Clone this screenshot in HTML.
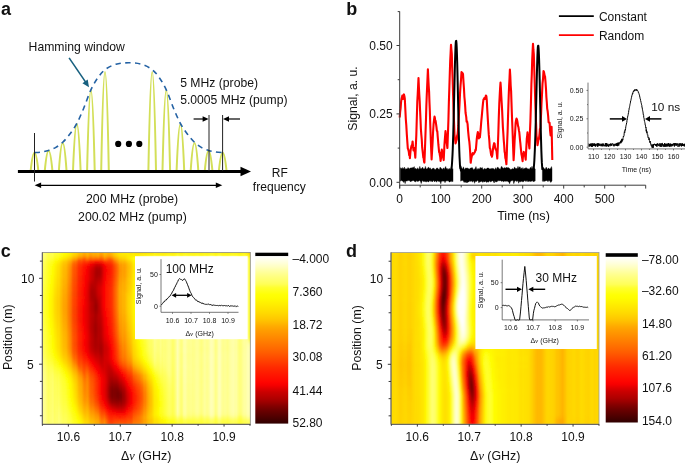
<!DOCTYPE html>
<html><head><meta charset="utf-8"><title>Figure</title>
<style>html,body{margin:0;padding:0;background:#fff;}svg{display:block;}text{font-family:"Liberation Sans",sans-serif;fill:#111;}</style>
</head><body><svg width="685" height="465" viewBox="0 0 685 465" font-family="Liberation Sans, sans-serif"><defs><clipPath id="clipc"><rect x="42.3" y="252.5" width="208" height="171.7"/></clipPath><clipPath id="clipd"><rect x="391" y="252.5" width="208" height="171.7"/></clipPath><filter id="hb" x="-5%" y="-5%" width="110%" height="110%"><feGaussianBlur stdDeviation="0.8 1.3"/></filter><linearGradient id="gc0" x1="0" x2="1" y1="0" y2="0"><stop offset="0.0000" stop-color="#ffff71"/><stop offset="0.0698" stop-color="#ffff49"/><stop offset="0.1302" stop-color="#fffb00"/><stop offset="0.2419" stop-color="#ffb400"/><stop offset="0.2977" stop-color="#ffb400"/><stop offset="0.4047" stop-color="#fff200"/><stop offset="0.4651" stop-color="#ffde00"/><stop offset="0.6837" stop-color="#fff200"/><stop offset="0.9628" stop-color="#fff400"/><stop offset="0.9721" stop-color="#ffd800"/><stop offset="0.9814" stop-color="#ffc300"/><stop offset="1.0000" stop-color="#ffc200"/></linearGradient><linearGradient id="gc1" x1="0" x2="1" y1="0" y2="0"><stop offset="0.0000" stop-color="#ffff71"/><stop offset="0.0651" stop-color="#ffff4c"/><stop offset="0.1256" stop-color="#fffe00"/><stop offset="0.2419" stop-color="#ffb000"/><stop offset="0.2930" stop-color="#ffac00"/><stop offset="0.4047" stop-color="#ffef00"/><stop offset="0.4651" stop-color="#ffdd00"/><stop offset="0.6605" stop-color="#fff200"/><stop offset="0.9628" stop-color="#fff400"/><stop offset="0.9721" stop-color="#ffd800"/><stop offset="0.9814" stop-color="#ffc300"/><stop offset="1.0000" stop-color="#ffc200"/></linearGradient><linearGradient id="gc2" x1="0" x2="1" y1="0" y2="0"><stop offset="0.0000" stop-color="#ffff70"/><stop offset="0.0651" stop-color="#ffff47"/><stop offset="0.1209" stop-color="#fffb00"/><stop offset="0.2419" stop-color="#ff9e00"/><stop offset="0.2884" stop-color="#ff9700"/><stop offset="0.3814" stop-color="#ffdc00"/><stop offset="0.4233" stop-color="#ffee00"/><stop offset="0.6512" stop-color="#fffc24"/><stop offset="0.9628" stop-color="#fffd29"/><stop offset="0.9721" stop-color="#ffee08"/><stop offset="0.9814" stop-color="#ffdc00"/><stop offset="1.0000" stop-color="#ffdb00"/></linearGradient><linearGradient id="gc3" x1="0" x2="1" y1="0" y2="0"><stop offset="0.0000" stop-color="#ffff6c"/><stop offset="0.0558" stop-color="#ffff41"/><stop offset="0.1023" stop-color="#fffa01"/><stop offset="0.2372" stop-color="#ff7100"/><stop offset="0.2791" stop-color="#ff5d00"/><stop offset="0.3488" stop-color="#ff9a00"/><stop offset="0.4372" stop-color="#fffd02"/><stop offset="0.4930" stop-color="#ffff54"/><stop offset="0.5581" stop-color="#ffff7b"/><stop offset="0.8186" stop-color="#ffff95"/><stop offset="0.9628" stop-color="#ffff92"/><stop offset="0.9674" stop-color="#ffff7c"/><stop offset="0.9767" stop-color="#ffff21"/><stop offset="0.9860" stop-color="#ffff12"/><stop offset="1.0000" stop-color="#ffff12"/></linearGradient><linearGradient id="gc4" x1="0" x2="1" y1="0" y2="0"><stop offset="0.0000" stop-color="#ffff66"/><stop offset="0.0512" stop-color="#ffff34"/><stop offset="0.0837" stop-color="#fffb01"/><stop offset="0.1535" stop-color="#ffa300"/><stop offset="0.2279" stop-color="#ff3800"/><stop offset="0.2744" stop-color="#fb1200"/><stop offset="0.3070" stop-color="#ff2d00"/><stop offset="0.3814" stop-color="#ff9b00"/><stop offset="0.4465" stop-color="#fff700"/><stop offset="0.4605" stop-color="#ffff10"/><stop offset="0.5023" stop-color="#ffff56"/><stop offset="0.5581" stop-color="#ffff7e"/><stop offset="0.7488" stop-color="#ffff97"/><stop offset="0.9581" stop-color="#ffff9c"/><stop offset="0.9628" stop-color="#ffff97"/><stop offset="0.9674" stop-color="#ffff81"/><stop offset="0.9767" stop-color="#ffff27"/><stop offset="0.9860" stop-color="#ffff18"/><stop offset="1.0000" stop-color="#ffff17"/></linearGradient><linearGradient id="gc5" x1="0" x2="1" y1="0" y2="0"><stop offset="0.0000" stop-color="#ffff62"/><stop offset="0.0465" stop-color="#ffff30"/><stop offset="0.0744" stop-color="#fffc00"/><stop offset="0.1349" stop-color="#ffad00"/><stop offset="0.2279" stop-color="#ff1000"/><stop offset="0.2512" stop-color="#f10000"/><stop offset="0.2744" stop-color="#c60000"/><stop offset="0.2884" stop-color="#d90000"/><stop offset="0.3070" stop-color="#fd0500"/><stop offset="0.3674" stop-color="#ff6800"/><stop offset="0.4419" stop-color="#ffe800"/><stop offset="0.4605" stop-color="#fffe00"/><stop offset="0.5023" stop-color="#ffff4f"/><stop offset="0.5535" stop-color="#ffff7a"/><stop offset="0.6884" stop-color="#ffff93"/><stop offset="0.9581" stop-color="#ffff9c"/><stop offset="0.9628" stop-color="#ffff97"/><stop offset="0.9674" stop-color="#ffff81"/><stop offset="0.9767" stop-color="#ffff27"/><stop offset="0.9860" stop-color="#ffff18"/><stop offset="1.0000" stop-color="#ffff17"/></linearGradient><linearGradient id="gc6" x1="0" x2="1" y1="0" y2="0"><stop offset="0.0000" stop-color="#ffff61"/><stop offset="0.0465" stop-color="#ffff2c"/><stop offset="0.0698" stop-color="#fffe00"/><stop offset="0.1302" stop-color="#ffae00"/><stop offset="0.2233" stop-color="#ff0800"/><stop offset="0.2465" stop-color="#e10000"/><stop offset="0.2744" stop-color="#a40000"/><stop offset="0.2837" stop-color="#ae0000"/><stop offset="0.3116" stop-color="#fa0000"/><stop offset="0.3767" stop-color="#ff7200"/><stop offset="0.4419" stop-color="#ffe500"/><stop offset="0.4651" stop-color="#ffff04"/><stop offset="0.5023" stop-color="#ffff4d"/><stop offset="0.5535" stop-color="#ffff7a"/><stop offset="0.6837" stop-color="#ffff93"/><stop offset="0.9581" stop-color="#ffff9c"/><stop offset="0.9628" stop-color="#ffff97"/><stop offset="0.9674" stop-color="#ffff81"/><stop offset="0.9767" stop-color="#ffff27"/><stop offset="0.9860" stop-color="#ffff18"/><stop offset="1.0000" stop-color="#ffff17"/></linearGradient><linearGradient id="gc7" x1="0" x2="1" y1="0" y2="0"><stop offset="0.0000" stop-color="#ffff60"/><stop offset="0.0465" stop-color="#ffff2a"/><stop offset="0.0698" stop-color="#fffd00"/><stop offset="0.1302" stop-color="#ffab00"/><stop offset="0.2233" stop-color="#ff0300"/><stop offset="0.2605" stop-color="#ba0000"/><stop offset="0.2744" stop-color="#970000"/><stop offset="0.2837" stop-color="#a20000"/><stop offset="0.3070" stop-color="#ec0000"/><stop offset="0.3163" stop-color="#ff0200"/><stop offset="0.4372" stop-color="#ffdf00"/><stop offset="0.4651" stop-color="#ffff04"/><stop offset="0.5023" stop-color="#ffff4d"/><stop offset="0.5535" stop-color="#ffff7a"/><stop offset="0.6837" stop-color="#ffff93"/><stop offset="0.9581" stop-color="#ffff9c"/><stop offset="0.9628" stop-color="#ffff97"/><stop offset="0.9674" stop-color="#ffff81"/><stop offset="0.9767" stop-color="#ffff27"/><stop offset="0.9860" stop-color="#ffff18"/><stop offset="1.0000" stop-color="#ffff17"/></linearGradient><linearGradient id="gc8" x1="0" x2="1" y1="0" y2="0"><stop offset="0.0000" stop-color="#ffff5f"/><stop offset="0.0465" stop-color="#ffff28"/><stop offset="0.0698" stop-color="#fffc00"/><stop offset="0.1302" stop-color="#ffa900"/><stop offset="0.2233" stop-color="#ff0100"/><stop offset="0.2605" stop-color="#b60000"/><stop offset="0.2744" stop-color="#950000"/><stop offset="0.2837" stop-color="#a10000"/><stop offset="0.3070" stop-color="#ed0000"/><stop offset="0.3209" stop-color="#ff0c00"/><stop offset="0.4372" stop-color="#ffe000"/><stop offset="0.4651" stop-color="#ffff06"/><stop offset="0.5023" stop-color="#ffff4e"/><stop offset="0.5535" stop-color="#ffff7a"/><stop offset="0.6884" stop-color="#ffff93"/><stop offset="0.9581" stop-color="#ffff9c"/><stop offset="0.9628" stop-color="#ffff97"/><stop offset="0.9674" stop-color="#ffff81"/><stop offset="0.9767" stop-color="#ffff27"/><stop offset="0.9860" stop-color="#ffff18"/><stop offset="1.0000" stop-color="#ffff17"/></linearGradient><linearGradient id="gc9" x1="0" x2="1" y1="0" y2="0"><stop offset="0.0000" stop-color="#ffff5e"/><stop offset="0.0465" stop-color="#ffff26"/><stop offset="0.0651" stop-color="#ffff00"/><stop offset="0.1209" stop-color="#ffb700"/><stop offset="0.2233" stop-color="#fe0000"/><stop offset="0.2744" stop-color="#9b0000"/><stop offset="0.2837" stop-color="#a80000"/><stop offset="0.3116" stop-color="#fd0000"/><stop offset="0.4372" stop-color="#ffe100"/><stop offset="0.4605" stop-color="#fffe00"/><stop offset="0.5023" stop-color="#ffff50"/><stop offset="0.5535" stop-color="#ffff7b"/><stop offset="0.6930" stop-color="#ffff94"/><stop offset="0.9581" stop-color="#ffff9c"/><stop offset="0.9628" stop-color="#ffff97"/><stop offset="0.9674" stop-color="#ffff81"/><stop offset="0.9767" stop-color="#ffff27"/><stop offset="0.9860" stop-color="#ffff18"/><stop offset="1.0000" stop-color="#ffff17"/></linearGradient><linearGradient id="gc10" x1="0" x2="1" y1="0" y2="0"><stop offset="0.0000" stop-color="#ffff5d"/><stop offset="0.0419" stop-color="#ffff2b"/><stop offset="0.0651" stop-color="#fffd00"/><stop offset="0.1256" stop-color="#ffac00"/><stop offset="0.2233" stop-color="#fb0000"/><stop offset="0.2651" stop-color="#ad0000"/><stop offset="0.2791" stop-color="#a90000"/><stop offset="0.3116" stop-color="#ff0200"/><stop offset="0.4279" stop-color="#ffd600"/><stop offset="0.4605" stop-color="#ffff01"/><stop offset="0.4977" stop-color="#ffff4b"/><stop offset="0.5488" stop-color="#ffff79"/><stop offset="0.6744" stop-color="#ffff92"/><stop offset="0.9581" stop-color="#ffff9c"/><stop offset="0.9628" stop-color="#ffff97"/><stop offset="0.9674" stop-color="#ffff81"/><stop offset="0.9767" stop-color="#ffff27"/><stop offset="0.9860" stop-color="#ffff18"/><stop offset="1.0000" stop-color="#ffff17"/></linearGradient><linearGradient id="gc11" x1="0" x2="1" y1="0" y2="0"><stop offset="0.0000" stop-color="#ffff5c"/><stop offset="0.0419" stop-color="#ffff28"/><stop offset="0.0651" stop-color="#fffc00"/><stop offset="0.1256" stop-color="#ffaa00"/><stop offset="0.2186" stop-color="#ff0300"/><stop offset="0.2558" stop-color="#b40000"/><stop offset="0.2744" stop-color="#b00000"/><stop offset="0.2930" stop-color="#d40000"/><stop offset="0.3116" stop-color="#ff0500"/><stop offset="0.4000" stop-color="#ffa900"/><stop offset="0.4558" stop-color="#fffc00"/><stop offset="0.5023" stop-color="#ffff53"/><stop offset="0.5581" stop-color="#ffff7e"/><stop offset="0.7395" stop-color="#ffff97"/><stop offset="0.9581" stop-color="#ffff9c"/><stop offset="0.9628" stop-color="#ffff97"/><stop offset="0.9674" stop-color="#ffff81"/><stop offset="0.9767" stop-color="#ffff27"/><stop offset="0.9860" stop-color="#ffff18"/><stop offset="1.0000" stop-color="#ffff17"/></linearGradient><linearGradient id="gc12" x1="0" x2="1" y1="0" y2="0"><stop offset="0.0000" stop-color="#ffff5b"/><stop offset="0.0419" stop-color="#ffff26"/><stop offset="0.0605" stop-color="#ffff00"/><stop offset="0.1163" stop-color="#ffb700"/><stop offset="0.2186" stop-color="#ff0100"/><stop offset="0.2512" stop-color="#b10000"/><stop offset="0.2698" stop-color="#b30000"/><stop offset="0.2977" stop-color="#e50000"/><stop offset="0.3070" stop-color="#fd0000"/><stop offset="0.4000" stop-color="#ffac00"/><stop offset="0.4558" stop-color="#fffe00"/><stop offset="0.4977" stop-color="#ffff4f"/><stop offset="0.5488" stop-color="#ffff7a"/><stop offset="0.6930" stop-color="#ffff94"/><stop offset="0.9581" stop-color="#ffff9c"/><stop offset="0.9628" stop-color="#ffff97"/><stop offset="0.9674" stop-color="#ffff81"/><stop offset="0.9767" stop-color="#ffff27"/><stop offset="0.9860" stop-color="#ffff18"/><stop offset="1.0000" stop-color="#ffff17"/></linearGradient><linearGradient id="gc13" x1="0" x2="1" y1="0" y2="0"><stop offset="0.0000" stop-color="#ffff59"/><stop offset="0.0419" stop-color="#ffff23"/><stop offset="0.0605" stop-color="#fffd00"/><stop offset="0.1209" stop-color="#ffac00"/><stop offset="0.2186" stop-color="#ff0000"/><stop offset="0.2512" stop-color="#aa0000"/><stop offset="0.2651" stop-color="#ad0000"/><stop offset="0.3070" stop-color="#ff0100"/><stop offset="0.3814" stop-color="#ff8e00"/><stop offset="0.4465" stop-color="#fff500"/><stop offset="0.4558" stop-color="#ffff01"/><stop offset="0.4930" stop-color="#ffff4b"/><stop offset="0.5442" stop-color="#ffff79"/><stop offset="0.6744" stop-color="#ffff92"/><stop offset="0.9581" stop-color="#ffff9c"/><stop offset="0.9628" stop-color="#ffff97"/><stop offset="0.9674" stop-color="#ffff81"/><stop offset="0.9767" stop-color="#ffff27"/><stop offset="0.9860" stop-color="#ffff18"/><stop offset="1.0000" stop-color="#ffff17"/></linearGradient><linearGradient id="gc14" x1="0" x2="1" y1="0" y2="0"><stop offset="0.0000" stop-color="#ffff58"/><stop offset="0.0419" stop-color="#ffff20"/><stop offset="0.0605" stop-color="#fffc00"/><stop offset="0.1209" stop-color="#ffaa00"/><stop offset="0.2186" stop-color="#fd0000"/><stop offset="0.2512" stop-color="#a40000"/><stop offset="0.2651" stop-color="#aa0000"/><stop offset="0.3070" stop-color="#ff0200"/><stop offset="0.3907" stop-color="#ffa100"/><stop offset="0.4465" stop-color="#fff700"/><stop offset="0.4605" stop-color="#ffff11"/><stop offset="0.4977" stop-color="#ffff53"/><stop offset="0.5535" stop-color="#ffff7d"/><stop offset="0.7395" stop-color="#ffff97"/><stop offset="0.9581" stop-color="#ffff9c"/><stop offset="0.9628" stop-color="#ffff97"/><stop offset="0.9674" stop-color="#ffff81"/><stop offset="0.9767" stop-color="#ffff27"/><stop offset="0.9860" stop-color="#ffff18"/><stop offset="1.0000" stop-color="#ffff17"/></linearGradient><linearGradient id="gc15" x1="0" x2="1" y1="0" y2="0"><stop offset="0.0000" stop-color="#ffff57"/><stop offset="0.0419" stop-color="#ffff1d"/><stop offset="0.0558" stop-color="#ffff00"/><stop offset="0.1116" stop-color="#ffb700"/><stop offset="0.2186" stop-color="#fb0000"/><stop offset="0.2512" stop-color="#a30000"/><stop offset="0.2651" stop-color="#a50000"/><stop offset="0.3070" stop-color="#ff0300"/><stop offset="0.4093" stop-color="#ffc400"/><stop offset="0.4512" stop-color="#fffd00"/><stop offset="0.4930" stop-color="#ffff4f"/><stop offset="0.5442" stop-color="#ffff7a"/><stop offset="0.6837" stop-color="#ffff93"/><stop offset="0.9581" stop-color="#ffff9c"/><stop offset="0.9628" stop-color="#ffff97"/><stop offset="0.9674" stop-color="#ffff81"/><stop offset="0.9767" stop-color="#ffff27"/><stop offset="0.9860" stop-color="#ffff18"/><stop offset="1.0000" stop-color="#ffff17"/></linearGradient><linearGradient id="gc16" x1="0" x2="1" y1="0" y2="0"><stop offset="0.0000" stop-color="#ffff56"/><stop offset="0.0419" stop-color="#ffff1b"/><stop offset="0.0558" stop-color="#fffe00"/><stop offset="0.1163" stop-color="#ffad00"/><stop offset="0.2093" stop-color="#ff0c00"/><stop offset="0.2233" stop-color="#ee0000"/><stop offset="0.2512" stop-color="#a50000"/><stop offset="0.2651" stop-color="#9e0000"/><stop offset="0.2791" stop-color="#b90000"/><stop offset="0.3070" stop-color="#ff0300"/><stop offset="0.4186" stop-color="#ffd400"/><stop offset="0.4512" stop-color="#fffe00"/><stop offset="0.4884" stop-color="#ffff49"/><stop offset="0.5395" stop-color="#ffff78"/><stop offset="0.6651" stop-color="#ffff91"/><stop offset="0.9581" stop-color="#ffff9c"/><stop offset="0.9628" stop-color="#ffff97"/><stop offset="0.9674" stop-color="#ffff81"/><stop offset="0.9767" stop-color="#ffff27"/><stop offset="0.9860" stop-color="#ffff18"/><stop offset="1.0000" stop-color="#ffff17"/></linearGradient><linearGradient id="gc17" x1="0" x2="1" y1="0" y2="0"><stop offset="0.0000" stop-color="#ffff55"/><stop offset="0.0419" stop-color="#ffff1a"/><stop offset="0.0558" stop-color="#fffd00"/><stop offset="0.1163" stop-color="#ffac00"/><stop offset="0.2140" stop-color="#ff0300"/><stop offset="0.2558" stop-color="#a20000"/><stop offset="0.2698" stop-color="#970000"/><stop offset="0.2791" stop-color="#af0000"/><stop offset="0.2977" stop-color="#ec0000"/><stop offset="0.3070" stop-color="#ff0200"/><stop offset="0.4186" stop-color="#ffd500"/><stop offset="0.4512" stop-color="#ffff00"/><stop offset="0.4884" stop-color="#ffff4a"/><stop offset="0.5395" stop-color="#ffff78"/><stop offset="0.6698" stop-color="#ffff92"/><stop offset="0.9581" stop-color="#ffff9c"/><stop offset="0.9628" stop-color="#ffff97"/><stop offset="0.9674" stop-color="#ffff81"/><stop offset="0.9767" stop-color="#ffff27"/><stop offset="0.9860" stop-color="#ffff18"/><stop offset="1.0000" stop-color="#ffff17"/></linearGradient><linearGradient id="gc18" x1="0" x2="1" y1="0" y2="0"><stop offset="0.0000" stop-color="#ffff55"/><stop offset="0.0419" stop-color="#ffff19"/><stop offset="0.0558" stop-color="#fffd00"/><stop offset="0.1163" stop-color="#ffab00"/><stop offset="0.2140" stop-color="#ff0100"/><stop offset="0.2698" stop-color="#8d0000"/><stop offset="0.2791" stop-color="#a60000"/><stop offset="0.2930" stop-color="#de0000"/><stop offset="0.3070" stop-color="#ff0100"/><stop offset="0.4186" stop-color="#ffd500"/><stop offset="0.4512" stop-color="#ffff01"/><stop offset="0.4884" stop-color="#ffff4b"/><stop offset="0.5395" stop-color="#ffff78"/><stop offset="0.6698" stop-color="#ffff92"/><stop offset="0.9581" stop-color="#ffff9c"/><stop offset="0.9628" stop-color="#ffff97"/><stop offset="0.9674" stop-color="#ffff81"/><stop offset="0.9767" stop-color="#ffff27"/><stop offset="0.9860" stop-color="#ffff18"/><stop offset="1.0000" stop-color="#ffff17"/></linearGradient><linearGradient id="gc19" x1="0" x2="1" y1="0" y2="0"><stop offset="0.0000" stop-color="#ffff54"/><stop offset="0.0419" stop-color="#ffff18"/><stop offset="0.0558" stop-color="#fffd00"/><stop offset="0.1116" stop-color="#ffb200"/><stop offset="0.2140" stop-color="#fe0000"/><stop offset="0.2698" stop-color="#8a0000"/><stop offset="0.2744" stop-color="#8f0000"/><stop offset="0.2930" stop-color="#dc0000"/><stop offset="0.3070" stop-color="#fe0000"/><stop offset="0.4186" stop-color="#ffd500"/><stop offset="0.4512" stop-color="#ffff00"/><stop offset="0.4884" stop-color="#ffff4a"/><stop offset="0.5395" stop-color="#ffff78"/><stop offset="0.6698" stop-color="#ffff92"/><stop offset="0.9581" stop-color="#ffff9c"/><stop offset="0.9628" stop-color="#ffff97"/><stop offset="0.9674" stop-color="#ffff81"/><stop offset="0.9767" stop-color="#ffff27"/><stop offset="0.9860" stop-color="#ffff18"/><stop offset="1.0000" stop-color="#ffff17"/></linearGradient><linearGradient id="gc20" x1="0" x2="1" y1="0" y2="0"><stop offset="0.0000" stop-color="#ffff55"/><stop offset="0.0419" stop-color="#ffff19"/><stop offset="0.0558" stop-color="#fffd00"/><stop offset="0.1116" stop-color="#ffb200"/><stop offset="0.2140" stop-color="#fb0000"/><stop offset="0.2698" stop-color="#8d0000"/><stop offset="0.2791" stop-color="#a20000"/><stop offset="0.2930" stop-color="#d90000"/><stop offset="0.3116" stop-color="#ff0500"/><stop offset="0.4186" stop-color="#ffd400"/><stop offset="0.4512" stop-color="#fffe00"/><stop offset="0.4884" stop-color="#ffff49"/><stop offset="0.5395" stop-color="#ffff78"/><stop offset="0.6651" stop-color="#ffff91"/><stop offset="0.9581" stop-color="#ffff9c"/><stop offset="0.9628" stop-color="#ffff97"/><stop offset="0.9674" stop-color="#ffff81"/><stop offset="0.9767" stop-color="#ffff27"/><stop offset="0.9860" stop-color="#ffff18"/><stop offset="1.0000" stop-color="#ffff17"/></linearGradient><linearGradient id="gc21" x1="0" x2="1" y1="0" y2="0"><stop offset="0.0000" stop-color="#ffff55"/><stop offset="0.0419" stop-color="#ffff1a"/><stop offset="0.0558" stop-color="#fffd00"/><stop offset="0.1116" stop-color="#ffb300"/><stop offset="0.2140" stop-color="#f90000"/><stop offset="0.2698" stop-color="#940000"/><stop offset="0.2791" stop-color="#a60000"/><stop offset="0.2977" stop-color="#e10000"/><stop offset="0.3116" stop-color="#ff0200"/><stop offset="0.4186" stop-color="#ffd300"/><stop offset="0.4512" stop-color="#fffd00"/><stop offset="0.4930" stop-color="#ffff4f"/><stop offset="0.5442" stop-color="#ffff7a"/><stop offset="0.6884" stop-color="#ffff93"/><stop offset="0.9581" stop-color="#ffff9c"/><stop offset="0.9628" stop-color="#ffff97"/><stop offset="0.9674" stop-color="#ffff81"/><stop offset="0.9767" stop-color="#ffff27"/><stop offset="0.9860" stop-color="#ffff18"/><stop offset="1.0000" stop-color="#ffff17"/></linearGradient><linearGradient id="gc22" x1="0" x2="1" y1="0" y2="0"><stop offset="0.0000" stop-color="#ffff56"/><stop offset="0.0419" stop-color="#ffff1c"/><stop offset="0.0558" stop-color="#fffe00"/><stop offset="0.1116" stop-color="#ffb500"/><stop offset="0.2093" stop-color="#ff0300"/><stop offset="0.2698" stop-color="#9b0000"/><stop offset="0.2837" stop-color="#b90000"/><stop offset="0.3116" stop-color="#fe0000"/><stop offset="0.4233" stop-color="#ffd800"/><stop offset="0.4558" stop-color="#ffff05"/><stop offset="0.4930" stop-color="#ffff4d"/><stop offset="0.5442" stop-color="#ffff79"/><stop offset="0.6791" stop-color="#ffff92"/><stop offset="0.9581" stop-color="#ffff9c"/><stop offset="0.9628" stop-color="#ffff97"/><stop offset="0.9674" stop-color="#ffff81"/><stop offset="0.9767" stop-color="#ffff27"/><stop offset="0.9860" stop-color="#ffff18"/><stop offset="1.0000" stop-color="#ffff17"/></linearGradient><linearGradient id="gc23" x1="0" x2="1" y1="0" y2="0"><stop offset="0.0000" stop-color="#ffff57"/><stop offset="0.0419" stop-color="#ffff1e"/><stop offset="0.0558" stop-color="#ffff01"/><stop offset="0.1116" stop-color="#ffb700"/><stop offset="0.2140" stop-color="#f90000"/><stop offset="0.2651" stop-color="#9e0000"/><stop offset="0.2791" stop-color="#ab0000"/><stop offset="0.3163" stop-color="#ff0400"/><stop offset="0.4233" stop-color="#ffd600"/><stop offset="0.4558" stop-color="#ffff01"/><stop offset="0.4930" stop-color="#ffff4b"/><stop offset="0.5442" stop-color="#ffff79"/><stop offset="0.6744" stop-color="#ffff92"/><stop offset="0.9581" stop-color="#ffff9c"/><stop offset="0.9628" stop-color="#ffff97"/><stop offset="0.9674" stop-color="#ffff81"/><stop offset="0.9767" stop-color="#ffff27"/><stop offset="0.9860" stop-color="#ffff18"/><stop offset="1.0000" stop-color="#ffff17"/></linearGradient><linearGradient id="gc24" x1="0" x2="1" y1="0" y2="0"><stop offset="0.0000" stop-color="#ffff59"/><stop offset="0.0419" stop-color="#ffff21"/><stop offset="0.0605" stop-color="#fffc00"/><stop offset="0.1163" stop-color="#ffb100"/><stop offset="0.2140" stop-color="#fb0000"/><stop offset="0.2651" stop-color="#9c0000"/><stop offset="0.2791" stop-color="#a90000"/><stop offset="0.3163" stop-color="#ff0100"/><stop offset="0.4233" stop-color="#ffd300"/><stop offset="0.4558" stop-color="#fffe00"/><stop offset="0.4977" stop-color="#ffff50"/><stop offset="0.5488" stop-color="#ffff7a"/><stop offset="0.6930" stop-color="#ffff94"/><stop offset="0.9581" stop-color="#ffff9c"/><stop offset="0.9628" stop-color="#ffff97"/><stop offset="0.9674" stop-color="#ffff81"/><stop offset="0.9767" stop-color="#ffff27"/><stop offset="0.9860" stop-color="#ffff18"/><stop offset="1.0000" stop-color="#ffff17"/></linearGradient><linearGradient id="gc25" x1="0" x2="1" y1="0" y2="0"><stop offset="0.0000" stop-color="#ffff5a"/><stop offset="0.0419" stop-color="#ffff24"/><stop offset="0.0605" stop-color="#fffe00"/><stop offset="0.1163" stop-color="#ffb400"/><stop offset="0.2140" stop-color="#fe0000"/><stop offset="0.2651" stop-color="#980000"/><stop offset="0.2791" stop-color="#a60000"/><stop offset="0.3163" stop-color="#fd0000"/><stop offset="0.4279" stop-color="#ffd800"/><stop offset="0.4605" stop-color="#ffff05"/><stop offset="0.4977" stop-color="#ffff4e"/><stop offset="0.5488" stop-color="#ffff7a"/><stop offset="0.6837" stop-color="#ffff93"/><stop offset="0.9581" stop-color="#ffff9c"/><stop offset="0.9628" stop-color="#ffff97"/><stop offset="0.9674" stop-color="#ffff81"/><stop offset="0.9767" stop-color="#ffff27"/><stop offset="0.9860" stop-color="#ffff18"/><stop offset="1.0000" stop-color="#ffff17"/></linearGradient><linearGradient id="gc26" x1="0" x2="1" y1="0" y2="0"><stop offset="0.0000" stop-color="#ffff5c"/><stop offset="0.0419" stop-color="#ffff27"/><stop offset="0.0605" stop-color="#ffff01"/><stop offset="0.1163" stop-color="#ffb700"/><stop offset="0.2140" stop-color="#ff0200"/><stop offset="0.2651" stop-color="#960000"/><stop offset="0.2791" stop-color="#a40000"/><stop offset="0.3209" stop-color="#ff0400"/><stop offset="0.4279" stop-color="#ffd500"/><stop offset="0.4605" stop-color="#ffff01"/><stop offset="0.4977" stop-color="#ffff4b"/><stop offset="0.5488" stop-color="#ffff79"/><stop offset="0.6791" stop-color="#ffff92"/><stop offset="0.9581" stop-color="#ffff9c"/><stop offset="0.9628" stop-color="#ffff97"/><stop offset="0.9674" stop-color="#ffff81"/><stop offset="0.9767" stop-color="#ffff27"/><stop offset="0.9860" stop-color="#ffff18"/><stop offset="1.0000" stop-color="#ffff17"/></linearGradient><linearGradient id="gc27" x1="0" x2="1" y1="0" y2="0"><stop offset="0.0000" stop-color="#ffff5d"/><stop offset="0.0419" stop-color="#ffff2a"/><stop offset="0.0651" stop-color="#fffd00"/><stop offset="0.1209" stop-color="#ffb200"/><stop offset="0.2186" stop-color="#fb0000"/><stop offset="0.2651" stop-color="#960000"/><stop offset="0.2791" stop-color="#a30000"/><stop offset="0.3209" stop-color="#ff0100"/><stop offset="0.4279" stop-color="#ffd300"/><stop offset="0.4605" stop-color="#fffe00"/><stop offset="0.5023" stop-color="#ffff4f"/><stop offset="0.5535" stop-color="#ffff7b"/><stop offset="0.6930" stop-color="#ffff94"/><stop offset="0.9581" stop-color="#ffff9c"/><stop offset="0.9628" stop-color="#ffff97"/><stop offset="0.9674" stop-color="#ffff82"/><stop offset="0.9767" stop-color="#ffff27"/><stop offset="0.9860" stop-color="#ffff18"/><stop offset="1.0000" stop-color="#ffff18"/></linearGradient><linearGradient id="gc28" x1="0" x2="1" y1="0" y2="0"><stop offset="0.0000" stop-color="#ffff5e"/><stop offset="0.0419" stop-color="#ffff2d"/><stop offset="0.0651" stop-color="#fffe00"/><stop offset="0.1209" stop-color="#ffb500"/><stop offset="0.2186" stop-color="#ff0000"/><stop offset="0.2651" stop-color="#990000"/><stop offset="0.2791" stop-color="#a40000"/><stop offset="0.3209" stop-color="#fd0000"/><stop offset="0.4326" stop-color="#ffd700"/><stop offset="0.4651" stop-color="#ffff04"/><stop offset="0.5023" stop-color="#ffff4d"/><stop offset="0.5535" stop-color="#ffff7a"/><stop offset="0.6884" stop-color="#ffff93"/><stop offset="0.9581" stop-color="#ffff9c"/><stop offset="0.9628" stop-color="#ffff97"/><stop offset="0.9674" stop-color="#ffff82"/><stop offset="0.9767" stop-color="#ffff29"/><stop offset="0.9860" stop-color="#ffff1a"/><stop offset="1.0000" stop-color="#ffff19"/></linearGradient><linearGradient id="gc29" x1="0" x2="1" y1="0" y2="0"><stop offset="0.0000" stop-color="#ffff5f"/><stop offset="0.0465" stop-color="#ffff28"/><stop offset="0.0651" stop-color="#ffff02"/><stop offset="0.1209" stop-color="#ffb700"/><stop offset="0.2186" stop-color="#ff0100"/><stop offset="0.2651" stop-color="#9c0000"/><stop offset="0.2791" stop-color="#a50000"/><stop offset="0.3256" stop-color="#ff0200"/><stop offset="0.4326" stop-color="#ffd500"/><stop offset="0.4651" stop-color="#ffff00"/><stop offset="0.5023" stop-color="#ffff4b"/><stop offset="0.5535" stop-color="#ffff79"/><stop offset="0.6791" stop-color="#ffff92"/><stop offset="0.9581" stop-color="#ffff9c"/><stop offset="0.9628" stop-color="#ffff98"/><stop offset="0.9674" stop-color="#ffff83"/><stop offset="0.9767" stop-color="#ffff2f"/><stop offset="0.9860" stop-color="#ffff20"/><stop offset="1.0000" stop-color="#ffff20"/></linearGradient><linearGradient id="gc30" x1="0" x2="1" y1="0" y2="0"><stop offset="0.0000" stop-color="#ffff60"/><stop offset="0.0465" stop-color="#ffff29"/><stop offset="0.0698" stop-color="#fffc00"/><stop offset="0.1256" stop-color="#ffb100"/><stop offset="0.2186" stop-color="#ff0000"/><stop offset="0.2651" stop-color="#9f0000"/><stop offset="0.2837" stop-color="#ab0000"/><stop offset="0.3302" stop-color="#ff0500"/><stop offset="0.4326" stop-color="#ffd100"/><stop offset="0.4698" stop-color="#ffff07"/><stop offset="0.5070" stop-color="#ffff4e"/><stop offset="0.5581" stop-color="#ffff7b"/><stop offset="0.6930" stop-color="#ffff94"/><stop offset="0.9628" stop-color="#ffff99"/><stop offset="0.9674" stop-color="#ffff88"/><stop offset="0.9767" stop-color="#ffff42"/><stop offset="0.9907" stop-color="#ffff36"/><stop offset="1.0000" stop-color="#ffff36"/></linearGradient><linearGradient id="gc31" x1="0" x2="1" y1="0" y2="0"><stop offset="0.0000" stop-color="#ffff61"/><stop offset="0.0465" stop-color="#ffff2b"/><stop offset="0.0698" stop-color="#fffd00"/><stop offset="0.1256" stop-color="#ffb200"/><stop offset="0.2186" stop-color="#fd0000"/><stop offset="0.2605" stop-color="#a60000"/><stop offset="0.2791" stop-color="#a30000"/><stop offset="0.3163" stop-color="#db0000"/><stop offset="0.3302" stop-color="#fc0000"/><stop offset="0.4326" stop-color="#ffce00"/><stop offset="0.4698" stop-color="#ffff01"/><stop offset="0.5070" stop-color="#ffff4b"/><stop offset="0.5581" stop-color="#ffff7a"/><stop offset="0.6837" stop-color="#ffff93"/><stop offset="0.9628" stop-color="#ffff9b"/><stop offset="0.9674" stop-color="#ffff91"/><stop offset="0.9767" stop-color="#ffff69"/><stop offset="1.0000" stop-color="#ffff63"/></linearGradient><linearGradient id="gc32" x1="0" x2="1" y1="0" y2="0"><stop offset="0.0000" stop-color="#ffff62"/><stop offset="0.0465" stop-color="#ffff2d"/><stop offset="0.0698" stop-color="#fffe00"/><stop offset="0.1256" stop-color="#ffb300"/><stop offset="0.2186" stop-color="#fd0000"/><stop offset="0.2605" stop-color="#a70000"/><stop offset="0.2791" stop-color="#a20000"/><stop offset="0.3116" stop-color="#ca0000"/><stop offset="0.3349" stop-color="#ff0100"/><stop offset="0.4326" stop-color="#ffca00"/><stop offset="0.4698" stop-color="#fffd00"/><stop offset="0.5163" stop-color="#ffff55"/><stop offset="0.5674" stop-color="#ffff7e"/><stop offset="0.7256" stop-color="#ffff96"/><stop offset="0.9674" stop-color="#ffff99"/><stop offset="0.9860" stop-color="#ffff89"/><stop offset="1.0000" stop-color="#ffff89"/></linearGradient><linearGradient id="gc33" x1="0" x2="1" y1="0" y2="0"><stop offset="0.0000" stop-color="#ffff63"/><stop offset="0.0465" stop-color="#ffff30"/><stop offset="0.0698" stop-color="#ffff01"/><stop offset="0.1256" stop-color="#ffb600"/><stop offset="0.2186" stop-color="#ff0100"/><stop offset="0.2605" stop-color="#ac0000"/><stop offset="0.2837" stop-color="#a50000"/><stop offset="0.3163" stop-color="#ce0000"/><stop offset="0.3395" stop-color="#ff0600"/><stop offset="0.4326" stop-color="#ffc700"/><stop offset="0.4744" stop-color="#ffff01"/><stop offset="0.5116" stop-color="#ffff4c"/><stop offset="0.5581" stop-color="#ffff78"/><stop offset="0.6698" stop-color="#ffff91"/><stop offset="0.9767" stop-color="#ffff99"/><stop offset="1.0000" stop-color="#ffff98"/></linearGradient><linearGradient id="gc34" x1="0" x2="1" y1="0" y2="0"><stop offset="0.0000" stop-color="#ffff64"/><stop offset="0.0465" stop-color="#ffff34"/><stop offset="0.0744" stop-color="#fffe00"/><stop offset="0.1302" stop-color="#ffb300"/><stop offset="0.2233" stop-color="#fc0000"/><stop offset="0.2605" stop-color="#b40000"/><stop offset="0.2837" stop-color="#aa0000"/><stop offset="0.3116" stop-color="#c50000"/><stop offset="0.3395" stop-color="#ff0300"/><stop offset="0.4372" stop-color="#ffcb00"/><stop offset="0.4791" stop-color="#ffff06"/><stop offset="0.5163" stop-color="#ffff4f"/><stop offset="0.5628" stop-color="#ffff7a"/><stop offset="0.6837" stop-color="#ffff93"/><stop offset="1.0000" stop-color="#ffff9d"/></linearGradient><linearGradient id="gc35" x1="0" x2="1" y1="0" y2="0"><stop offset="0.0000" stop-color="#ffff67"/><stop offset="0.0465" stop-color="#ffff39"/><stop offset="0.0791" stop-color="#fffd00"/><stop offset="0.1349" stop-color="#ffb200"/><stop offset="0.2279" stop-color="#fd0200"/><stop offset="0.2651" stop-color="#bc0000"/><stop offset="0.2930" stop-color="#b50000"/><stop offset="0.3209" stop-color="#d70000"/><stop offset="0.3395" stop-color="#ff0200"/><stop offset="0.4419" stop-color="#ffce00"/><stop offset="0.4791" stop-color="#fffe00"/><stop offset="0.5256" stop-color="#ffff57"/><stop offset="0.5767" stop-color="#ffff7f"/><stop offset="0.7488" stop-color="#ffff97"/><stop offset="1.0000" stop-color="#ffff9e"/></linearGradient><linearGradient id="gc36" x1="0" x2="1" y1="0" y2="0"><stop offset="0.0000" stop-color="#ffff69"/><stop offset="0.0512" stop-color="#ffff3a"/><stop offset="0.0837" stop-color="#fffd00"/><stop offset="0.1395" stop-color="#ffb400"/><stop offset="0.2326" stop-color="#ff0500"/><stop offset="0.2744" stop-color="#c10000"/><stop offset="0.3023" stop-color="#c10000"/><stop offset="0.3302" stop-color="#e90000"/><stop offset="0.3395" stop-color="#fe0000"/><stop offset="0.4465" stop-color="#ffcf00"/><stop offset="0.4837" stop-color="#fffd00"/><stop offset="0.5302" stop-color="#ffff58"/><stop offset="0.5814" stop-color="#ffff80"/><stop offset="0.7535" stop-color="#ffff98"/><stop offset="1.0000" stop-color="#ffff9e"/></linearGradient><linearGradient id="gc37" x1="0" x2="1" y1="0" y2="0"><stop offset="0.0000" stop-color="#ffff6c"/><stop offset="0.0512" stop-color="#ffff43"/><stop offset="0.0930" stop-color="#fffb00"/><stop offset="0.1488" stop-color="#ffb000"/><stop offset="0.2419" stop-color="#ff0400"/><stop offset="0.2791" stop-color="#ca0000"/><stop offset="0.3070" stop-color="#c70000"/><stop offset="0.3349" stop-color="#ed0000"/><stop offset="0.3488" stop-color="#ff0900"/><stop offset="0.4465" stop-color="#ffc600"/><stop offset="0.4930" stop-color="#fffe04"/><stop offset="0.5349" stop-color="#ffff56"/><stop offset="0.5814" stop-color="#ffff7e"/><stop offset="0.7256" stop-color="#ffff96"/><stop offset="1.0000" stop-color="#ffff9e"/></linearGradient><linearGradient id="gc38" x1="0" x2="1" y1="0" y2="0"><stop offset="0.0000" stop-color="#ffff70"/><stop offset="0.0558" stop-color="#ffff47"/><stop offset="0.1023" stop-color="#fffa00"/><stop offset="0.1581" stop-color="#ffae00"/><stop offset="0.2512" stop-color="#ff0400"/><stop offset="0.2884" stop-color="#cd0000"/><stop offset="0.3163" stop-color="#cd0000"/><stop offset="0.3535" stop-color="#ff0600"/><stop offset="0.4512" stop-color="#ffbf00"/><stop offset="0.5023" stop-color="#fffe06"/><stop offset="0.5395" stop-color="#ffff53"/><stop offset="0.5860" stop-color="#ffff7d"/><stop offset="0.7163" stop-color="#ffff95"/><stop offset="1.0000" stop-color="#ffff9e"/></linearGradient><linearGradient id="gc39" x1="0" x2="1" y1="0" y2="0"><stop offset="0.0000" stop-color="#ffff73"/><stop offset="0.0558" stop-color="#ffff52"/><stop offset="0.0977" stop-color="#ffff13"/><stop offset="0.1116" stop-color="#fffa00"/><stop offset="0.1721" stop-color="#ffa600"/><stop offset="0.2605" stop-color="#ff0500"/><stop offset="0.3023" stop-color="#cc0000"/><stop offset="0.3302" stop-color="#d20000"/><stop offset="0.3628" stop-color="#ff0500"/><stop offset="0.4558" stop-color="#ffb500"/><stop offset="0.5116" stop-color="#fffe06"/><stop offset="0.5442" stop-color="#ffff4e"/><stop offset="0.5860" stop-color="#ffff79"/><stop offset="0.6884" stop-color="#ffff93"/><stop offset="1.0000" stop-color="#ffff9e"/></linearGradient><linearGradient id="gc40" x1="0" x2="1" y1="0" y2="0"><stop offset="0.0000" stop-color="#ffff75"/><stop offset="0.0605" stop-color="#ffff56"/><stop offset="0.1023" stop-color="#ffff1d"/><stop offset="0.1209" stop-color="#fffa00"/><stop offset="0.1767" stop-color="#ffae00"/><stop offset="0.2698" stop-color="#ff0500"/><stop offset="0.3116" stop-color="#cc0000"/><stop offset="0.3395" stop-color="#d10000"/><stop offset="0.3721" stop-color="#fd0300"/><stop offset="0.4651" stop-color="#ffb000"/><stop offset="0.5209" stop-color="#fffe06"/><stop offset="0.5535" stop-color="#ffff50"/><stop offset="0.6000" stop-color="#ffff7c"/><stop offset="0.7116" stop-color="#ffff95"/><stop offset="1.0000" stop-color="#ffff9e"/></linearGradient><linearGradient id="gc41" x1="0" x2="1" y1="0" y2="0"><stop offset="0.0000" stop-color="#ffff77"/><stop offset="0.0651" stop-color="#ffff5a"/><stop offset="0.1070" stop-color="#ffff25"/><stop offset="0.1302" stop-color="#fffa00"/><stop offset="0.1860" stop-color="#ffae00"/><stop offset="0.2791" stop-color="#ff0400"/><stop offset="0.3163" stop-color="#cc0000"/><stop offset="0.3488" stop-color="#cc0000"/><stop offset="0.3721" stop-color="#e60000"/><stop offset="0.3860" stop-color="#ff0700"/><stop offset="0.4698" stop-color="#ffa200"/><stop offset="0.5256" stop-color="#fffc00"/><stop offset="0.5628" stop-color="#ffff51"/><stop offset="0.6093" stop-color="#ffff7d"/><stop offset="0.7209" stop-color="#ffff95"/><stop offset="1.0000" stop-color="#ffff9e"/></linearGradient><linearGradient id="gc42" x1="0" x2="1" y1="0" y2="0"><stop offset="0.0000" stop-color="#ffff78"/><stop offset="0.0698" stop-color="#ffff5d"/><stop offset="0.1116" stop-color="#ffff2b"/><stop offset="0.1349" stop-color="#fffd00"/><stop offset="0.1907" stop-color="#ffb300"/><stop offset="0.2884" stop-color="#fd0100"/><stop offset="0.3209" stop-color="#ca0000"/><stop offset="0.3628" stop-color="#c20000"/><stop offset="0.3814" stop-color="#e00000"/><stop offset="0.3953" stop-color="#ff0600"/><stop offset="0.5349" stop-color="#fffe02"/><stop offset="0.5674" stop-color="#ffff4c"/><stop offset="0.6140" stop-color="#ffff7c"/><stop offset="0.7163" stop-color="#ffff95"/><stop offset="1.0000" stop-color="#ffff9e"/></linearGradient><linearGradient id="gc43" x1="0" x2="1" y1="0" y2="0"><stop offset="0.0000" stop-color="#ffff79"/><stop offset="0.0744" stop-color="#ffff5e"/><stop offset="0.1163" stop-color="#ffff2d"/><stop offset="0.1395" stop-color="#fffe01"/><stop offset="0.1953" stop-color="#ffb500"/><stop offset="0.2930" stop-color="#fd0000"/><stop offset="0.3256" stop-color="#c50000"/><stop offset="0.3674" stop-color="#b00000"/><stop offset="0.3860" stop-color="#d10000"/><stop offset="0.4000" stop-color="#fb0100"/><stop offset="0.5070" stop-color="#ffc400"/><stop offset="0.5395" stop-color="#fffc00"/><stop offset="0.5767" stop-color="#ffff51"/><stop offset="0.6233" stop-color="#ffff7d"/><stop offset="0.7302" stop-color="#ffff96"/><stop offset="1.0000" stop-color="#ffff9e"/></linearGradient><linearGradient id="gc44" x1="0" x2="1" y1="0" y2="0"><stop offset="0.0000" stop-color="#ffff7a"/><stop offset="0.0744" stop-color="#ffff62"/><stop offset="0.1209" stop-color="#ffff2d"/><stop offset="0.1442" stop-color="#fffe00"/><stop offset="0.2000" stop-color="#ffb400"/><stop offset="0.2930" stop-color="#ff0200"/><stop offset="0.3302" stop-color="#bd0000"/><stop offset="0.3674" stop-color="#9c0000"/><stop offset="0.3860" stop-color="#b70000"/><stop offset="0.4093" stop-color="#fe0300"/><stop offset="0.4930" stop-color="#ff9900"/><stop offset="0.5395" stop-color="#fff500"/><stop offset="0.5488" stop-color="#ffff07"/><stop offset="0.5767" stop-color="#ffff48"/><stop offset="0.6186" stop-color="#ffff77"/><stop offset="0.7023" stop-color="#ffff93"/><stop offset="1.0000" stop-color="#ffff9e"/></linearGradient><linearGradient id="gc45" x1="0" x2="1" y1="0" y2="0"><stop offset="0.0000" stop-color="#ffff7a"/><stop offset="0.0791" stop-color="#ffff61"/><stop offset="0.1256" stop-color="#ffff2a"/><stop offset="0.1488" stop-color="#fffd00"/><stop offset="0.2047" stop-color="#ffb000"/><stop offset="0.2930" stop-color="#ff0300"/><stop offset="0.3302" stop-color="#b80000"/><stop offset="0.3674" stop-color="#890000"/><stop offset="0.3814" stop-color="#950000"/><stop offset="0.4000" stop-color="#d10000"/><stop offset="0.4140" stop-color="#fb0100"/><stop offset="0.4837" stop-color="#ff7800"/><stop offset="0.5395" stop-color="#ffef00"/><stop offset="0.5488" stop-color="#fffd00"/><stop offset="0.5860" stop-color="#ffff50"/><stop offset="0.6326" stop-color="#ffff7e"/><stop offset="0.7349" stop-color="#ffff96"/><stop offset="1.0000" stop-color="#ffff9e"/></linearGradient><linearGradient id="gc46" x1="0" x2="1" y1="0" y2="0"><stop offset="0.0000" stop-color="#ffff7a"/><stop offset="0.0791" stop-color="#ffff62"/><stop offset="0.1256" stop-color="#ffff2e"/><stop offset="0.1488" stop-color="#fffe00"/><stop offset="0.2047" stop-color="#ffb300"/><stop offset="0.2930" stop-color="#ff0200"/><stop offset="0.3302" stop-color="#b20000"/><stop offset="0.3674" stop-color="#790000"/><stop offset="0.3814" stop-color="#800000"/><stop offset="0.3953" stop-color="#ab0000"/><stop offset="0.4140" stop-color="#eb0000"/><stop offset="0.4233" stop-color="#ff0300"/><stop offset="0.4837" stop-color="#ff6d00"/><stop offset="0.5395" stop-color="#ffea00"/><stop offset="0.5535" stop-color="#fffe01"/><stop offset="0.5860" stop-color="#ffff4b"/><stop offset="0.6326" stop-color="#ffff7c"/><stop offset="0.7256" stop-color="#ffff95"/><stop offset="1.0000" stop-color="#ffff9e"/></linearGradient><linearGradient id="gc47" x1="0" x2="1" y1="0" y2="0"><stop offset="0.0000" stop-color="#ffff7a"/><stop offset="0.0791" stop-color="#ffff63"/><stop offset="0.1256" stop-color="#ffff30"/><stop offset="0.1535" stop-color="#fffb00"/><stop offset="0.2093" stop-color="#ffad00"/><stop offset="0.2930" stop-color="#ff0200"/><stop offset="0.3302" stop-color="#ae0000"/><stop offset="0.3674" stop-color="#6d0000"/><stop offset="0.3814" stop-color="#700000"/><stop offset="0.3953" stop-color="#9a0000"/><stop offset="0.4140" stop-color="#de0000"/><stop offset="0.4279" stop-color="#fe0200"/><stop offset="0.4837" stop-color="#ff6600"/><stop offset="0.5395" stop-color="#ffe600"/><stop offset="0.5581" stop-color="#ffff06"/><stop offset="0.5907" stop-color="#ffff4e"/><stop offset="0.6372" stop-color="#ffff7d"/><stop offset="0.7349" stop-color="#ffff96"/><stop offset="1.0000" stop-color="#ffff9e"/></linearGradient><linearGradient id="gc48" x1="0" x2="1" y1="0" y2="0"><stop offset="0.0000" stop-color="#ffff7a"/><stop offset="0.0791" stop-color="#ffff64"/><stop offset="0.1256" stop-color="#ffff33"/><stop offset="0.1535" stop-color="#fffd00"/><stop offset="0.2093" stop-color="#ffb000"/><stop offset="0.2930" stop-color="#ff0300"/><stop offset="0.3349" stop-color="#a50000"/><stop offset="0.3721" stop-color="#630000"/><stop offset="0.3860" stop-color="#6c0000"/><stop offset="0.4093" stop-color="#c70000"/><stop offset="0.4326" stop-color="#ff0200"/><stop offset="0.4837" stop-color="#ff6100"/><stop offset="0.5395" stop-color="#ffe300"/><stop offset="0.5581" stop-color="#ffff01"/><stop offset="0.5907" stop-color="#ffff4b"/><stop offset="0.6372" stop-color="#ffff7c"/><stop offset="0.7302" stop-color="#ffff95"/><stop offset="1.0000" stop-color="#ffff9e"/></linearGradient><linearGradient id="gc49" x1="0" x2="1" y1="0" y2="0"><stop offset="0.0000" stop-color="#ffff7b"/><stop offset="0.0791" stop-color="#ffff65"/><stop offset="0.1256" stop-color="#ffff36"/><stop offset="0.1535" stop-color="#fffe00"/><stop offset="0.2093" stop-color="#ffb300"/><stop offset="0.2977" stop-color="#fb0000"/><stop offset="0.3302" stop-color="#af0000"/><stop offset="0.3721" stop-color="#640000"/><stop offset="0.3860" stop-color="#680000"/><stop offset="0.4093" stop-color="#c20000"/><stop offset="0.4326" stop-color="#fd0000"/><stop offset="0.4837" stop-color="#ff5f00"/><stop offset="0.5395" stop-color="#ffe100"/><stop offset="0.5581" stop-color="#fffd00"/><stop offset="0.5953" stop-color="#ffff50"/><stop offset="0.6419" stop-color="#ffff7e"/><stop offset="0.7395" stop-color="#ffff96"/><stop offset="1.0000" stop-color="#ffff9e"/></linearGradient><linearGradient id="gc50" x1="0" x2="1" y1="0" y2="0"><stop offset="0.0000" stop-color="#ffff7b"/><stop offset="0.0837" stop-color="#ffff64"/><stop offset="0.1302" stop-color="#ffff32"/><stop offset="0.1581" stop-color="#fffc00"/><stop offset="0.2140" stop-color="#ffaf00"/><stop offset="0.2977" stop-color="#ff0400"/><stop offset="0.3395" stop-color="#a70000"/><stop offset="0.3721" stop-color="#6d0000"/><stop offset="0.3860" stop-color="#6d0000"/><stop offset="0.4000" stop-color="#a10000"/><stop offset="0.4186" stop-color="#db0000"/><stop offset="0.4326" stop-color="#fd0000"/><stop offset="0.4837" stop-color="#ff5f00"/><stop offset="0.5395" stop-color="#ffe000"/><stop offset="0.5628" stop-color="#ffff07"/><stop offset="0.5953" stop-color="#ffff4e"/><stop offset="0.6419" stop-color="#ffff7d"/><stop offset="0.7395" stop-color="#ffff96"/><stop offset="1.0000" stop-color="#ffff9e"/></linearGradient><linearGradient id="gc51" x1="0" x2="1" y1="0" y2="0"><stop offset="0.0000" stop-color="#ffff7b"/><stop offset="0.0837" stop-color="#ffff65"/><stop offset="0.1302" stop-color="#ffff36"/><stop offset="0.1581" stop-color="#ffff01"/><stop offset="0.2140" stop-color="#ffb400"/><stop offset="0.3070" stop-color="#f90000"/><stop offset="0.3442" stop-color="#ad0000"/><stop offset="0.3721" stop-color="#7e0000"/><stop offset="0.3860" stop-color="#7b0000"/><stop offset="0.4000" stop-color="#aa0000"/><stop offset="0.4233" stop-color="#ec0000"/><stop offset="0.4326" stop-color="#ff0300"/><stop offset="0.4884" stop-color="#ff6d00"/><stop offset="0.5395" stop-color="#ffe000"/><stop offset="0.5628" stop-color="#ffff05"/><stop offset="0.5953" stop-color="#ffff4c"/><stop offset="0.6419" stop-color="#ffff7d"/><stop offset="0.7349" stop-color="#ffff96"/><stop offset="1.0000" stop-color="#ffff9e"/></linearGradient><linearGradient id="gc52" x1="0" x2="1" y1="0" y2="0"><stop offset="0.0000" stop-color="#ffff7b"/><stop offset="0.0837" stop-color="#ffff67"/><stop offset="0.1302" stop-color="#ffff3b"/><stop offset="0.1628" stop-color="#fffe00"/><stop offset="0.2186" stop-color="#ffb400"/><stop offset="0.3116" stop-color="#fd0300"/><stop offset="0.3721" stop-color="#970000"/><stop offset="0.3860" stop-color="#920000"/><stop offset="0.4186" stop-color="#ee0000"/><stop offset="0.4326" stop-color="#ff0a00"/><stop offset="0.4884" stop-color="#ff7300"/><stop offset="0.5442" stop-color="#ffe800"/><stop offset="0.5628" stop-color="#ffff05"/><stop offset="0.5953" stop-color="#ffff4c"/><stop offset="0.6419" stop-color="#ffff7d"/><stop offset="0.7349" stop-color="#ffff96"/><stop offset="1.0000" stop-color="#ffff9e"/></linearGradient><linearGradient id="gc53" x1="0" x2="1" y1="0" y2="0"><stop offset="0.0000" stop-color="#ffff7b"/><stop offset="0.0884" stop-color="#ffff67"/><stop offset="0.1349" stop-color="#ffff3a"/><stop offset="0.1674" stop-color="#fffe00"/><stop offset="0.2233" stop-color="#ffb500"/><stop offset="0.3209" stop-color="#fe0600"/><stop offset="0.3767" stop-color="#b40000"/><stop offset="0.3907" stop-color="#b90000"/><stop offset="0.4140" stop-color="#f80000"/><stop offset="0.4605" stop-color="#ff4400"/><stop offset="0.5442" stop-color="#ffea00"/><stop offset="0.5628" stop-color="#ffff07"/><stop offset="0.5953" stop-color="#ffff4c"/><stop offset="0.6419" stop-color="#ffff7c"/><stop offset="0.7349" stop-color="#ffff96"/><stop offset="1.0000" stop-color="#ffff9e"/></linearGradient><linearGradient id="gc54" x1="0" x2="1" y1="0" y2="0"><stop offset="0.0000" stop-color="#ffff7b"/><stop offset="0.0930" stop-color="#ffff66"/><stop offset="0.1395" stop-color="#ffff3a"/><stop offset="0.1721" stop-color="#fffe01"/><stop offset="0.2326" stop-color="#ffb000"/><stop offset="0.3256" stop-color="#ff1400"/><stop offset="0.3535" stop-color="#f20000"/><stop offset="0.3860" stop-color="#d80000"/><stop offset="0.4093" stop-color="#ff0700"/><stop offset="0.4744" stop-color="#ff6a00"/><stop offset="0.5442" stop-color="#ffec00"/><stop offset="0.5581" stop-color="#fffe00"/><stop offset="0.5953" stop-color="#ffff4c"/><stop offset="0.6419" stop-color="#ffff7b"/><stop offset="0.7349" stop-color="#ffff94"/><stop offset="1.0000" stop-color="#ffff9c"/></linearGradient><linearGradient id="gc55" x1="0" x2="1" y1="0" y2="0"><stop offset="0.0000" stop-color="#ffff7c"/><stop offset="0.0930" stop-color="#ffff69"/><stop offset="0.1442" stop-color="#ffff3b"/><stop offset="0.1814" stop-color="#fffb00"/><stop offset="0.2465" stop-color="#ffa600"/><stop offset="0.3302" stop-color="#ff2500"/><stop offset="0.3767" stop-color="#fc0500"/><stop offset="0.4000" stop-color="#ff1000"/><stop offset="0.4698" stop-color="#ff6e00"/><stop offset="0.5442" stop-color="#ffed00"/><stop offset="0.5581" stop-color="#fffd00"/><stop offset="0.6000" stop-color="#ffff4e"/><stop offset="0.6512" stop-color="#ffff7a"/><stop offset="0.7721" stop-color="#ffff90"/><stop offset="1.0000" stop-color="#ffff95"/></linearGradient><linearGradient id="gc56" x1="0" x2="1" y1="0" y2="0"><stop offset="0.0000" stop-color="#ffff7c"/><stop offset="0.0977" stop-color="#ffff69"/><stop offset="0.1488" stop-color="#ffff3c"/><stop offset="0.1860" stop-color="#fffc00"/><stop offset="0.2558" stop-color="#ffa500"/><stop offset="0.3302" stop-color="#ff3c00"/><stop offset="0.3814" stop-color="#ff1c00"/><stop offset="0.4279" stop-color="#ff4200"/><stop offset="0.5163" stop-color="#ffc000"/><stop offset="0.5674" stop-color="#fffd03"/><stop offset="0.6186" stop-color="#ffff47"/><stop offset="0.6884" stop-color="#ffff69"/><stop offset="1.0000" stop-color="#ffff78"/></linearGradient><linearGradient id="gc57" x1="0" x2="1" y1="0" y2="0"><stop offset="0.0000" stop-color="#ffff7c"/><stop offset="0.1023" stop-color="#ffff69"/><stop offset="0.1535" stop-color="#ffff3d"/><stop offset="0.1907" stop-color="#fffd00"/><stop offset="0.2651" stop-color="#ffa500"/><stop offset="0.3395" stop-color="#ff4800"/><stop offset="0.3860" stop-color="#ff3300"/><stop offset="0.4558" stop-color="#ff6f00"/><stop offset="0.5628" stop-color="#ffee00"/><stop offset="0.5907" stop-color="#ffff06"/><stop offset="0.6419" stop-color="#ffff35"/><stop offset="0.7488" stop-color="#ffff4d"/><stop offset="1.0000" stop-color="#ffff53"/></linearGradient><linearGradient id="gc58" x1="0" x2="1" y1="0" y2="0"><stop offset="0.0000" stop-color="#ffff7c"/><stop offset="0.1023" stop-color="#ffff6b"/><stop offset="0.1581" stop-color="#ffff3c"/><stop offset="0.1953" stop-color="#fffe00"/><stop offset="0.2791" stop-color="#ff9d00"/><stop offset="0.3442" stop-color="#ff5500"/><stop offset="0.3907" stop-color="#ff4700"/><stop offset="0.4698" stop-color="#ff8800"/><stop offset="0.5674" stop-color="#ffef00"/><stop offset="0.6000" stop-color="#ffff07"/><stop offset="0.6605" stop-color="#ffff31"/><stop offset="0.8372" stop-color="#ffff44"/><stop offset="1.0000" stop-color="#ffff47"/></linearGradient><linearGradient id="gc59" x1="0" x2="1" y1="0" y2="0"><stop offset="0.0000" stop-color="#ffff7c"/><stop offset="0.1070" stop-color="#ffff6a"/><stop offset="0.1628" stop-color="#ffff3b"/><stop offset="0.2000" stop-color="#fffd00"/><stop offset="0.3395" stop-color="#ff6500"/><stop offset="0.3907" stop-color="#ff5500"/><stop offset="0.4651" stop-color="#ff8c00"/><stop offset="0.5721" stop-color="#fff300"/><stop offset="0.6000" stop-color="#ffff07"/><stop offset="0.6605" stop-color="#ffff2f"/><stop offset="0.8465" stop-color="#ffff42"/><stop offset="1.0000" stop-color="#ffff44"/></linearGradient><linearGradient id="gc60" x1="0" x2="1" y1="0" y2="0"><stop offset="0.0000" stop-color="#ffff7c"/><stop offset="0.1070" stop-color="#ffff6a"/><stop offset="0.1628" stop-color="#ffff3d"/><stop offset="0.2000" stop-color="#ffff00"/><stop offset="0.3442" stop-color="#ff6800"/><stop offset="0.3907" stop-color="#ff5c00"/><stop offset="0.4651" stop-color="#ff9100"/><stop offset="0.5767" stop-color="#fff700"/><stop offset="0.6000" stop-color="#ffff08"/><stop offset="0.6605" stop-color="#ffff2f"/><stop offset="0.8512" stop-color="#ffff42"/><stop offset="1.0000" stop-color="#ffff44"/></linearGradient><linearGradient id="gd0" x1="0" x2="1" y1="0" y2="0"><stop offset="0.0000" stop-color="#ffd900"/><stop offset="0.1302" stop-color="#ffd600"/><stop offset="0.1581" stop-color="#ffe900"/><stop offset="0.1674" stop-color="#fffb00"/><stop offset="0.1721" stop-color="#ffff12"/><stop offset="0.1860" stop-color="#ffff64"/><stop offset="0.1953" stop-color="#ffff76"/><stop offset="0.2000" stop-color="#ffff6b"/><stop offset="0.2047" stop-color="#ffff51"/><stop offset="0.2140" stop-color="#fffa00"/><stop offset="0.2465" stop-color="#ff3f00"/><stop offset="0.2558" stop-color="#ff2000"/><stop offset="0.2651" stop-color="#ff1a00"/><stop offset="0.2791" stop-color="#ff4300"/><stop offset="0.3116" stop-color="#fff400"/><stop offset="0.3163" stop-color="#ffff1e"/><stop offset="0.3256" stop-color="#ffff87"/><stop offset="0.3349" stop-color="#ffffd3"/><stop offset="0.3442" stop-color="#fffff6"/><stop offset="0.3535" stop-color="#ffffea"/><stop offset="0.3628" stop-color="#ffffb6"/><stop offset="0.3860" stop-color="#ffff07"/><stop offset="0.4093" stop-color="#ffe400"/><stop offset="0.6047" stop-color="#ffeb00"/><stop offset="0.6605" stop-color="#ffdd00"/><stop offset="0.6977" stop-color="#ffb400"/><stop offset="0.7442" stop-color="#ffda00"/><stop offset="0.7767" stop-color="#ffcd00"/><stop offset="0.8047" stop-color="#ffb100"/><stop offset="0.8512" stop-color="#ffd700"/><stop offset="1.0000" stop-color="#ffd900"/></linearGradient><linearGradient id="gd1" x1="0" x2="1" y1="0" y2="0"><stop offset="0.0000" stop-color="#ffd900"/><stop offset="0.1302" stop-color="#ffd600"/><stop offset="0.1581" stop-color="#ffeb00"/><stop offset="0.1674" stop-color="#fffd00"/><stop offset="0.1860" stop-color="#ffff68"/><stop offset="0.1907" stop-color="#ffff74"/><stop offset="0.1953" stop-color="#ffff74"/><stop offset="0.2000" stop-color="#ffff66"/><stop offset="0.2047" stop-color="#ffff49"/><stop offset="0.2093" stop-color="#ffff1d"/><stop offset="0.2140" stop-color="#fff500"/><stop offset="0.2465" stop-color="#ff3600"/><stop offset="0.2558" stop-color="#ff1800"/><stop offset="0.2651" stop-color="#ff1600"/><stop offset="0.2791" stop-color="#ff4300"/><stop offset="0.3116" stop-color="#fff800"/><stop offset="0.3163" stop-color="#ffff28"/><stop offset="0.3256" stop-color="#ffff8f"/><stop offset="0.3349" stop-color="#ffffd8"/><stop offset="0.3442" stop-color="#fffff7"/><stop offset="0.3535" stop-color="#ffffe6"/><stop offset="0.3628" stop-color="#ffffaf"/><stop offset="0.3814" stop-color="#ffff16"/><stop offset="0.3860" stop-color="#fff800"/><stop offset="0.4000" stop-color="#ffda00"/><stop offset="0.5628" stop-color="#ffee00"/><stop offset="0.6605" stop-color="#ffdd00"/><stop offset="0.6977" stop-color="#ffb400"/><stop offset="0.7442" stop-color="#ffda00"/><stop offset="0.7767" stop-color="#ffcd00"/><stop offset="0.8047" stop-color="#ffb100"/><stop offset="0.8512" stop-color="#ffd700"/><stop offset="1.0000" stop-color="#ffd900"/></linearGradient><linearGradient id="gd2" x1="0" x2="1" y1="0" y2="0"><stop offset="0.0000" stop-color="#ffd900"/><stop offset="0.1256" stop-color="#ffd400"/><stop offset="0.1581" stop-color="#ffeb00"/><stop offset="0.1674" stop-color="#fffe00"/><stop offset="0.1860" stop-color="#ffff69"/><stop offset="0.1907" stop-color="#ffff75"/><stop offset="0.1953" stop-color="#ffff73"/><stop offset="0.2000" stop-color="#ffff62"/><stop offset="0.2047" stop-color="#ffff42"/><stop offset="0.2093" stop-color="#ffff14"/><stop offset="0.2140" stop-color="#fff000"/><stop offset="0.2465" stop-color="#ff2b00"/><stop offset="0.2558" stop-color="#ff0e00"/><stop offset="0.2651" stop-color="#ff0d00"/><stop offset="0.2791" stop-color="#ff3e00"/><stop offset="0.3116" stop-color="#fff900"/><stop offset="0.3256" stop-color="#ffff93"/><stop offset="0.3349" stop-color="#ffffdb"/><stop offset="0.3395" stop-color="#ffffef"/><stop offset="0.3442" stop-color="#fffff7"/><stop offset="0.3535" stop-color="#ffffe3"/><stop offset="0.3628" stop-color="#ffffab"/><stop offset="0.3767" stop-color="#ffff35"/><stop offset="0.3814" stop-color="#ffff07"/><stop offset="0.3953" stop-color="#ffcd00"/><stop offset="0.4047" stop-color="#ffcb00"/><stop offset="0.4233" stop-color="#ffe200"/><stop offset="0.5907" stop-color="#ffed00"/><stop offset="0.6605" stop-color="#ffdd00"/><stop offset="0.6977" stop-color="#ffb400"/><stop offset="0.7442" stop-color="#ffda00"/><stop offset="0.7767" stop-color="#ffcd00"/><stop offset="0.8047" stop-color="#ffb100"/><stop offset="0.8512" stop-color="#ffd700"/><stop offset="1.0000" stop-color="#ffd900"/></linearGradient><linearGradient id="gd3" x1="0" x2="1" y1="0" y2="0"><stop offset="0.0000" stop-color="#ffd900"/><stop offset="0.1256" stop-color="#ffd400"/><stop offset="0.1581" stop-color="#ffec00"/><stop offset="0.1674" stop-color="#fffe00"/><stop offset="0.1860" stop-color="#ffff69"/><stop offset="0.1907" stop-color="#ffff74"/><stop offset="0.1953" stop-color="#ffff71"/><stop offset="0.2000" stop-color="#ffff5f"/><stop offset="0.2047" stop-color="#ffff3e"/><stop offset="0.2093" stop-color="#ffff0e"/><stop offset="0.2140" stop-color="#ffed00"/><stop offset="0.2465" stop-color="#ff1e00"/><stop offset="0.2558" stop-color="#fb0200"/><stop offset="0.2651" stop-color="#fa0100"/><stop offset="0.2744" stop-color="#ff1b00"/><stop offset="0.3116" stop-color="#fff700"/><stop offset="0.3163" stop-color="#ffff2a"/><stop offset="0.3256" stop-color="#ffff93"/><stop offset="0.3349" stop-color="#ffffdb"/><stop offset="0.3395" stop-color="#ffffef"/><stop offset="0.3442" stop-color="#fffff7"/><stop offset="0.3535" stop-color="#ffffe3"/><stop offset="0.3628" stop-color="#ffffaa"/><stop offset="0.3814" stop-color="#ffff0d"/><stop offset="0.3860" stop-color="#fff300"/><stop offset="0.4000" stop-color="#ffd200"/><stop offset="0.4372" stop-color="#ffe400"/><stop offset="0.6000" stop-color="#ffec00"/><stop offset="0.6605" stop-color="#ffdd00"/><stop offset="0.6977" stop-color="#ffb400"/><stop offset="0.7442" stop-color="#ffda00"/><stop offset="0.7767" stop-color="#ffcd00"/><stop offset="0.8047" stop-color="#ffb100"/><stop offset="0.8512" stop-color="#ffd700"/><stop offset="1.0000" stop-color="#ffd900"/></linearGradient><linearGradient id="gd4" x1="0" x2="1" y1="0" y2="0"><stop offset="0.0000" stop-color="#ffd900"/><stop offset="0.1302" stop-color="#ffd600"/><stop offset="0.1581" stop-color="#ffeb00"/><stop offset="0.1674" stop-color="#fffd00"/><stop offset="0.1860" stop-color="#ffff67"/><stop offset="0.1907" stop-color="#ffff72"/><stop offset="0.1953" stop-color="#ffff70"/><stop offset="0.2000" stop-color="#ffff5f"/><stop offset="0.2047" stop-color="#ffff3d"/><stop offset="0.2093" stop-color="#ffff0c"/><stop offset="0.2140" stop-color="#ffeb00"/><stop offset="0.2465" stop-color="#ff0e00"/><stop offset="0.2512" stop-color="#f50000"/><stop offset="0.2558" stop-color="#df0000"/><stop offset="0.2605" stop-color="#d70000"/><stop offset="0.2651" stop-color="#dc0000"/><stop offset="0.2744" stop-color="#ff0800"/><stop offset="0.2977" stop-color="#ff9c00"/><stop offset="0.3116" stop-color="#fff200"/><stop offset="0.3163" stop-color="#ffff20"/><stop offset="0.3256" stop-color="#ffff8d"/><stop offset="0.3349" stop-color="#ffffd8"/><stop offset="0.3395" stop-color="#ffffed"/><stop offset="0.3442" stop-color="#fffff6"/><stop offset="0.3535" stop-color="#ffffe5"/><stop offset="0.3628" stop-color="#ffffad"/><stop offset="0.3814" stop-color="#ffff1d"/><stop offset="0.3860" stop-color="#fffd01"/><stop offset="0.4047" stop-color="#ffe300"/><stop offset="0.6000" stop-color="#ffec00"/><stop offset="0.6605" stop-color="#ffdd00"/><stop offset="0.6977" stop-color="#ffb400"/><stop offset="0.7442" stop-color="#ffda00"/><stop offset="0.7767" stop-color="#ffcd00"/><stop offset="0.8047" stop-color="#ffb100"/><stop offset="0.8512" stop-color="#ffd700"/><stop offset="1.0000" stop-color="#ffd900"/></linearGradient><linearGradient id="gd5" x1="0" x2="1" y1="0" y2="0"><stop offset="0.0000" stop-color="#ffd900"/><stop offset="0.1302" stop-color="#ffd600"/><stop offset="0.1581" stop-color="#ffea00"/><stop offset="0.1674" stop-color="#fffb00"/><stop offset="0.1767" stop-color="#ffff31"/><stop offset="0.1860" stop-color="#ffff63"/><stop offset="0.1907" stop-color="#ffff70"/><stop offset="0.1953" stop-color="#ffff70"/><stop offset="0.2000" stop-color="#ffff60"/><stop offset="0.2047" stop-color="#ffff40"/><stop offset="0.2093" stop-color="#ffff0f"/><stop offset="0.2140" stop-color="#ffec00"/><stop offset="0.2465" stop-color="#fd0200"/><stop offset="0.2558" stop-color="#c10000"/><stop offset="0.2605" stop-color="#b50000"/><stop offset="0.2651" stop-color="#b80000"/><stop offset="0.2698" stop-color="#c90000"/><stop offset="0.2791" stop-color="#ff0a00"/><stop offset="0.3116" stop-color="#ffea00"/><stop offset="0.3163" stop-color="#ffff0f"/><stop offset="0.3256" stop-color="#ffff82"/><stop offset="0.3349" stop-color="#ffffd2"/><stop offset="0.3395" stop-color="#ffffea"/><stop offset="0.3442" stop-color="#fffff5"/><stop offset="0.3535" stop-color="#ffffe8"/><stop offset="0.3628" stop-color="#ffffb4"/><stop offset="0.3860" stop-color="#ffff09"/><stop offset="0.4000" stop-color="#ffec00"/><stop offset="0.4465" stop-color="#ffe500"/><stop offset="0.6047" stop-color="#ffeb00"/><stop offset="0.6605" stop-color="#ffdd00"/><stop offset="0.6977" stop-color="#ffb400"/><stop offset="0.7442" stop-color="#ffda00"/><stop offset="0.7767" stop-color="#ffcd00"/><stop offset="0.8047" stop-color="#ffb100"/><stop offset="0.8512" stop-color="#ffd700"/><stop offset="1.0000" stop-color="#ffd900"/></linearGradient><linearGradient id="gd6" x1="0" x2="1" y1="0" y2="0"><stop offset="0.0000" stop-color="#ffd900"/><stop offset="0.1302" stop-color="#ffd500"/><stop offset="0.1581" stop-color="#ffe800"/><stop offset="0.1674" stop-color="#fff900"/><stop offset="0.1721" stop-color="#ffff0c"/><stop offset="0.1860" stop-color="#ffff5e"/><stop offset="0.1907" stop-color="#ffff6d"/><stop offset="0.1953" stop-color="#ffff70"/><stop offset="0.2000" stop-color="#ffff63"/><stop offset="0.2047" stop-color="#ffff46"/><stop offset="0.2093" stop-color="#ffff17"/><stop offset="0.2140" stop-color="#fff000"/><stop offset="0.2279" stop-color="#ff8b00"/><stop offset="0.2419" stop-color="#ff1800"/><stop offset="0.2465" stop-color="#f10000"/><stop offset="0.2558" stop-color="#a80000"/><stop offset="0.2605" stop-color="#980000"/><stop offset="0.2651" stop-color="#970000"/><stop offset="0.2698" stop-color="#a60000"/><stop offset="0.2791" stop-color="#eb0000"/><stop offset="0.2837" stop-color="#ff1300"/><stop offset="0.3116" stop-color="#ffe000"/><stop offset="0.3163" stop-color="#fffc00"/><stop offset="0.3302" stop-color="#ffffa3"/><stop offset="0.3395" stop-color="#ffffe5"/><stop offset="0.3442" stop-color="#fffff3"/><stop offset="0.3535" stop-color="#ffffec"/><stop offset="0.3628" stop-color="#ffffbc"/><stop offset="0.3860" stop-color="#ffff11"/><stop offset="0.3907" stop-color="#fffc00"/><stop offset="0.4140" stop-color="#ffe500"/><stop offset="0.6047" stop-color="#ffeb00"/><stop offset="0.6605" stop-color="#ffdd00"/><stop offset="0.6977" stop-color="#ffb400"/><stop offset="0.7442" stop-color="#ffda00"/><stop offset="0.7767" stop-color="#ffcd00"/><stop offset="0.8047" stop-color="#ffb100"/><stop offset="0.8512" stop-color="#ffd700"/><stop offset="1.0000" stop-color="#ffd900"/></linearGradient><linearGradient id="gd7" x1="0" x2="1" y1="0" y2="0"><stop offset="0.0000" stop-color="#ffd900"/><stop offset="0.1302" stop-color="#ffd500"/><stop offset="0.1628" stop-color="#ffed00"/><stop offset="0.1721" stop-color="#ffff04"/><stop offset="0.1860" stop-color="#ffff58"/><stop offset="0.1953" stop-color="#ffff6f"/><stop offset="0.2000" stop-color="#ffff67"/><stop offset="0.2047" stop-color="#ffff4d"/><stop offset="0.2140" stop-color="#fff500"/><stop offset="0.2279" stop-color="#ff9000"/><stop offset="0.2419" stop-color="#ff1800"/><stop offset="0.2465" stop-color="#ed0000"/><stop offset="0.2558" stop-color="#9a0000"/><stop offset="0.2605" stop-color="#840000"/><stop offset="0.2651" stop-color="#7f0000"/><stop offset="0.2698" stop-color="#8a0000"/><stop offset="0.2744" stop-color="#a40000"/><stop offset="0.2837" stop-color="#fa0100"/><stop offset="0.3116" stop-color="#ffd600"/><stop offset="0.3163" stop-color="#fff300"/><stop offset="0.3209" stop-color="#ffff26"/><stop offset="0.3302" stop-color="#ffff95"/><stop offset="0.3395" stop-color="#ffffde"/><stop offset="0.3442" stop-color="#fffff1"/><stop offset="0.3488" stop-color="#fffff6"/><stop offset="0.3581" stop-color="#ffffdf"/><stop offset="0.3721" stop-color="#ffff80"/><stop offset="0.3860" stop-color="#ffff19"/><stop offset="0.3907" stop-color="#fffe00"/><stop offset="0.4140" stop-color="#ffe500"/><stop offset="0.6093" stop-color="#ffeb00"/><stop offset="0.6605" stop-color="#ffdd00"/><stop offset="0.6977" stop-color="#ffb400"/><stop offset="0.7442" stop-color="#ffda00"/><stop offset="0.7767" stop-color="#ffcd00"/><stop offset="0.8047" stop-color="#ffb100"/><stop offset="0.8512" stop-color="#ffd700"/><stop offset="1.0000" stop-color="#ffd900"/></linearGradient><linearGradient id="gd8" x1="0" x2="1" y1="0" y2="0"><stop offset="0.0000" stop-color="#ffd900"/><stop offset="0.1302" stop-color="#ffd500"/><stop offset="0.1628" stop-color="#ffeb00"/><stop offset="0.1721" stop-color="#fffe00"/><stop offset="0.1907" stop-color="#ffff65"/><stop offset="0.1953" stop-color="#ffff6f"/><stop offset="0.2000" stop-color="#ffff6a"/><stop offset="0.2047" stop-color="#ffff55"/><stop offset="0.2140" stop-color="#fffb00"/><stop offset="0.2279" stop-color="#ff9800"/><stop offset="0.2419" stop-color="#ff1d00"/><stop offset="0.2465" stop-color="#f10000"/><stop offset="0.2558" stop-color="#950000"/><stop offset="0.2605" stop-color="#7b0000"/><stop offset="0.2651" stop-color="#700000"/><stop offset="0.2698" stop-color="#770000"/><stop offset="0.2744" stop-color="#8e0000"/><stop offset="0.2837" stop-color="#e30000"/><stop offset="0.2884" stop-color="#ff1200"/><stop offset="0.3116" stop-color="#ffcb00"/><stop offset="0.3163" stop-color="#ffea00"/><stop offset="0.3209" stop-color="#ffff12"/><stop offset="0.3302" stop-color="#ffff87"/><stop offset="0.3395" stop-color="#ffffd7"/><stop offset="0.3442" stop-color="#ffffed"/><stop offset="0.3488" stop-color="#fffff6"/><stop offset="0.3581" stop-color="#ffffe5"/><stop offset="0.3674" stop-color="#ffffae"/><stop offset="0.3860" stop-color="#ffff21"/><stop offset="0.3907" stop-color="#ffff05"/><stop offset="0.4186" stop-color="#ffe500"/><stop offset="0.6047" stop-color="#ffeb00"/><stop offset="0.6605" stop-color="#ffdd00"/><stop offset="0.6977" stop-color="#ffb400"/><stop offset="0.7442" stop-color="#ffda00"/><stop offset="0.7767" stop-color="#ffcd00"/><stop offset="0.8047" stop-color="#ffb100"/><stop offset="0.8512" stop-color="#ffd700"/><stop offset="1.0000" stop-color="#ffd900"/></linearGradient><linearGradient id="gd9" x1="0" x2="1" y1="0" y2="0"><stop offset="0.0000" stop-color="#ffd900"/><stop offset="0.1302" stop-color="#ffd500"/><stop offset="0.1628" stop-color="#ffea00"/><stop offset="0.1721" stop-color="#fffb00"/><stop offset="0.1814" stop-color="#ffff2f"/><stop offset="0.1907" stop-color="#ffff61"/><stop offset="0.1953" stop-color="#ffff6d"/><stop offset="0.2000" stop-color="#ffff6c"/><stop offset="0.2047" stop-color="#ffff5b"/><stop offset="0.2093" stop-color="#ffff38"/><stop offset="0.2140" stop-color="#ffff03"/><stop offset="0.2233" stop-color="#ffc500"/><stop offset="0.2465" stop-color="#f90000"/><stop offset="0.2558" stop-color="#970000"/><stop offset="0.2605" stop-color="#790000"/><stop offset="0.2651" stop-color="#6b0000"/><stop offset="0.2698" stop-color="#6e0000"/><stop offset="0.2744" stop-color="#810000"/><stop offset="0.2791" stop-color="#a30000"/><stop offset="0.2884" stop-color="#ff0600"/><stop offset="0.3116" stop-color="#ffc300"/><stop offset="0.3209" stop-color="#fffe02"/><stop offset="0.3302" stop-color="#ffff7b"/><stop offset="0.3395" stop-color="#ffffd0"/><stop offset="0.3442" stop-color="#ffffe9"/><stop offset="0.3488" stop-color="#fffff6"/><stop offset="0.3581" stop-color="#ffffea"/><stop offset="0.3674" stop-color="#ffffb6"/><stop offset="0.3907" stop-color="#ffff0c"/><stop offset="0.4000" stop-color="#fff300"/><stop offset="0.4326" stop-color="#ffe400"/><stop offset="0.6000" stop-color="#ffec00"/><stop offset="0.6605" stop-color="#ffdd00"/><stop offset="0.6977" stop-color="#ffb400"/><stop offset="0.7442" stop-color="#ffda00"/><stop offset="0.7767" stop-color="#ffcd00"/><stop offset="0.8047" stop-color="#ffb100"/><stop offset="0.8512" stop-color="#ffd700"/><stop offset="1.0000" stop-color="#ffd900"/></linearGradient><linearGradient id="gd10" x1="0" x2="1" y1="0" y2="0"><stop offset="0.0000" stop-color="#ffd900"/><stop offset="0.1302" stop-color="#ffd500"/><stop offset="0.1628" stop-color="#ffe800"/><stop offset="0.1721" stop-color="#fff900"/><stop offset="0.1767" stop-color="#ffff0d"/><stop offset="0.1907" stop-color="#ffff5e"/><stop offset="0.1953" stop-color="#ffff6c"/><stop offset="0.2000" stop-color="#ffff6d"/><stop offset="0.2047" stop-color="#ffff5f"/><stop offset="0.2093" stop-color="#ffff3f"/><stop offset="0.2140" stop-color="#ffff0d"/><stop offset="0.2186" stop-color="#ffea00"/><stop offset="0.2326" stop-color="#ff7e00"/><stop offset="0.2465" stop-color="#ff0200"/><stop offset="0.2558" stop-color="#9d0000"/><stop offset="0.2605" stop-color="#7c0000"/><stop offset="0.2651" stop-color="#6b0000"/><stop offset="0.2698" stop-color="#6b0000"/><stop offset="0.2744" stop-color="#7c0000"/><stop offset="0.2791" stop-color="#9c0000"/><stop offset="0.2884" stop-color="#fd0000"/><stop offset="0.3116" stop-color="#ffbd00"/><stop offset="0.3209" stop-color="#fffb00"/><stop offset="0.3349" stop-color="#ffffa5"/><stop offset="0.3442" stop-color="#ffffe7"/><stop offset="0.3488" stop-color="#fffff6"/><stop offset="0.3535" stop-color="#fffff8"/><stop offset="0.3628" stop-color="#ffffd9"/><stop offset="0.3907" stop-color="#ffff11"/><stop offset="0.3953" stop-color="#fffc00"/><stop offset="0.4186" stop-color="#ffe500"/><stop offset="0.6093" stop-color="#ffeb00"/><stop offset="0.6605" stop-color="#ffdd00"/><stop offset="0.6977" stop-color="#ffb400"/><stop offset="0.7442" stop-color="#ffda00"/><stop offset="0.7767" stop-color="#ffcd00"/><stop offset="0.8047" stop-color="#ffb100"/><stop offset="0.8512" stop-color="#ffd700"/><stop offset="1.0000" stop-color="#ffd900"/></linearGradient><linearGradient id="gd11" x1="0" x2="1" y1="0" y2="0"><stop offset="0.0000" stop-color="#ffd900"/><stop offset="0.1302" stop-color="#ffd500"/><stop offset="0.1628" stop-color="#ffe800"/><stop offset="0.1721" stop-color="#fff900"/><stop offset="0.1767" stop-color="#ffff0b"/><stop offset="0.1907" stop-color="#ffff5d"/><stop offset="0.1953" stop-color="#ffff6b"/><stop offset="0.2000" stop-color="#ffff6e"/><stop offset="0.2047" stop-color="#ffff60"/><stop offset="0.2093" stop-color="#ffff42"/><stop offset="0.2140" stop-color="#ffff11"/><stop offset="0.2186" stop-color="#ffec00"/><stop offset="0.2326" stop-color="#ff8100"/><stop offset="0.2465" stop-color="#ff0500"/><stop offset="0.2558" stop-color="#a00000"/><stop offset="0.2605" stop-color="#7f0000"/><stop offset="0.2651" stop-color="#6c0000"/><stop offset="0.2698" stop-color="#6b0000"/><stop offset="0.2744" stop-color="#7a0000"/><stop offset="0.2791" stop-color="#990000"/><stop offset="0.2884" stop-color="#fa0000"/><stop offset="0.3163" stop-color="#ffdc00"/><stop offset="0.3209" stop-color="#fff900"/><stop offset="0.3349" stop-color="#ffffa3"/><stop offset="0.3442" stop-color="#ffffe7"/><stop offset="0.3488" stop-color="#fffff7"/><stop offset="0.3535" stop-color="#fffffa"/><stop offset="0.3628" stop-color="#ffffdd"/><stop offset="0.3907" stop-color="#ffff14"/><stop offset="0.3953" stop-color="#fffd00"/><stop offset="0.4186" stop-color="#ffe500"/><stop offset="0.6093" stop-color="#ffeb00"/><stop offset="0.6605" stop-color="#ffdd00"/><stop offset="0.6977" stop-color="#ffb400"/><stop offset="0.7442" stop-color="#ffda00"/><stop offset="0.7767" stop-color="#ffcd00"/><stop offset="0.8047" stop-color="#ffb100"/><stop offset="0.8512" stop-color="#ffd700"/><stop offset="1.0000" stop-color="#ffd900"/></linearGradient><linearGradient id="gd12" x1="0" x2="1" y1="0" y2="0"><stop offset="0.0000" stop-color="#ffd900"/><stop offset="0.1302" stop-color="#ffd500"/><stop offset="0.1628" stop-color="#ffe800"/><stop offset="0.1721" stop-color="#fff900"/><stop offset="0.1767" stop-color="#ffff0c"/><stop offset="0.1907" stop-color="#ffff5d"/><stop offset="0.1953" stop-color="#ffff6c"/><stop offset="0.2000" stop-color="#ffff6e"/><stop offset="0.2047" stop-color="#ffff60"/><stop offset="0.2093" stop-color="#ffff40"/><stop offset="0.2140" stop-color="#ffff0f"/><stop offset="0.2186" stop-color="#ffeb00"/><stop offset="0.2326" stop-color="#ff8000"/><stop offset="0.2465" stop-color="#ff0400"/><stop offset="0.2558" stop-color="#9e0000"/><stop offset="0.2605" stop-color="#7d0000"/><stop offset="0.2651" stop-color="#6b0000"/><stop offset="0.2698" stop-color="#6a0000"/><stop offset="0.2744" stop-color="#7a0000"/><stop offset="0.2791" stop-color="#9a0000"/><stop offset="0.2884" stop-color="#fb0000"/><stop offset="0.3163" stop-color="#ffdd00"/><stop offset="0.3209" stop-color="#fffb00"/><stop offset="0.3349" stop-color="#ffffa8"/><stop offset="0.3442" stop-color="#ffffec"/><stop offset="0.3488" stop-color="#fffffc"/><stop offset="0.3581" stop-color="#fffff5"/><stop offset="0.3674" stop-color="#ffffc3"/><stop offset="0.3907" stop-color="#ffff14"/><stop offset="0.3953" stop-color="#fffd00"/><stop offset="0.4186" stop-color="#ffe500"/><stop offset="0.6093" stop-color="#ffeb00"/><stop offset="0.6605" stop-color="#ffdd00"/><stop offset="0.6977" stop-color="#ffb400"/><stop offset="0.7442" stop-color="#ffda00"/><stop offset="0.7767" stop-color="#ffcd00"/><stop offset="0.8047" stop-color="#ffb100"/><stop offset="0.8512" stop-color="#ffd700"/><stop offset="1.0000" stop-color="#ffd900"/></linearGradient><linearGradient id="gd13" x1="0" x2="1" y1="0" y2="0"><stop offset="0.0000" stop-color="#ffd900"/><stop offset="0.1302" stop-color="#ffd500"/><stop offset="0.1628" stop-color="#ffe900"/><stop offset="0.1721" stop-color="#fffa00"/><stop offset="0.1767" stop-color="#ffff10"/><stop offset="0.1907" stop-color="#ffff60"/><stop offset="0.1953" stop-color="#ffff6d"/><stop offset="0.2000" stop-color="#ffff6c"/><stop offset="0.2047" stop-color="#ffff5c"/><stop offset="0.2093" stop-color="#ffff3b"/><stop offset="0.2140" stop-color="#ffff07"/><stop offset="0.2233" stop-color="#ffc700"/><stop offset="0.2465" stop-color="#fa0000"/><stop offset="0.2558" stop-color="#950000"/><stop offset="0.2605" stop-color="#760000"/><stop offset="0.2651" stop-color="#660000"/><stop offset="0.2698" stop-color="#670000"/><stop offset="0.2744" stop-color="#790000"/><stop offset="0.2791" stop-color="#9b0000"/><stop offset="0.2884" stop-color="#ff0100"/><stop offset="0.3116" stop-color="#ffc100"/><stop offset="0.3209" stop-color="#ffff03"/><stop offset="0.3302" stop-color="#ffff81"/><stop offset="0.3395" stop-color="#ffffda"/><stop offset="0.3442" stop-color="#fffff5"/><stop offset="0.3535" stop-color="#ffffff"/><stop offset="0.3581" stop-color="#fffff9"/><stop offset="0.3674" stop-color="#ffffc4"/><stop offset="0.3907" stop-color="#ffff12"/><stop offset="0.3953" stop-color="#fffc00"/><stop offset="0.4186" stop-color="#ffe500"/><stop offset="0.6093" stop-color="#ffeb00"/><stop offset="0.6605" stop-color="#ffdd00"/><stop offset="0.6977" stop-color="#ffb400"/><stop offset="0.7442" stop-color="#ffda00"/><stop offset="0.7767" stop-color="#ffcd00"/><stop offset="0.8047" stop-color="#ffb100"/><stop offset="0.8512" stop-color="#ffd700"/><stop offset="1.0000" stop-color="#ffd900"/></linearGradient><linearGradient id="gd14" x1="0" x2="1" y1="0" y2="0"><stop offset="0.0000" stop-color="#ffd900"/><stop offset="0.1302" stop-color="#ffd500"/><stop offset="0.1628" stop-color="#ffea00"/><stop offset="0.1721" stop-color="#fffc00"/><stop offset="0.1907" stop-color="#ffff63"/><stop offset="0.1953" stop-color="#ffff6e"/><stop offset="0.2000" stop-color="#ffff6a"/><stop offset="0.2047" stop-color="#ffff56"/><stop offset="0.2140" stop-color="#fffc00"/><stop offset="0.2279" stop-color="#ff9800"/><stop offset="0.2419" stop-color="#ff1a00"/><stop offset="0.2465" stop-color="#e90000"/><stop offset="0.2558" stop-color="#880000"/><stop offset="0.2605" stop-color="#6b0000"/><stop offset="0.2651" stop-color="#5f0000"/><stop offset="0.2698" stop-color="#640000"/><stop offset="0.2744" stop-color="#7a0000"/><stop offset="0.2837" stop-color="#cf0000"/><stop offset="0.2884" stop-color="#ff0600"/><stop offset="0.3116" stop-color="#ffc900"/><stop offset="0.3163" stop-color="#ffe900"/><stop offset="0.3209" stop-color="#ffff15"/><stop offset="0.3302" stop-color="#ffff94"/><stop offset="0.3395" stop-color="#ffffeb"/><stop offset="0.3442" stop-color="#ffffff"/><stop offset="0.3581" stop-color="#fffffe"/><stop offset="0.3674" stop-color="#ffffc5"/><stop offset="0.3860" stop-color="#ffff2e"/><stop offset="0.3907" stop-color="#ffff0f"/><stop offset="0.3953" stop-color="#fffb00"/><stop offset="0.4186" stop-color="#ffe500"/><stop offset="0.6047" stop-color="#ffeb00"/><stop offset="0.6605" stop-color="#ffdd00"/><stop offset="0.6977" stop-color="#ffb400"/><stop offset="0.7442" stop-color="#ffda00"/><stop offset="0.7767" stop-color="#ffcd00"/><stop offset="0.8047" stop-color="#ffb100"/><stop offset="0.8512" stop-color="#ffd700"/><stop offset="1.0000" stop-color="#ffd900"/></linearGradient><linearGradient id="gd15" x1="0" x2="1" y1="0" y2="0"><stop offset="0.0000" stop-color="#ffd900"/><stop offset="0.1302" stop-color="#ffd500"/><stop offset="0.1628" stop-color="#ffec00"/><stop offset="0.1721" stop-color="#ffff01"/><stop offset="0.1860" stop-color="#ffff54"/><stop offset="0.1953" stop-color="#ffff6e"/><stop offset="0.2000" stop-color="#ffff66"/><stop offset="0.2047" stop-color="#ffff4d"/><stop offset="0.2140" stop-color="#fff500"/><stop offset="0.2279" stop-color="#ff8c00"/><stop offset="0.2419" stop-color="#ff0d00"/><stop offset="0.2465" stop-color="#d60000"/><stop offset="0.2512" stop-color="#a20000"/><stop offset="0.2558" stop-color="#7a0000"/><stop offset="0.2605" stop-color="#610000"/><stop offset="0.2651" stop-color="#590000"/><stop offset="0.2698" stop-color="#630000"/><stop offset="0.2744" stop-color="#7d0000"/><stop offset="0.2837" stop-color="#da0000"/><stop offset="0.2884" stop-color="#ff0f00"/><stop offset="0.3116" stop-color="#ffd300"/><stop offset="0.3163" stop-color="#fff400"/><stop offset="0.3209" stop-color="#ffff2f"/><stop offset="0.3302" stop-color="#ffffac"/><stop offset="0.3349" stop-color="#ffffdc"/><stop offset="0.3395" stop-color="#fffffd"/><stop offset="0.3581" stop-color="#ffffff"/><stop offset="0.3628" stop-color="#ffffea"/><stop offset="0.3860" stop-color="#ffff2a"/><stop offset="0.3907" stop-color="#ffff0b"/><stop offset="0.4000" stop-color="#fff200"/><stop offset="0.4326" stop-color="#ffe400"/><stop offset="0.6000" stop-color="#ffec00"/><stop offset="0.6605" stop-color="#ffdd00"/><stop offset="0.6977" stop-color="#ffb400"/><stop offset="0.7442" stop-color="#ffda00"/><stop offset="0.7767" stop-color="#ffcd00"/><stop offset="0.8047" stop-color="#ffb100"/><stop offset="0.8512" stop-color="#ffd700"/><stop offset="1.0000" stop-color="#ffd900"/></linearGradient><linearGradient id="gd16" x1="0" x2="1" y1="0" y2="0"><stop offset="0.0000" stop-color="#ffd900"/><stop offset="0.1302" stop-color="#ffd500"/><stop offset="0.1581" stop-color="#ffe700"/><stop offset="0.1721" stop-color="#ffff08"/><stop offset="0.1860" stop-color="#ffff5b"/><stop offset="0.1907" stop-color="#ffff6a"/><stop offset="0.1953" stop-color="#ffff6d"/><stop offset="0.2000" stop-color="#ffff61"/><stop offset="0.2047" stop-color="#ffff43"/><stop offset="0.2093" stop-color="#ffff13"/><stop offset="0.2140" stop-color="#ffed00"/><stop offset="0.2279" stop-color="#ff8000"/><stop offset="0.2419" stop-color="#fd0100"/><stop offset="0.2512" stop-color="#930000"/><stop offset="0.2558" stop-color="#6f0000"/><stop offset="0.2605" stop-color="#5b0000"/><stop offset="0.2651" stop-color="#580000"/><stop offset="0.2698" stop-color="#670000"/><stop offset="0.2744" stop-color="#860000"/><stop offset="0.2837" stop-color="#e90000"/><stop offset="0.2884" stop-color="#ff1a00"/><stop offset="0.3116" stop-color="#ffdf00"/><stop offset="0.3163" stop-color="#fffe04"/><stop offset="0.3256" stop-color="#ffff8e"/><stop offset="0.3349" stop-color="#fffff5"/><stop offset="0.3442" stop-color="#ffffff"/><stop offset="0.3581" stop-color="#ffffff"/><stop offset="0.3628" stop-color="#ffffed"/><stop offset="0.3860" stop-color="#ffff25"/><stop offset="0.3907" stop-color="#ffff07"/><stop offset="0.4140" stop-color="#ffe600"/><stop offset="0.6093" stop-color="#ffeb00"/><stop offset="0.6605" stop-color="#ffdd00"/><stop offset="0.6977" stop-color="#ffb400"/><stop offset="0.7442" stop-color="#ffda00"/><stop offset="0.7767" stop-color="#ffcd00"/><stop offset="0.8047" stop-color="#ffb100"/><stop offset="0.8512" stop-color="#ffd700"/><stop offset="1.0000" stop-color="#ffd900"/></linearGradient><linearGradient id="gd17" x1="0" x2="1" y1="0" y2="0"><stop offset="0.0000" stop-color="#ffd900"/><stop offset="0.1302" stop-color="#ffd600"/><stop offset="0.1581" stop-color="#ffe900"/><stop offset="0.1674" stop-color="#fffa00"/><stop offset="0.1721" stop-color="#ffff10"/><stop offset="0.1860" stop-color="#ffff60"/><stop offset="0.1907" stop-color="#ffff6c"/><stop offset="0.1953" stop-color="#ffff6c"/><stop offset="0.2000" stop-color="#ffff5b"/><stop offset="0.2047" stop-color="#ffff38"/><stop offset="0.2093" stop-color="#ffff04"/><stop offset="0.2186" stop-color="#ffc400"/><stop offset="0.2372" stop-color="#ff2000"/><stop offset="0.2419" stop-color="#f10000"/><stop offset="0.2512" stop-color="#8b0000"/><stop offset="0.2558" stop-color="#6b0000"/><stop offset="0.2605" stop-color="#5b0000"/><stop offset="0.2651" stop-color="#5d0000"/><stop offset="0.2698" stop-color="#700000"/><stop offset="0.2744" stop-color="#930000"/><stop offset="0.2837" stop-color="#fb0100"/><stop offset="0.3116" stop-color="#ffea00"/><stop offset="0.3163" stop-color="#ffff1d"/><stop offset="0.3256" stop-color="#ffffa9"/><stop offset="0.3302" stop-color="#ffffe1"/><stop offset="0.3349" stop-color="#ffffff"/><stop offset="0.3581" stop-color="#ffffff"/><stop offset="0.3628" stop-color="#ffffee"/><stop offset="0.3814" stop-color="#ffff44"/><stop offset="0.3907" stop-color="#ffff02"/><stop offset="0.4140" stop-color="#ffe500"/><stop offset="0.6093" stop-color="#ffeb00"/><stop offset="0.6605" stop-color="#ffdd00"/><stop offset="0.6977" stop-color="#ffb400"/><stop offset="0.7442" stop-color="#ffda00"/><stop offset="0.7767" stop-color="#ffcd00"/><stop offset="0.8047" stop-color="#ffb100"/><stop offset="0.8512" stop-color="#ffd700"/><stop offset="1.0000" stop-color="#ffd900"/></linearGradient><linearGradient id="gd18" x1="0" x2="1" y1="0" y2="0"><stop offset="0.0000" stop-color="#ffd900"/><stop offset="0.1256" stop-color="#ffd400"/><stop offset="0.1581" stop-color="#ffea00"/><stop offset="0.1674" stop-color="#fffd00"/><stop offset="0.1860" stop-color="#ffff63"/><stop offset="0.1907" stop-color="#ffff6e"/><stop offset="0.1953" stop-color="#ffff6a"/><stop offset="0.2000" stop-color="#ffff56"/><stop offset="0.2093" stop-color="#fffc00"/><stop offset="0.2233" stop-color="#ff9800"/><stop offset="0.2372" stop-color="#ff1a00"/><stop offset="0.2419" stop-color="#ea0000"/><stop offset="0.2512" stop-color="#890000"/><stop offset="0.2558" stop-color="#6d0000"/><stop offset="0.2605" stop-color="#610000"/><stop offset="0.2651" stop-color="#670000"/><stop offset="0.2698" stop-color="#7d0000"/><stop offset="0.2791" stop-color="#d30000"/><stop offset="0.2837" stop-color="#ff0900"/><stop offset="0.3070" stop-color="#ffd100"/><stop offset="0.3116" stop-color="#fff300"/><stop offset="0.3163" stop-color="#ffff33"/><stop offset="0.3256" stop-color="#ffffbd"/><stop offset="0.3302" stop-color="#fffff3"/><stop offset="0.3395" stop-color="#ffffff"/><stop offset="0.3581" stop-color="#ffffff"/><stop offset="0.3628" stop-color="#ffffed"/><stop offset="0.3814" stop-color="#ffff3f"/><stop offset="0.3907" stop-color="#fffe00"/><stop offset="0.4140" stop-color="#ffe500"/><stop offset="0.6047" stop-color="#ffeb00"/><stop offset="0.6605" stop-color="#ffdd00"/><stop offset="0.6977" stop-color="#ffb400"/><stop offset="0.7442" stop-color="#ffda00"/><stop offset="0.7767" stop-color="#ffcd00"/><stop offset="0.8047" stop-color="#ffb100"/><stop offset="0.8512" stop-color="#ffd700"/><stop offset="1.0000" stop-color="#ffd900"/></linearGradient><linearGradient id="gd19" x1="0" x2="1" y1="0" y2="0"><stop offset="0.0000" stop-color="#ffd900"/><stop offset="0.1256" stop-color="#ffd400"/><stop offset="0.1581" stop-color="#ffeb00"/><stop offset="0.1674" stop-color="#fffe00"/><stop offset="0.1860" stop-color="#ffff66"/><stop offset="0.1907" stop-color="#ffff6e"/><stop offset="0.1953" stop-color="#ffff69"/><stop offset="0.2000" stop-color="#ffff53"/><stop offset="0.2093" stop-color="#fff900"/><stop offset="0.2233" stop-color="#ff9500"/><stop offset="0.2372" stop-color="#ff1800"/><stop offset="0.2419" stop-color="#e90000"/><stop offset="0.2512" stop-color="#8d0000"/><stop offset="0.2558" stop-color="#730000"/><stop offset="0.2605" stop-color="#690000"/><stop offset="0.2651" stop-color="#710000"/><stop offset="0.2698" stop-color="#890000"/><stop offset="0.2791" stop-color="#e10000"/><stop offset="0.2837" stop-color="#ff1200"/><stop offset="0.3070" stop-color="#ffd700"/><stop offset="0.3116" stop-color="#fff900"/><stop offset="0.3256" stop-color="#ffffc7"/><stop offset="0.3302" stop-color="#fffffc"/><stop offset="0.3581" stop-color="#ffffff"/><stop offset="0.3628" stop-color="#ffffea"/><stop offset="0.3814" stop-color="#ffff3b"/><stop offset="0.3907" stop-color="#fffd00"/><stop offset="0.4140" stop-color="#ffe500"/><stop offset="0.6047" stop-color="#ffeb00"/><stop offset="0.6605" stop-color="#ffdd00"/><stop offset="0.6977" stop-color="#ffb400"/><stop offset="0.7442" stop-color="#ffda00"/><stop offset="0.7767" stop-color="#ffcd00"/><stop offset="0.8047" stop-color="#ffb100"/><stop offset="0.8512" stop-color="#ffd700"/><stop offset="1.0000" stop-color="#ffd900"/></linearGradient><linearGradient id="gd20" x1="0" x2="1" y1="0" y2="0"><stop offset="0.0000" stop-color="#ffd900"/><stop offset="0.1256" stop-color="#ffd400"/><stop offset="0.1581" stop-color="#ffec00"/><stop offset="0.1674" stop-color="#fffe00"/><stop offset="0.1814" stop-color="#ffff53"/><stop offset="0.1907" stop-color="#ffff6f"/><stop offset="0.1953" stop-color="#ffff69"/><stop offset="0.2000" stop-color="#ffff52"/><stop offset="0.2093" stop-color="#fff900"/><stop offset="0.2233" stop-color="#ff9500"/><stop offset="0.2372" stop-color="#ff1a00"/><stop offset="0.2419" stop-color="#ed0000"/><stop offset="0.2512" stop-color="#930000"/><stop offset="0.2558" stop-color="#7a0000"/><stop offset="0.2605" stop-color="#710000"/><stop offset="0.2651" stop-color="#790000"/><stop offset="0.2698" stop-color="#910000"/><stop offset="0.2791" stop-color="#e80000"/><stop offset="0.2837" stop-color="#ff1600"/><stop offset="0.3070" stop-color="#ffd800"/><stop offset="0.3116" stop-color="#fff900"/><stop offset="0.3256" stop-color="#ffffc5"/><stop offset="0.3302" stop-color="#fffff8"/><stop offset="0.3581" stop-color="#ffffff"/><stop offset="0.3628" stop-color="#ffffe4"/><stop offset="0.3814" stop-color="#ffff38"/><stop offset="0.3860" stop-color="#ffff16"/><stop offset="0.3907" stop-color="#fffd00"/><stop offset="0.4140" stop-color="#ffe500"/><stop offset="0.6047" stop-color="#ffeb00"/><stop offset="0.6605" stop-color="#ffdd00"/><stop offset="0.6977" stop-color="#ffb400"/><stop offset="0.7442" stop-color="#ffda00"/><stop offset="0.7767" stop-color="#ffcd00"/><stop offset="0.8047" stop-color="#ffb100"/><stop offset="0.8512" stop-color="#ffd700"/><stop offset="1.0000" stop-color="#ffd900"/></linearGradient><linearGradient id="gd21" x1="0" x2="1" y1="0" y2="0"><stop offset="0.0000" stop-color="#ffd900"/><stop offset="0.1256" stop-color="#ffd400"/><stop offset="0.1581" stop-color="#ffeb00"/><stop offset="0.1674" stop-color="#fffd00"/><stop offset="0.1860" stop-color="#ffff65"/><stop offset="0.1907" stop-color="#ffff6f"/><stop offset="0.1953" stop-color="#ffff6a"/><stop offset="0.2000" stop-color="#ffff55"/><stop offset="0.2093" stop-color="#fffc00"/><stop offset="0.2233" stop-color="#ff9900"/><stop offset="0.2372" stop-color="#ff2000"/><stop offset="0.2419" stop-color="#f60000"/><stop offset="0.2512" stop-color="#9b0000"/><stop offset="0.2558" stop-color="#810000"/><stop offset="0.2605" stop-color="#770000"/><stop offset="0.2651" stop-color="#7e0000"/><stop offset="0.2698" stop-color="#940000"/><stop offset="0.2791" stop-color="#e90000"/><stop offset="0.2837" stop-color="#ff1600"/><stop offset="0.3070" stop-color="#ffd400"/><stop offset="0.3116" stop-color="#fff500"/><stop offset="0.3163" stop-color="#ffff35"/><stop offset="0.3256" stop-color="#ffffb8"/><stop offset="0.3302" stop-color="#ffffeb"/><stop offset="0.3349" stop-color="#ffffff"/><stop offset="0.3581" stop-color="#ffffff"/><stop offset="0.3674" stop-color="#ffffb4"/><stop offset="0.3814" stop-color="#ffff37"/><stop offset="0.3860" stop-color="#ffff15"/><stop offset="0.3907" stop-color="#fffc00"/><stop offset="0.4140" stop-color="#ffe500"/><stop offset="0.6047" stop-color="#ffeb00"/><stop offset="0.6605" stop-color="#ffdd00"/><stop offset="0.6977" stop-color="#ffb400"/><stop offset="0.7442" stop-color="#ffda00"/><stop offset="0.7767" stop-color="#ffcd00"/><stop offset="0.8047" stop-color="#ffb100"/><stop offset="0.8512" stop-color="#ffd700"/><stop offset="1.0000" stop-color="#ffd900"/></linearGradient><linearGradient id="gd22" x1="0" x2="1" y1="0" y2="0"><stop offset="0.0000" stop-color="#ffd900"/><stop offset="0.1256" stop-color="#ffd400"/><stop offset="0.1581" stop-color="#ffea00"/><stop offset="0.1674" stop-color="#fffc00"/><stop offset="0.1860" stop-color="#ffff63"/><stop offset="0.1907" stop-color="#ffff6e"/><stop offset="0.1953" stop-color="#ffff6c"/><stop offset="0.2000" stop-color="#ffff5a"/><stop offset="0.2047" stop-color="#ffff37"/><stop offset="0.2093" stop-color="#ffff03"/><stop offset="0.2233" stop-color="#ffa100"/><stop offset="0.2419" stop-color="#ff0300"/><stop offset="0.2512" stop-color="#a60000"/><stop offset="0.2558" stop-color="#890000"/><stop offset="0.2605" stop-color="#7d0000"/><stop offset="0.2651" stop-color="#800000"/><stop offset="0.2698" stop-color="#940000"/><stop offset="0.2791" stop-color="#e40000"/><stop offset="0.2837" stop-color="#ff1100"/><stop offset="0.3116" stop-color="#ffee00"/><stop offset="0.3163" stop-color="#ffff21"/><stop offset="0.3256" stop-color="#ffffa3"/><stop offset="0.3302" stop-color="#ffffd7"/><stop offset="0.3349" stop-color="#fffffc"/><stop offset="0.3581" stop-color="#fffffc"/><stop offset="0.3860" stop-color="#ffff16"/><stop offset="0.3907" stop-color="#fffd00"/><stop offset="0.4140" stop-color="#ffe500"/><stop offset="0.6047" stop-color="#ffeb00"/><stop offset="0.6605" stop-color="#ffdd00"/><stop offset="0.6977" stop-color="#ffb400"/><stop offset="0.7442" stop-color="#ffda00"/><stop offset="0.7767" stop-color="#ffcd00"/><stop offset="0.8047" stop-color="#ffb100"/><stop offset="0.8512" stop-color="#ffd700"/><stop offset="1.0000" stop-color="#ffd900"/></linearGradient><linearGradient id="gd23" x1="0" x2="1" y1="0" y2="0"><stop offset="0.0000" stop-color="#ffd900"/><stop offset="0.1256" stop-color="#ffd400"/><stop offset="0.1581" stop-color="#ffe800"/><stop offset="0.1674" stop-color="#fff900"/><stop offset="0.1721" stop-color="#ffff0d"/><stop offset="0.1860" stop-color="#ffff5e"/><stop offset="0.1907" stop-color="#ffff6d"/><stop offset="0.1953" stop-color="#ffff6e"/><stop offset="0.2000" stop-color="#ffff61"/><stop offset="0.2047" stop-color="#ffff42"/><stop offset="0.2093" stop-color="#ffff11"/><stop offset="0.2140" stop-color="#ffed00"/><stop offset="0.2279" stop-color="#ff8400"/><stop offset="0.2419" stop-color="#ff0e00"/><stop offset="0.2465" stop-color="#df0000"/><stop offset="0.2512" stop-color="#b30000"/><stop offset="0.2558" stop-color="#940000"/><stop offset="0.2605" stop-color="#830000"/><stop offset="0.2651" stop-color="#830000"/><stop offset="0.2698" stop-color="#930000"/><stop offset="0.2744" stop-color="#b20000"/><stop offset="0.2837" stop-color="#ff0b00"/><stop offset="0.3116" stop-color="#ffe500"/><stop offset="0.3163" stop-color="#ffff09"/><stop offset="0.3256" stop-color="#ffff8b"/><stop offset="0.3349" stop-color="#ffffe8"/><stop offset="0.3395" stop-color="#ffffff"/><stop offset="0.3535" stop-color="#ffffff"/><stop offset="0.3581" stop-color="#fffff5"/><stop offset="0.3860" stop-color="#ffff19"/><stop offset="0.3907" stop-color="#fffe00"/><stop offset="0.4140" stop-color="#ffe500"/><stop offset="0.6093" stop-color="#ffeb00"/><stop offset="0.6605" stop-color="#ffdd00"/><stop offset="0.6977" stop-color="#ffb400"/><stop offset="0.7442" stop-color="#ffda00"/><stop offset="0.7767" stop-color="#ffcd00"/><stop offset="0.8047" stop-color="#ffb100"/><stop offset="0.8512" stop-color="#ffd700"/><stop offset="1.0000" stop-color="#ffd900"/></linearGradient><linearGradient id="gd24" x1="0" x2="1" y1="0" y2="0"><stop offset="0.0000" stop-color="#ffd900"/><stop offset="0.1256" stop-color="#ffd400"/><stop offset="0.1581" stop-color="#ffe600"/><stop offset="0.1721" stop-color="#ffff05"/><stop offset="0.1860" stop-color="#ffff59"/><stop offset="0.1953" stop-color="#ffff70"/><stop offset="0.2000" stop-color="#ffff67"/><stop offset="0.2047" stop-color="#ffff4d"/><stop offset="0.2140" stop-color="#fff500"/><stop offset="0.2279" stop-color="#ff9100"/><stop offset="0.2419" stop-color="#ff1b00"/><stop offset="0.2465" stop-color="#f20000"/><stop offset="0.2558" stop-color="#a10000"/><stop offset="0.2605" stop-color="#8d0000"/><stop offset="0.2651" stop-color="#880000"/><stop offset="0.2698" stop-color="#930000"/><stop offset="0.2744" stop-color="#ae0000"/><stop offset="0.2837" stop-color="#ff0400"/><stop offset="0.3116" stop-color="#ffdb00"/><stop offset="0.3163" stop-color="#fff900"/><stop offset="0.3302" stop-color="#ffffa8"/><stop offset="0.3395" stop-color="#fffff3"/><stop offset="0.3442" stop-color="#ffffff"/><stop offset="0.3535" stop-color="#ffffff"/><stop offset="0.3581" stop-color="#fffff1"/><stop offset="0.3721" stop-color="#ffff8b"/><stop offset="0.3860" stop-color="#ffff1e"/><stop offset="0.3907" stop-color="#ffff02"/><stop offset="0.4140" stop-color="#ffe500"/><stop offset="0.6093" stop-color="#ffeb00"/><stop offset="0.6605" stop-color="#ffdd00"/><stop offset="0.6977" stop-color="#ffb400"/><stop offset="0.7442" stop-color="#ffda00"/><stop offset="0.7767" stop-color="#ffcd00"/><stop offset="0.8047" stop-color="#ffb100"/><stop offset="0.8512" stop-color="#ffd700"/><stop offset="1.0000" stop-color="#ffd900"/></linearGradient><linearGradient id="gd25" x1="0" x2="1" y1="0" y2="0"><stop offset="0.0000" stop-color="#ffd900"/><stop offset="0.1256" stop-color="#ffd400"/><stop offset="0.1581" stop-color="#ffe500"/><stop offset="0.1721" stop-color="#fffe00"/><stop offset="0.1907" stop-color="#ffff66"/><stop offset="0.1953" stop-color="#ffff70"/><stop offset="0.2000" stop-color="#ffff6b"/><stop offset="0.2047" stop-color="#ffff56"/><stop offset="0.2140" stop-color="#fffd00"/><stop offset="0.2279" stop-color="#ff9d00"/><stop offset="0.2465" stop-color="#ff0500"/><stop offset="0.2558" stop-color="#b20000"/><stop offset="0.2605" stop-color="#9a0000"/><stop offset="0.2651" stop-color="#910000"/><stop offset="0.2698" stop-color="#980000"/><stop offset="0.2744" stop-color="#ae0000"/><stop offset="0.2837" stop-color="#fe0000"/><stop offset="0.3116" stop-color="#ffd200"/><stop offset="0.3163" stop-color="#fff000"/><stop offset="0.3209" stop-color="#ffff1f"/><stop offset="0.3302" stop-color="#ffff94"/><stop offset="0.3395" stop-color="#ffffe3"/><stop offset="0.3442" stop-color="#fffff8"/><stop offset="0.3535" stop-color="#fffffe"/><stop offset="0.3628" stop-color="#ffffd5"/><stop offset="0.3860" stop-color="#ffff23"/><stop offset="0.3907" stop-color="#ffff07"/><stop offset="0.4186" stop-color="#ffe400"/><stop offset="0.6047" stop-color="#ffeb00"/><stop offset="0.6605" stop-color="#ffdd00"/><stop offset="0.6977" stop-color="#ffb400"/><stop offset="0.7442" stop-color="#ffda00"/><stop offset="0.7767" stop-color="#ffcd00"/><stop offset="0.8047" stop-color="#ffb100"/><stop offset="0.8512" stop-color="#ffd700"/><stop offset="1.0000" stop-color="#ffd900"/></linearGradient><linearGradient id="gd26" x1="0" x2="1" y1="0" y2="0"><stop offset="0.0000" stop-color="#ffd900"/><stop offset="0.1256" stop-color="#ffd400"/><stop offset="0.1628" stop-color="#ffea00"/><stop offset="0.1721" stop-color="#fffb00"/><stop offset="0.1814" stop-color="#ffff30"/><stop offset="0.1907" stop-color="#ffff62"/><stop offset="0.1953" stop-color="#ffff6f"/><stop offset="0.2000" stop-color="#ffff6e"/><stop offset="0.2047" stop-color="#ffff5e"/><stop offset="0.2093" stop-color="#ffff3d"/><stop offset="0.2140" stop-color="#ffff0c"/><stop offset="0.2233" stop-color="#ffcc00"/><stop offset="0.2465" stop-color="#ff1400"/><stop offset="0.2512" stop-color="#ed0000"/><stop offset="0.2558" stop-color="#c60000"/><stop offset="0.2605" stop-color="#ab0000"/><stop offset="0.2651" stop-color="#9f0000"/><stop offset="0.2698" stop-color="#a20000"/><stop offset="0.2744" stop-color="#b30000"/><stop offset="0.2837" stop-color="#fc0000"/><stop offset="0.3163" stop-color="#ffe900"/><stop offset="0.3209" stop-color="#ffff0e"/><stop offset="0.3302" stop-color="#ffff84"/><stop offset="0.3395" stop-color="#ffffd6"/><stop offset="0.3442" stop-color="#ffffee"/><stop offset="0.3488" stop-color="#fffffa"/><stop offset="0.3581" stop-color="#ffffed"/><stop offset="0.3674" stop-color="#ffffb7"/><stop offset="0.3907" stop-color="#ffff0b"/><stop offset="0.4000" stop-color="#fff200"/><stop offset="0.4326" stop-color="#ffe400"/><stop offset="0.6000" stop-color="#ffec00"/><stop offset="0.6605" stop-color="#ffdd00"/><stop offset="0.6977" stop-color="#ffb400"/><stop offset="0.7442" stop-color="#ffda00"/><stop offset="0.7767" stop-color="#ffcd00"/><stop offset="0.8047" stop-color="#ffb100"/><stop offset="0.8512" stop-color="#ffd700"/><stop offset="1.0000" stop-color="#ffd900"/></linearGradient><linearGradient id="gd27" x1="0" x2="1" y1="0" y2="0"><stop offset="0.0000" stop-color="#ffd900"/><stop offset="0.1209" stop-color="#ffd200"/><stop offset="0.1628" stop-color="#ffe900"/><stop offset="0.1721" stop-color="#fff900"/><stop offset="0.1767" stop-color="#ffff0e"/><stop offset="0.1907" stop-color="#ffff5f"/><stop offset="0.1953" stop-color="#ffff6e"/><stop offset="0.2000" stop-color="#ffff70"/><stop offset="0.2047" stop-color="#ffff64"/><stop offset="0.2093" stop-color="#ffff46"/><stop offset="0.2140" stop-color="#ffff19"/><stop offset="0.2186" stop-color="#fff100"/><stop offset="0.2372" stop-color="#ff6a00"/><stop offset="0.2512" stop-color="#fe0400"/><stop offset="0.2605" stop-color="#c00000"/><stop offset="0.2651" stop-color="#b10000"/><stop offset="0.2698" stop-color="#b20000"/><stop offset="0.2744" stop-color="#c00000"/><stop offset="0.2837" stop-color="#ff0300"/><stop offset="0.3163" stop-color="#ffe600"/><stop offset="0.3209" stop-color="#ffff04"/><stop offset="0.3302" stop-color="#ffff79"/><stop offset="0.3395" stop-color="#ffffcd"/><stop offset="0.3442" stop-color="#ffffe6"/><stop offset="0.3488" stop-color="#fffff4"/><stop offset="0.3581" stop-color="#ffffea"/><stop offset="0.3674" stop-color="#ffffb8"/><stop offset="0.3907" stop-color="#ffff0d"/><stop offset="0.3953" stop-color="#fffa00"/><stop offset="0.4186" stop-color="#ffe500"/><stop offset="0.6047" stop-color="#ffeb00"/><stop offset="0.6605" stop-color="#ffdd00"/><stop offset="0.6977" stop-color="#ffb400"/><stop offset="0.7442" stop-color="#ffda00"/><stop offset="0.7767" stop-color="#ffcd00"/><stop offset="0.8047" stop-color="#ffb100"/><stop offset="0.8512" stop-color="#ffd700"/><stop offset="1.0000" stop-color="#ffd900"/></linearGradient><linearGradient id="gd28" x1="0" x2="1" y1="0" y2="0"><stop offset="0.0000" stop-color="#ffd900"/><stop offset="0.1209" stop-color="#ffd200"/><stop offset="0.1628" stop-color="#ffe800"/><stop offset="0.1721" stop-color="#fff900"/><stop offset="0.1767" stop-color="#ffff0b"/><stop offset="0.1907" stop-color="#ffff5d"/><stop offset="0.2000" stop-color="#ffff72"/><stop offset="0.2047" stop-color="#ffff67"/><stop offset="0.2093" stop-color="#ffff4c"/><stop offset="0.2186" stop-color="#fff600"/><stop offset="0.2372" stop-color="#ff7500"/><stop offset="0.2512" stop-color="#ff1100"/><stop offset="0.2558" stop-color="#f30000"/><stop offset="0.2605" stop-color="#d70000"/><stop offset="0.2651" stop-color="#c80000"/><stop offset="0.2698" stop-color="#c70000"/><stop offset="0.2744" stop-color="#d40000"/><stop offset="0.2791" stop-color="#ee0000"/><stop offset="0.2837" stop-color="#ff0c00"/><stop offset="0.3163" stop-color="#ffe600"/><stop offset="0.3209" stop-color="#ffff02"/><stop offset="0.3302" stop-color="#ffff74"/><stop offset="0.3395" stop-color="#ffffc6"/><stop offset="0.3488" stop-color="#ffffee"/><stop offset="0.3581" stop-color="#ffffe5"/><stop offset="0.3674" stop-color="#ffffb4"/><stop offset="0.3907" stop-color="#ffff0a"/><stop offset="0.4000" stop-color="#fff200"/><stop offset="0.4279" stop-color="#ffe400"/><stop offset="0.6000" stop-color="#ffec00"/><stop offset="0.6605" stop-color="#ffdd00"/><stop offset="0.6977" stop-color="#ffb400"/><stop offset="0.7442" stop-color="#ffda00"/><stop offset="0.7767" stop-color="#ffcd00"/><stop offset="0.8047" stop-color="#ffb100"/><stop offset="0.8512" stop-color="#ffd700"/><stop offset="1.0000" stop-color="#ffd900"/></linearGradient><linearGradient id="gd29" x1="0" x2="1" y1="0" y2="0"><stop offset="0.0000" stop-color="#ffd900"/><stop offset="0.1163" stop-color="#ffd100"/><stop offset="0.1628" stop-color="#ffe800"/><stop offset="0.1721" stop-color="#fff800"/><stop offset="0.1767" stop-color="#ffff0b"/><stop offset="0.1907" stop-color="#ffff5d"/><stop offset="0.2000" stop-color="#ffff72"/><stop offset="0.2047" stop-color="#ffff68"/><stop offset="0.2093" stop-color="#ffff4f"/><stop offset="0.2186" stop-color="#fff800"/><stop offset="0.2372" stop-color="#ff7d00"/><stop offset="0.2512" stop-color="#ff1f00"/><stop offset="0.2558" stop-color="#ff0800"/><stop offset="0.2651" stop-color="#e30000"/><stop offset="0.2698" stop-color="#e20000"/><stop offset="0.2791" stop-color="#fe0500"/><stop offset="0.2930" stop-color="#ff5500"/><stop offset="0.3163" stop-color="#ffea00"/><stop offset="0.3209" stop-color="#ffff09"/><stop offset="0.3302" stop-color="#ffff74"/><stop offset="0.3395" stop-color="#ffffc1"/><stop offset="0.3488" stop-color="#ffffe4"/><stop offset="0.3581" stop-color="#ffffd9"/><stop offset="0.3674" stop-color="#ffffa7"/><stop offset="0.3860" stop-color="#ffff1c"/><stop offset="0.3907" stop-color="#fffe02"/><stop offset="0.4140" stop-color="#ffe400"/><stop offset="0.6047" stop-color="#ffeb00"/><stop offset="0.6605" stop-color="#ffdd00"/><stop offset="0.6977" stop-color="#ffb400"/><stop offset="0.7442" stop-color="#ffda00"/><stop offset="0.7767" stop-color="#ffcd00"/><stop offset="0.8047" stop-color="#ffb100"/><stop offset="0.8512" stop-color="#ffd700"/><stop offset="1.0000" stop-color="#ffd900"/></linearGradient><linearGradient id="gd30" x1="0" x2="1" y1="0" y2="0"><stop offset="0.0000" stop-color="#ffd900"/><stop offset="0.1163" stop-color="#ffd100"/><stop offset="0.1628" stop-color="#ffe800"/><stop offset="0.1721" stop-color="#fff900"/><stop offset="0.1767" stop-color="#ffff0c"/><stop offset="0.1907" stop-color="#ffff5e"/><stop offset="0.2000" stop-color="#ffff72"/><stop offset="0.2047" stop-color="#ffff68"/><stop offset="0.2093" stop-color="#ffff4f"/><stop offset="0.2186" stop-color="#fff900"/><stop offset="0.2512" stop-color="#ff2d00"/><stop offset="0.2605" stop-color="#ff0900"/><stop offset="0.2698" stop-color="#fc0400"/><stop offset="0.2791" stop-color="#ff1a00"/><stop offset="0.2977" stop-color="#ff8400"/><stop offset="0.3163" stop-color="#fff200"/><stop offset="0.3209" stop-color="#ffff17"/><stop offset="0.3302" stop-color="#ffff76"/><stop offset="0.3395" stop-color="#ffffb8"/><stop offset="0.3488" stop-color="#ffffd2"/><stop offset="0.3581" stop-color="#ffffc0"/><stop offset="0.3721" stop-color="#ffff66"/><stop offset="0.3860" stop-color="#fffd05"/><stop offset="0.4093" stop-color="#ffe100"/><stop offset="0.5953" stop-color="#ffec00"/><stop offset="0.6605" stop-color="#ffdd00"/><stop offset="0.6977" stop-color="#ffb400"/><stop offset="0.7442" stop-color="#ffda00"/><stop offset="0.7767" stop-color="#ffcd00"/><stop offset="0.8047" stop-color="#ffb100"/><stop offset="0.8512" stop-color="#ffd700"/><stop offset="1.0000" stop-color="#ffd900"/></linearGradient><linearGradient id="gd31" x1="0" x2="1" y1="0" y2="0"><stop offset="0.0000" stop-color="#ffd900"/><stop offset="0.1116" stop-color="#ffcf00"/><stop offset="0.1581" stop-color="#ffe300"/><stop offset="0.1721" stop-color="#fffa00"/><stop offset="0.1767" stop-color="#ffff0f"/><stop offset="0.1907" stop-color="#ffff5e"/><stop offset="0.2000" stop-color="#ffff70"/><stop offset="0.2047" stop-color="#ffff66"/><stop offset="0.2093" stop-color="#ffff4d"/><stop offset="0.2186" stop-color="#fffa00"/><stop offset="0.2512" stop-color="#ff3e00"/><stop offset="0.2605" stop-color="#ff2000"/><stop offset="0.2698" stop-color="#ff1d00"/><stop offset="0.2791" stop-color="#ff3600"/><stop offset="0.3163" stop-color="#fffc03"/><stop offset="0.3302" stop-color="#ffff77"/><stop offset="0.3395" stop-color="#ffffa5"/><stop offset="0.3488" stop-color="#ffffae"/><stop offset="0.3581" stop-color="#ffff8f"/><stop offset="0.3767" stop-color="#fffd0f"/><stop offset="0.3814" stop-color="#fff600"/><stop offset="0.4000" stop-color="#ffda00"/><stop offset="0.4791" stop-color="#ffed00"/><stop offset="0.6465" stop-color="#ffe400"/><stop offset="0.6791" stop-color="#ffc500"/><stop offset="0.6977" stop-color="#ffb400"/><stop offset="0.7442" stop-color="#ffda00"/><stop offset="0.7767" stop-color="#ffcd00"/><stop offset="0.8047" stop-color="#ffb100"/><stop offset="0.8512" stop-color="#ffd700"/><stop offset="1.0000" stop-color="#ffd900"/></linearGradient><linearGradient id="gd32" x1="0" x2="1" y1="0" y2="0"><stop offset="0.0000" stop-color="#ffd900"/><stop offset="0.1070" stop-color="#ffcd00"/><stop offset="0.1581" stop-color="#ffe300"/><stop offset="0.1721" stop-color="#fffa00"/><stop offset="0.1767" stop-color="#ffff0e"/><stop offset="0.1907" stop-color="#ffff5b"/><stop offset="0.2000" stop-color="#ffff6d"/><stop offset="0.2047" stop-color="#ffff64"/><stop offset="0.2093" stop-color="#ffff4d"/><stop offset="0.2186" stop-color="#fffd00"/><stop offset="0.2512" stop-color="#ff5700"/><stop offset="0.2605" stop-color="#ff3f00"/><stop offset="0.2698" stop-color="#ff4000"/><stop offset="0.2837" stop-color="#ff6f00"/><stop offset="0.3070" stop-color="#ffe900"/><stop offset="0.3116" stop-color="#fffb05"/><stop offset="0.3256" stop-color="#ffff5d"/><stop offset="0.3349" stop-color="#ffff7a"/><stop offset="0.3442" stop-color="#ffff7a"/><stop offset="0.3535" stop-color="#ffff57"/><stop offset="0.3628" stop-color="#fffd1d"/><stop offset="0.3674" stop-color="#fff608"/><stop offset="0.3814" stop-color="#ffd200"/><stop offset="0.4000" stop-color="#ffc200"/><stop offset="0.4558" stop-color="#fff100"/><stop offset="0.6512" stop-color="#ffe300"/><stop offset="0.6977" stop-color="#ffb400"/><stop offset="0.7442" stop-color="#ffda00"/><stop offset="0.7767" stop-color="#ffcd00"/><stop offset="0.8047" stop-color="#ffb100"/><stop offset="0.8512" stop-color="#ffd700"/><stop offset="1.0000" stop-color="#ffd900"/></linearGradient><linearGradient id="gd33" x1="0" x2="1" y1="0" y2="0"><stop offset="0.0000" stop-color="#ffd900"/><stop offset="0.1070" stop-color="#ffcd00"/><stop offset="0.1581" stop-color="#ffe300"/><stop offset="0.1721" stop-color="#fff900"/><stop offset="0.1767" stop-color="#ffff09"/><stop offset="0.1907" stop-color="#ffff53"/><stop offset="0.2000" stop-color="#ffff68"/><stop offset="0.2093" stop-color="#ffff51"/><stop offset="0.2186" stop-color="#ffff0d"/><stop offset="0.2233" stop-color="#fff200"/><stop offset="0.2512" stop-color="#ff7a00"/><stop offset="0.2651" stop-color="#ff6700"/><stop offset="0.2791" stop-color="#ff8500"/><stop offset="0.3023" stop-color="#fff401"/><stop offset="0.3070" stop-color="#fffe16"/><stop offset="0.3163" stop-color="#ffff4f"/><stop offset="0.3256" stop-color="#ffff5f"/><stop offset="0.3349" stop-color="#ffff51"/><stop offset="0.3535" stop-color="#fff406"/><stop offset="0.3814" stop-color="#ffa000"/><stop offset="0.3953" stop-color="#ff9c00"/><stop offset="0.4465" stop-color="#fff300"/><stop offset="0.4744" stop-color="#fff600"/><stop offset="0.5581" stop-color="#ffef00"/><stop offset="0.6605" stop-color="#ffdd00"/><stop offset="0.6977" stop-color="#ffb400"/><stop offset="0.7442" stop-color="#ffda00"/><stop offset="0.7767" stop-color="#ffcd00"/><stop offset="0.8047" stop-color="#ffb100"/><stop offset="0.8512" stop-color="#ffd700"/><stop offset="1.0000" stop-color="#ffd900"/></linearGradient><linearGradient id="gd34" x1="0" x2="1" y1="0" y2="0"><stop offset="0.0000" stop-color="#ffd900"/><stop offset="0.1023" stop-color="#ffcb00"/><stop offset="0.1628" stop-color="#ffe700"/><stop offset="0.1767" stop-color="#fffe01"/><stop offset="0.1953" stop-color="#ffff59"/><stop offset="0.2047" stop-color="#ffff64"/><stop offset="0.2140" stop-color="#ffff47"/><stop offset="0.2233" stop-color="#fffe07"/><stop offset="0.2465" stop-color="#ffac00"/><stop offset="0.2605" stop-color="#ff9300"/><stop offset="0.2744" stop-color="#ffa200"/><stop offset="0.2930" stop-color="#ffed00"/><stop offset="0.2977" stop-color="#fffd10"/><stop offset="0.3070" stop-color="#ffff5d"/><stop offset="0.3116" stop-color="#ffff71"/><stop offset="0.3163" stop-color="#ffff77"/><stop offset="0.3256" stop-color="#ffff5a"/><stop offset="0.3395" stop-color="#fff905"/><stop offset="0.3721" stop-color="#ff7b00"/><stop offset="0.3860" stop-color="#ff6600"/><stop offset="0.4000" stop-color="#ff7c00"/><stop offset="0.4372" stop-color="#ffe900"/><stop offset="0.4558" stop-color="#ffff07"/><stop offset="0.5209" stop-color="#ffee00"/><stop offset="0.6558" stop-color="#ffe000"/><stop offset="0.6977" stop-color="#ffb400"/><stop offset="0.7442" stop-color="#ffda00"/><stop offset="0.7767" stop-color="#ffcd00"/><stop offset="0.8047" stop-color="#ffb100"/><stop offset="0.8512" stop-color="#ffd700"/><stop offset="1.0000" stop-color="#ffd900"/></linearGradient><linearGradient id="gd35" x1="0" x2="1" y1="0" y2="0"><stop offset="0.0000" stop-color="#ffd900"/><stop offset="0.1023" stop-color="#ffcb00"/><stop offset="0.1628" stop-color="#ffe500"/><stop offset="0.1767" stop-color="#fffa00"/><stop offset="0.1814" stop-color="#ffff0c"/><stop offset="0.1953" stop-color="#ffff51"/><stop offset="0.2047" stop-color="#ffff67"/><stop offset="0.2140" stop-color="#ffff5a"/><stop offset="0.2233" stop-color="#ffff29"/><stop offset="0.2279" stop-color="#fffe0a"/><stop offset="0.2372" stop-color="#ffe500"/><stop offset="0.2558" stop-color="#ffba00"/><stop offset="0.2698" stop-color="#ffbc00"/><stop offset="0.2837" stop-color="#ffe200"/><stop offset="0.2884" stop-color="#fff600"/><stop offset="0.2930" stop-color="#ffff1d"/><stop offset="0.3023" stop-color="#ffff79"/><stop offset="0.3070" stop-color="#ffff94"/><stop offset="0.3116" stop-color="#ffff9d"/><stop offset="0.3163" stop-color="#ffff93"/><stop offset="0.3209" stop-color="#ffff78"/><stop offset="0.3302" stop-color="#ffff22"/><stop offset="0.3349" stop-color="#fff800"/><stop offset="0.3674" stop-color="#ff5900"/><stop offset="0.3814" stop-color="#ff3800"/><stop offset="0.3953" stop-color="#ff4b00"/><stop offset="0.4326" stop-color="#ffdd00"/><stop offset="0.4465" stop-color="#fffe01"/><stop offset="0.4558" stop-color="#ffff19"/><stop offset="0.4698" stop-color="#ffff0f"/><stop offset="0.4837" stop-color="#fff800"/><stop offset="0.5349" stop-color="#ffee00"/><stop offset="0.6558" stop-color="#ffe000"/><stop offset="0.6977" stop-color="#ffb400"/><stop offset="0.7442" stop-color="#ffda00"/><stop offset="0.7767" stop-color="#ffcd00"/><stop offset="0.8047" stop-color="#ffb100"/><stop offset="0.8512" stop-color="#ffd700"/><stop offset="1.0000" stop-color="#ffd900"/></linearGradient><linearGradient id="gd36" x1="0" x2="1" y1="0" y2="0"><stop offset="0.0000" stop-color="#ffd900"/><stop offset="0.1023" stop-color="#ffca00"/><stop offset="0.1674" stop-color="#ffe900"/><stop offset="0.1814" stop-color="#ffff03"/><stop offset="0.2000" stop-color="#ffff5f"/><stop offset="0.2093" stop-color="#ffff6e"/><stop offset="0.2186" stop-color="#ffff5a"/><stop offset="0.2326" stop-color="#ffff09"/><stop offset="0.2419" stop-color="#ffea00"/><stop offset="0.2605" stop-color="#ffce00"/><stop offset="0.2744" stop-color="#ffda00"/><stop offset="0.2837" stop-color="#fff600"/><stop offset="0.2884" stop-color="#ffff18"/><stop offset="0.2977" stop-color="#ffff7a"/><stop offset="0.3023" stop-color="#ffffa0"/><stop offset="0.3070" stop-color="#ffffb5"/><stop offset="0.3116" stop-color="#ffffb6"/><stop offset="0.3163" stop-color="#ffffa2"/><stop offset="0.3209" stop-color="#ffff7c"/><stop offset="0.3302" stop-color="#ffff0c"/><stop offset="0.3349" stop-color="#ffea00"/><stop offset="0.3674" stop-color="#ff3600"/><stop offset="0.3767" stop-color="#ff1a00"/><stop offset="0.3860" stop-color="#ff1700"/><stop offset="0.4000" stop-color="#ff4300"/><stop offset="0.4279" stop-color="#ffca00"/><stop offset="0.4419" stop-color="#fff800"/><stop offset="0.4558" stop-color="#ffff25"/><stop offset="0.4651" stop-color="#ffff23"/><stop offset="0.4791" stop-color="#ffff00"/><stop offset="0.5116" stop-color="#ffee00"/><stop offset="0.6512" stop-color="#ffe300"/><stop offset="0.6977" stop-color="#ffb400"/><stop offset="0.7442" stop-color="#ffda00"/><stop offset="0.7767" stop-color="#ffcd00"/><stop offset="0.8047" stop-color="#ffb100"/><stop offset="0.8512" stop-color="#ffd700"/><stop offset="1.0000" stop-color="#ffd900"/></linearGradient><linearGradient id="gd37" x1="0" x2="1" y1="0" y2="0"><stop offset="0.0000" stop-color="#ffd900"/><stop offset="0.0977" stop-color="#ffc900"/><stop offset="0.1674" stop-color="#ffe700"/><stop offset="0.1814" stop-color="#fffe00"/><stop offset="0.2000" stop-color="#ffff5f"/><stop offset="0.2093" stop-color="#ffff74"/><stop offset="0.2186" stop-color="#ffff67"/><stop offset="0.2326" stop-color="#ffff1f"/><stop offset="0.2372" stop-color="#fffe03"/><stop offset="0.2605" stop-color="#ffdb00"/><stop offset="0.2744" stop-color="#ffe500"/><stop offset="0.2837" stop-color="#ffff03"/><stop offset="0.2977" stop-color="#ffff90"/><stop offset="0.3023" stop-color="#ffffb4"/><stop offset="0.3070" stop-color="#ffffc6"/><stop offset="0.3116" stop-color="#ffffc3"/><stop offset="0.3163" stop-color="#ffffaa"/><stop offset="0.3209" stop-color="#ffff7e"/><stop offset="0.3302" stop-color="#ffff01"/><stop offset="0.3628" stop-color="#ff3600"/><stop offset="0.3721" stop-color="#ff0d00"/><stop offset="0.3814" stop-color="#f80100"/><stop offset="0.3907" stop-color="#ff0b00"/><stop offset="0.4047" stop-color="#ff4b00"/><stop offset="0.4279" stop-color="#ffc600"/><stop offset="0.4419" stop-color="#fff800"/><stop offset="0.4558" stop-color="#ffff2b"/><stop offset="0.4651" stop-color="#ffff29"/><stop offset="0.4791" stop-color="#ffff03"/><stop offset="0.5116" stop-color="#ffee00"/><stop offset="0.6512" stop-color="#ffe300"/><stop offset="0.6977" stop-color="#ffb400"/><stop offset="0.7442" stop-color="#ffda00"/><stop offset="0.7767" stop-color="#ffcd00"/><stop offset="0.8047" stop-color="#ffb100"/><stop offset="0.8512" stop-color="#ffd700"/><stop offset="1.0000" stop-color="#ffd900"/></linearGradient><linearGradient id="gd38" x1="0" x2="1" y1="0" y2="0"><stop offset="0.0000" stop-color="#ffd900"/><stop offset="0.0977" stop-color="#ffc800"/><stop offset="0.1674" stop-color="#ffe600"/><stop offset="0.1814" stop-color="#fffd00"/><stop offset="0.2000" stop-color="#ffff5e"/><stop offset="0.2093" stop-color="#ffff77"/><stop offset="0.2186" stop-color="#ffff6d"/><stop offset="0.2326" stop-color="#ffff2a"/><stop offset="0.2372" stop-color="#ffff0e"/><stop offset="0.2419" stop-color="#fffa00"/><stop offset="0.2605" stop-color="#ffe000"/><stop offset="0.2744" stop-color="#ffe900"/><stop offset="0.2837" stop-color="#ffff06"/><stop offset="0.2977" stop-color="#ffff92"/><stop offset="0.3023" stop-color="#ffffb7"/><stop offset="0.3070" stop-color="#ffffcc"/><stop offset="0.3116" stop-color="#ffffcc"/><stop offset="0.3163" stop-color="#ffffb6"/><stop offset="0.3209" stop-color="#ffff8a"/><stop offset="0.3302" stop-color="#ffff07"/><stop offset="0.3581" stop-color="#ff4900"/><stop offset="0.3721" stop-color="#fc0100"/><stop offset="0.3814" stop-color="#de0000"/><stop offset="0.3860" stop-color="#e10000"/><stop offset="0.3953" stop-color="#ff0800"/><stop offset="0.4279" stop-color="#ffbf00"/><stop offset="0.4419" stop-color="#fff600"/><stop offset="0.4465" stop-color="#ffff08"/><stop offset="0.4558" stop-color="#ffff2d"/><stop offset="0.4651" stop-color="#ffff2e"/><stop offset="0.4837" stop-color="#fffd00"/><stop offset="0.5209" stop-color="#ffee00"/><stop offset="0.6558" stop-color="#ffe000"/><stop offset="0.6977" stop-color="#ffb400"/><stop offset="0.7442" stop-color="#ffda00"/><stop offset="0.7767" stop-color="#ffcd00"/><stop offset="0.8047" stop-color="#ffb100"/><stop offset="0.8512" stop-color="#ffd700"/><stop offset="1.0000" stop-color="#ffd900"/></linearGradient><linearGradient id="gd39" x1="0" x2="1" y1="0" y2="0"><stop offset="0.0000" stop-color="#ffd900"/><stop offset="0.0977" stop-color="#ffc800"/><stop offset="0.1674" stop-color="#ffe600"/><stop offset="0.1814" stop-color="#fffd00"/><stop offset="0.2047" stop-color="#ffff6f"/><stop offset="0.2140" stop-color="#ffff79"/><stop offset="0.2233" stop-color="#ffff60"/><stop offset="0.2419" stop-color="#fffd00"/><stop offset="0.2605" stop-color="#ffe300"/><stop offset="0.2744" stop-color="#ffe900"/><stop offset="0.2837" stop-color="#ffff01"/><stop offset="0.3023" stop-color="#ffffb3"/><stop offset="0.3070" stop-color="#ffffcd"/><stop offset="0.3116" stop-color="#ffffd2"/><stop offset="0.3163" stop-color="#ffffc0"/><stop offset="0.3209" stop-color="#ffff97"/><stop offset="0.3256" stop-color="#ffff5d"/><stop offset="0.3302" stop-color="#ffff16"/><stop offset="0.3349" stop-color="#ffe900"/><stop offset="0.3674" stop-color="#ff0c00"/><stop offset="0.3767" stop-color="#d40000"/><stop offset="0.3814" stop-color="#c70000"/><stop offset="0.3860" stop-color="#c70000"/><stop offset="0.3907" stop-color="#d40000"/><stop offset="0.4000" stop-color="#ff0c00"/><stop offset="0.4279" stop-color="#ffb600"/><stop offset="0.4419" stop-color="#fff100"/><stop offset="0.4465" stop-color="#ffff01"/><stop offset="0.4558" stop-color="#ffff2b"/><stop offset="0.4651" stop-color="#ffff32"/><stop offset="0.4837" stop-color="#fffe00"/><stop offset="0.5163" stop-color="#ffee00"/><stop offset="0.6512" stop-color="#ffe300"/><stop offset="0.6977" stop-color="#ffb400"/><stop offset="0.7442" stop-color="#ffda00"/><stop offset="0.7767" stop-color="#ffcd00"/><stop offset="0.8047" stop-color="#ffb100"/><stop offset="0.8512" stop-color="#ffd700"/><stop offset="1.0000" stop-color="#ffd900"/></linearGradient><linearGradient id="gd40" x1="0" x2="1" y1="0" y2="0"><stop offset="0.0000" stop-color="#ffd900"/><stop offset="0.0977" stop-color="#ffc900"/><stop offset="0.1674" stop-color="#ffe600"/><stop offset="0.1814" stop-color="#fffc00"/><stop offset="0.2047" stop-color="#ffff70"/><stop offset="0.2140" stop-color="#ffff7a"/><stop offset="0.2233" stop-color="#ffff62"/><stop offset="0.2419" stop-color="#fffe00"/><stop offset="0.2605" stop-color="#ffe400"/><stop offset="0.2744" stop-color="#ffe800"/><stop offset="0.2837" stop-color="#fffc00"/><stop offset="0.2884" stop-color="#ffff22"/><stop offset="0.3023" stop-color="#ffffac"/><stop offset="0.3070" stop-color="#ffffc9"/><stop offset="0.3116" stop-color="#ffffd4"/><stop offset="0.3163" stop-color="#ffffc7"/><stop offset="0.3209" stop-color="#ffffa4"/><stop offset="0.3256" stop-color="#ffff6c"/><stop offset="0.3302" stop-color="#ffff26"/><stop offset="0.3349" stop-color="#ffef00"/><stop offset="0.3674" stop-color="#ff0800"/><stop offset="0.3767" stop-color="#c50000"/><stop offset="0.3814" stop-color="#b30000"/><stop offset="0.3860" stop-color="#b00000"/><stop offset="0.3907" stop-color="#ba0000"/><stop offset="0.4000" stop-color="#f40000"/><stop offset="0.4093" stop-color="#ff3400"/><stop offset="0.4279" stop-color="#ffac00"/><stop offset="0.4419" stop-color="#ffec00"/><stop offset="0.4465" stop-color="#fffb00"/><stop offset="0.4558" stop-color="#ffff28"/><stop offset="0.4651" stop-color="#ffff34"/><stop offset="0.4791" stop-color="#ffff13"/><stop offset="0.4884" stop-color="#fffb00"/><stop offset="0.5256" stop-color="#ffee00"/><stop offset="0.6558" stop-color="#ffe000"/><stop offset="0.6977" stop-color="#ffb400"/><stop offset="0.7442" stop-color="#ffda00"/><stop offset="0.7767" stop-color="#ffcd00"/><stop offset="0.8047" stop-color="#ffb100"/><stop offset="0.8512" stop-color="#ffd700"/><stop offset="1.0000" stop-color="#ffd900"/></linearGradient><linearGradient id="gd41" x1="0" x2="1" y1="0" y2="0"><stop offset="0.0000" stop-color="#ffd900"/><stop offset="0.1023" stop-color="#ffca00"/><stop offset="0.1674" stop-color="#ffe600"/><stop offset="0.1814" stop-color="#fffc00"/><stop offset="0.2047" stop-color="#ffff70"/><stop offset="0.2140" stop-color="#ffff7a"/><stop offset="0.2233" stop-color="#ffff63"/><stop offset="0.2419" stop-color="#fffe00"/><stop offset="0.2651" stop-color="#ffe200"/><stop offset="0.2791" stop-color="#ffee00"/><stop offset="0.2837" stop-color="#fff900"/><stop offset="0.2884" stop-color="#ffff17"/><stop offset="0.3023" stop-color="#ffffa2"/><stop offset="0.3070" stop-color="#ffffc4"/><stop offset="0.3116" stop-color="#ffffd4"/><stop offset="0.3163" stop-color="#ffffcd"/><stop offset="0.3209" stop-color="#ffffaf"/><stop offset="0.3256" stop-color="#ffff7c"/><stop offset="0.3349" stop-color="#fff600"/><stop offset="0.3674" stop-color="#ff0600"/><stop offset="0.3767" stop-color="#ba0000"/><stop offset="0.3814" stop-color="#a40000"/><stop offset="0.3860" stop-color="#9c0000"/><stop offset="0.3907" stop-color="#a30000"/><stop offset="0.3953" stop-color="#b80000"/><stop offset="0.4047" stop-color="#fe0400"/><stop offset="0.4279" stop-color="#ffa200"/><stop offset="0.4419" stop-color="#ffe600"/><stop offset="0.4465" stop-color="#fff700"/><stop offset="0.4605" stop-color="#ffff31"/><stop offset="0.4698" stop-color="#ffff30"/><stop offset="0.4884" stop-color="#fffc00"/><stop offset="0.5256" stop-color="#ffee00"/><stop offset="0.6558" stop-color="#ffe000"/><stop offset="0.6977" stop-color="#ffb400"/><stop offset="0.7442" stop-color="#ffda00"/><stop offset="0.7767" stop-color="#ffcd00"/><stop offset="0.8047" stop-color="#ffb100"/><stop offset="0.8512" stop-color="#ffd700"/><stop offset="1.0000" stop-color="#ffd900"/></linearGradient><linearGradient id="gd42" x1="0" x2="1" y1="0" y2="0"><stop offset="0.0000" stop-color="#ffd900"/><stop offset="0.1023" stop-color="#ffcb00"/><stop offset="0.1674" stop-color="#ffe600"/><stop offset="0.1814" stop-color="#fffc00"/><stop offset="0.2047" stop-color="#ffff70"/><stop offset="0.2140" stop-color="#ffff7a"/><stop offset="0.2233" stop-color="#ffff63"/><stop offset="0.2419" stop-color="#fffe00"/><stop offset="0.2651" stop-color="#ffe200"/><stop offset="0.2791" stop-color="#ffec00"/><stop offset="0.2837" stop-color="#fff600"/><stop offset="0.2884" stop-color="#ffff0c"/><stop offset="0.3023" stop-color="#ffff97"/><stop offset="0.3070" stop-color="#ffffbc"/><stop offset="0.3116" stop-color="#ffffd2"/><stop offset="0.3163" stop-color="#ffffd1"/><stop offset="0.3209" stop-color="#ffffb9"/><stop offset="0.3256" stop-color="#ffff8a"/><stop offset="0.3349" stop-color="#fffd01"/><stop offset="0.3674" stop-color="#ff0600"/><stop offset="0.3767" stop-color="#b30000"/><stop offset="0.3814" stop-color="#990000"/><stop offset="0.3860" stop-color="#8c0000"/><stop offset="0.3907" stop-color="#8f0000"/><stop offset="0.3953" stop-color="#a10000"/><stop offset="0.4047" stop-color="#eb0000"/><stop offset="0.4093" stop-color="#ff1300"/><stop offset="0.4326" stop-color="#ffb300"/><stop offset="0.4465" stop-color="#fff200"/><stop offset="0.4512" stop-color="#ffff03"/><stop offset="0.4605" stop-color="#ffff2e"/><stop offset="0.4698" stop-color="#ffff33"/><stop offset="0.4884" stop-color="#fffe00"/><stop offset="0.5209" stop-color="#ffee00"/><stop offset="0.6558" stop-color="#ffe000"/><stop offset="0.6977" stop-color="#ffb400"/><stop offset="0.7442" stop-color="#ffda00"/><stop offset="0.7767" stop-color="#ffcd00"/><stop offset="0.8047" stop-color="#ffb100"/><stop offset="0.8512" stop-color="#ffd700"/><stop offset="1.0000" stop-color="#ffd900"/></linearGradient><linearGradient id="gd43" x1="0" x2="1" y1="0" y2="0"><stop offset="0.0000" stop-color="#ffd900"/><stop offset="0.1023" stop-color="#ffcb00"/><stop offset="0.1674" stop-color="#ffe600"/><stop offset="0.1814" stop-color="#fffc00"/><stop offset="0.2047" stop-color="#ffff70"/><stop offset="0.2140" stop-color="#ffff7b"/><stop offset="0.2233" stop-color="#ffff63"/><stop offset="0.2419" stop-color="#ffff00"/><stop offset="0.2651" stop-color="#ffe200"/><stop offset="0.2791" stop-color="#ffea00"/><stop offset="0.2884" stop-color="#ffff02"/><stop offset="0.3070" stop-color="#ffffb4"/><stop offset="0.3116" stop-color="#ffffce"/><stop offset="0.3163" stop-color="#ffffd3"/><stop offset="0.3209" stop-color="#ffffc1"/><stop offset="0.3256" stop-color="#ffff98"/><stop offset="0.3302" stop-color="#ffff5b"/><stop offset="0.3349" stop-color="#ffff10"/><stop offset="0.3395" stop-color="#ffe400"/><stop offset="0.3674" stop-color="#ff0900"/><stop offset="0.3767" stop-color="#b10000"/><stop offset="0.3814" stop-color="#920000"/><stop offset="0.3860" stop-color="#810000"/><stop offset="0.3907" stop-color="#800000"/><stop offset="0.3953" stop-color="#8e0000"/><stop offset="0.4047" stop-color="#d40000"/><stop offset="0.4093" stop-color="#fe0400"/><stop offset="0.4326" stop-color="#ffaa00"/><stop offset="0.4465" stop-color="#ffed00"/><stop offset="0.4512" stop-color="#fffd00"/><stop offset="0.4605" stop-color="#ffff2b"/><stop offset="0.4698" stop-color="#ffff35"/><stop offset="0.4884" stop-color="#ffff02"/><stop offset="0.5209" stop-color="#ffee00"/><stop offset="0.6558" stop-color="#ffe000"/><stop offset="0.6977" stop-color="#ffb400"/><stop offset="0.7442" stop-color="#ffda00"/><stop offset="0.7767" stop-color="#ffcd00"/><stop offset="0.8047" stop-color="#ffb100"/><stop offset="0.8512" stop-color="#ffd700"/><stop offset="1.0000" stop-color="#ffd900"/></linearGradient><linearGradient id="gd44" x1="0" x2="1" y1="0" y2="0"><stop offset="0.0000" stop-color="#ffd900"/><stop offset="0.1070" stop-color="#ffcd00"/><stop offset="0.1674" stop-color="#ffe600"/><stop offset="0.1814" stop-color="#fffc00"/><stop offset="0.2047" stop-color="#ffff70"/><stop offset="0.2140" stop-color="#ffff7b"/><stop offset="0.2233" stop-color="#ffff63"/><stop offset="0.2419" stop-color="#ffff00"/><stop offset="0.2651" stop-color="#ffe100"/><stop offset="0.2837" stop-color="#fff000"/><stop offset="0.2884" stop-color="#fffc00"/><stop offset="0.2930" stop-color="#ffff1f"/><stop offset="0.3070" stop-color="#ffffaa"/><stop offset="0.3116" stop-color="#ffffc9"/><stop offset="0.3163" stop-color="#ffffd4"/><stop offset="0.3209" stop-color="#ffffc8"/><stop offset="0.3256" stop-color="#ffffa5"/><stop offset="0.3302" stop-color="#ffff6d"/><stop offset="0.3349" stop-color="#ffff24"/><stop offset="0.3395" stop-color="#ffed00"/><stop offset="0.3674" stop-color="#ff0f00"/><stop offset="0.3721" stop-color="#e10000"/><stop offset="0.3814" stop-color="#900000"/><stop offset="0.3860" stop-color="#7b0000"/><stop offset="0.3907" stop-color="#750000"/><stop offset="0.3953" stop-color="#7f0000"/><stop offset="0.4000" stop-color="#990000"/><stop offset="0.4093" stop-color="#f00000"/><stop offset="0.4140" stop-color="#ff1900"/><stop offset="0.4326" stop-color="#ffa100"/><stop offset="0.4465" stop-color="#ffe800"/><stop offset="0.4512" stop-color="#fff900"/><stop offset="0.4651" stop-color="#ffff33"/><stop offset="0.4744" stop-color="#ffff30"/><stop offset="0.4930" stop-color="#fffc00"/><stop offset="0.5302" stop-color="#ffee00"/><stop offset="0.6558" stop-color="#ffe000"/><stop offset="0.6977" stop-color="#ffb400"/><stop offset="0.7442" stop-color="#ffda00"/><stop offset="0.7767" stop-color="#ffcd00"/><stop offset="0.8047" stop-color="#ffb100"/><stop offset="0.8512" stop-color="#ffd700"/><stop offset="1.0000" stop-color="#ffd900"/></linearGradient><linearGradient id="gd45" x1="0" x2="1" y1="0" y2="0"><stop offset="0.0000" stop-color="#ffd900"/><stop offset="0.1070" stop-color="#ffcd00"/><stop offset="0.1674" stop-color="#ffe600"/><stop offset="0.1814" stop-color="#fffc00"/><stop offset="0.2047" stop-color="#ffff70"/><stop offset="0.2140" stop-color="#ffff7b"/><stop offset="0.2233" stop-color="#ffff63"/><stop offset="0.2419" stop-color="#ffff00"/><stop offset="0.2651" stop-color="#ffe100"/><stop offset="0.2837" stop-color="#ffed00"/><stop offset="0.2884" stop-color="#fff800"/><stop offset="0.2930" stop-color="#ffff14"/><stop offset="0.3070" stop-color="#ffff9f"/><stop offset="0.3116" stop-color="#ffffc2"/><stop offset="0.3163" stop-color="#ffffd3"/><stop offset="0.3209" stop-color="#ffffce"/><stop offset="0.3256" stop-color="#ffffb1"/><stop offset="0.3302" stop-color="#ffff7d"/><stop offset="0.3349" stop-color="#ffff39"/><stop offset="0.3395" stop-color="#fff500"/><stop offset="0.3674" stop-color="#ff1700"/><stop offset="0.3721" stop-color="#eb0000"/><stop offset="0.3814" stop-color="#940000"/><stop offset="0.3860" stop-color="#7a0000"/><stop offset="0.3907" stop-color="#700000"/><stop offset="0.3953" stop-color="#760000"/><stop offset="0.4000" stop-color="#8c0000"/><stop offset="0.4093" stop-color="#de0000"/><stop offset="0.4140" stop-color="#ff0d00"/><stop offset="0.4326" stop-color="#ff9800"/><stop offset="0.4465" stop-color="#ffe300"/><stop offset="0.4558" stop-color="#ffff09"/><stop offset="0.4651" stop-color="#ffff31"/><stop offset="0.4744" stop-color="#ffff33"/><stop offset="0.4930" stop-color="#fffe00"/><stop offset="0.5302" stop-color="#ffee00"/><stop offset="0.6558" stop-color="#ffe000"/><stop offset="0.6977" stop-color="#ffb400"/><stop offset="0.7442" stop-color="#ffda00"/><stop offset="0.7767" stop-color="#ffcd00"/><stop offset="0.8047" stop-color="#ffb100"/><stop offset="0.8512" stop-color="#ffd700"/><stop offset="1.0000" stop-color="#ffd900"/></linearGradient><linearGradient id="gd46" x1="0" x2="1" y1="0" y2="0"><stop offset="0.0000" stop-color="#ffd900"/><stop offset="0.1116" stop-color="#ffcf00"/><stop offset="0.1674" stop-color="#ffe600"/><stop offset="0.1814" stop-color="#fffc00"/><stop offset="0.2047" stop-color="#ffff70"/><stop offset="0.2140" stop-color="#ffff7b"/><stop offset="0.2233" stop-color="#ffff63"/><stop offset="0.2419" stop-color="#ffff00"/><stop offset="0.2651" stop-color="#ffe100"/><stop offset="0.2837" stop-color="#ffeb00"/><stop offset="0.2930" stop-color="#ffff09"/><stop offset="0.3116" stop-color="#ffffba"/><stop offset="0.3163" stop-color="#ffffd1"/><stop offset="0.3209" stop-color="#ffffd2"/><stop offset="0.3256" stop-color="#ffffbb"/><stop offset="0.3302" stop-color="#ffff8d"/><stop offset="0.3395" stop-color="#fffe02"/><stop offset="0.3721" stop-color="#f90000"/><stop offset="0.3814" stop-color="#9c0000"/><stop offset="0.3860" stop-color="#7f0000"/><stop offset="0.3907" stop-color="#700000"/><stop offset="0.3953" stop-color="#720000"/><stop offset="0.4000" stop-color="#840000"/><stop offset="0.4093" stop-color="#d00000"/><stop offset="0.4140" stop-color="#ff0300"/><stop offset="0.4326" stop-color="#ff9000"/><stop offset="0.4465" stop-color="#ffde00"/><stop offset="0.4558" stop-color="#ffff01"/><stop offset="0.4651" stop-color="#ffff2e"/><stop offset="0.4744" stop-color="#ffff35"/><stop offset="0.4930" stop-color="#ffff01"/><stop offset="0.5256" stop-color="#ffef00"/><stop offset="0.6558" stop-color="#ffe000"/><stop offset="0.6977" stop-color="#ffb400"/><stop offset="0.7442" stop-color="#ffda00"/><stop offset="0.7767" stop-color="#ffcd00"/><stop offset="0.8047" stop-color="#ffb100"/><stop offset="0.8512" stop-color="#ffd700"/><stop offset="1.0000" stop-color="#ffd900"/></linearGradient><linearGradient id="gd47" x1="0" x2="1" y1="0" y2="0"><stop offset="0.0000" stop-color="#ffd900"/><stop offset="0.1163" stop-color="#ffd100"/><stop offset="0.1674" stop-color="#ffe600"/><stop offset="0.1814" stop-color="#fffc00"/><stop offset="0.2047" stop-color="#ffff70"/><stop offset="0.2140" stop-color="#ffff7b"/><stop offset="0.2233" stop-color="#ffff63"/><stop offset="0.2419" stop-color="#ffff00"/><stop offset="0.2651" stop-color="#ffe000"/><stop offset="0.2837" stop-color="#ffe900"/><stop offset="0.2930" stop-color="#fffe01"/><stop offset="0.3116" stop-color="#ffffb1"/><stop offset="0.3163" stop-color="#ffffcd"/><stop offset="0.3209" stop-color="#ffffd4"/><stop offset="0.3256" stop-color="#ffffc4"/><stop offset="0.3302" stop-color="#ffff9c"/><stop offset="0.3349" stop-color="#ffff61"/><stop offset="0.3395" stop-color="#ffff16"/><stop offset="0.3442" stop-color="#ffe600"/><stop offset="0.3721" stop-color="#ff0800"/><stop offset="0.3814" stop-color="#ab0000"/><stop offset="0.3860" stop-color="#8a0000"/><stop offset="0.3907" stop-color="#770000"/><stop offset="0.3953" stop-color="#750000"/><stop offset="0.4000" stop-color="#820000"/><stop offset="0.4047" stop-color="#9e0000"/><stop offset="0.4140" stop-color="#f90000"/><stop offset="0.4372" stop-color="#ffa700"/><stop offset="0.4512" stop-color="#ffec00"/><stop offset="0.4558" stop-color="#fffc00"/><stop offset="0.4651" stop-color="#ffff2b"/><stop offset="0.4744" stop-color="#ffff37"/><stop offset="0.4977" stop-color="#fffb00"/><stop offset="0.5395" stop-color="#ffef00"/><stop offset="0.6558" stop-color="#ffe000"/><stop offset="0.6977" stop-color="#ffb400"/><stop offset="0.7442" stop-color="#ffda00"/><stop offset="0.7767" stop-color="#ffcd00"/><stop offset="0.8047" stop-color="#ffb100"/><stop offset="0.8512" stop-color="#ffd700"/><stop offset="1.0000" stop-color="#ffd900"/></linearGradient><linearGradient id="gd48" x1="0" x2="1" y1="0" y2="0"><stop offset="0.0000" stop-color="#ffd900"/><stop offset="0.1163" stop-color="#ffd100"/><stop offset="0.1674" stop-color="#ffe600"/><stop offset="0.1814" stop-color="#fffc00"/><stop offset="0.2047" stop-color="#ffff70"/><stop offset="0.2140" stop-color="#ffff7b"/><stop offset="0.2233" stop-color="#ffff63"/><stop offset="0.2419" stop-color="#ffff00"/><stop offset="0.2651" stop-color="#ffe000"/><stop offset="0.2837" stop-color="#ffe700"/><stop offset="0.2930" stop-color="#fffa00"/><stop offset="0.2977" stop-color="#ffff1c"/><stop offset="0.3116" stop-color="#ffffa7"/><stop offset="0.3163" stop-color="#ffffc7"/><stop offset="0.3209" stop-color="#ffffd5"/><stop offset="0.3256" stop-color="#ffffcb"/><stop offset="0.3302" stop-color="#ffffaa"/><stop offset="0.3349" stop-color="#ffff74"/><stop offset="0.3395" stop-color="#ffff2d"/><stop offset="0.3442" stop-color="#fff100"/><stop offset="0.3721" stop-color="#ff1600"/><stop offset="0.3767" stop-color="#ec0000"/><stop offset="0.3860" stop-color="#9a0000"/><stop offset="0.3907" stop-color="#840000"/><stop offset="0.3953" stop-color="#7d0000"/><stop offset="0.4000" stop-color="#860000"/><stop offset="0.4047" stop-color="#9e0000"/><stop offset="0.4140" stop-color="#f20000"/><stop offset="0.4186" stop-color="#ff1a00"/><stop offset="0.4372" stop-color="#ffa000"/><stop offset="0.4512" stop-color="#ffe800"/><stop offset="0.4558" stop-color="#fff800"/><stop offset="0.4698" stop-color="#ffff34"/><stop offset="0.4791" stop-color="#ffff33"/><stop offset="0.4977" stop-color="#fffd00"/><stop offset="0.5349" stop-color="#ffef00"/><stop offset="0.6558" stop-color="#ffe000"/><stop offset="0.6977" stop-color="#ffb400"/><stop offset="0.7442" stop-color="#ffda00"/><stop offset="0.7767" stop-color="#ffcd00"/><stop offset="0.8047" stop-color="#ffb100"/><stop offset="0.8512" stop-color="#ffd700"/><stop offset="1.0000" stop-color="#ffd900"/></linearGradient><linearGradient id="gd49" x1="0" x2="1" y1="0" y2="0"><stop offset="0.0000" stop-color="#ffd900"/><stop offset="0.1209" stop-color="#ffd200"/><stop offset="0.1674" stop-color="#ffe600"/><stop offset="0.1814" stop-color="#fffc00"/><stop offset="0.2047" stop-color="#ffff70"/><stop offset="0.2140" stop-color="#ffff7b"/><stop offset="0.2233" stop-color="#ffff63"/><stop offset="0.2419" stop-color="#ffff00"/><stop offset="0.2651" stop-color="#ffe000"/><stop offset="0.2837" stop-color="#ffe600"/><stop offset="0.2930" stop-color="#fff800"/><stop offset="0.2977" stop-color="#ffff15"/><stop offset="0.3116" stop-color="#ffffa0"/><stop offset="0.3163" stop-color="#ffffc3"/><stop offset="0.3209" stop-color="#ffffd4"/><stop offset="0.3256" stop-color="#ffffcf"/><stop offset="0.3302" stop-color="#ffffb2"/><stop offset="0.3349" stop-color="#ffff7f"/><stop offset="0.3442" stop-color="#fff700"/><stop offset="0.3767" stop-color="#fd0000"/><stop offset="0.3860" stop-color="#ab0000"/><stop offset="0.3907" stop-color="#940000"/><stop offset="0.3953" stop-color="#8a0000"/><stop offset="0.4000" stop-color="#910000"/><stop offset="0.4047" stop-color="#a60000"/><stop offset="0.4140" stop-color="#f40000"/><stop offset="0.4233" stop-color="#ff3d00"/><stop offset="0.4419" stop-color="#ffb900"/><stop offset="0.4558" stop-color="#fff700"/><stop offset="0.4698" stop-color="#ffff34"/><stop offset="0.4791" stop-color="#ffff34"/><stop offset="0.4977" stop-color="#fffe00"/><stop offset="0.5349" stop-color="#ffef00"/><stop offset="0.6558" stop-color="#ffe000"/><stop offset="0.6977" stop-color="#ffb400"/><stop offset="0.7442" stop-color="#ffda00"/><stop offset="0.7767" stop-color="#ffcd00"/><stop offset="0.8047" stop-color="#ffb100"/><stop offset="0.8512" stop-color="#ffd700"/><stop offset="1.0000" stop-color="#ffd900"/></linearGradient><linearGradient id="gd50" x1="0" x2="1" y1="0" y2="0"><stop offset="0.0000" stop-color="#ffd900"/><stop offset="0.1209" stop-color="#ffd200"/><stop offset="0.1674" stop-color="#ffe600"/><stop offset="0.1814" stop-color="#fffc00"/><stop offset="0.2047" stop-color="#ffff70"/><stop offset="0.2140" stop-color="#ffff7b"/><stop offset="0.2233" stop-color="#ffff63"/><stop offset="0.2419" stop-color="#ffff00"/><stop offset="0.2651" stop-color="#ffe000"/><stop offset="0.2837" stop-color="#ffe600"/><stop offset="0.2930" stop-color="#fff800"/><stop offset="0.2977" stop-color="#ffff15"/><stop offset="0.3116" stop-color="#ffffa0"/><stop offset="0.3163" stop-color="#ffffc3"/><stop offset="0.3209" stop-color="#ffffd5"/><stop offset="0.3256" stop-color="#ffffcf"/><stop offset="0.3302" stop-color="#ffffb3"/><stop offset="0.3349" stop-color="#ffff80"/><stop offset="0.3442" stop-color="#fff800"/><stop offset="0.3767" stop-color="#ff0700"/><stop offset="0.3860" stop-color="#ba0000"/><stop offset="0.3907" stop-color="#a30000"/><stop offset="0.3953" stop-color="#9a0000"/><stop offset="0.4000" stop-color="#a00000"/><stop offset="0.4047" stop-color="#b50000"/><stop offset="0.4140" stop-color="#fe0200"/><stop offset="0.4372" stop-color="#ffa100"/><stop offset="0.4512" stop-color="#ffe700"/><stop offset="0.4558" stop-color="#fff700"/><stop offset="0.4698" stop-color="#ffff34"/><stop offset="0.4791" stop-color="#ffff34"/><stop offset="0.4977" stop-color="#fffe00"/><stop offset="0.5349" stop-color="#ffef00"/><stop offset="0.6558" stop-color="#ffe000"/><stop offset="0.6977" stop-color="#ffb400"/><stop offset="0.7442" stop-color="#ffda00"/><stop offset="0.7767" stop-color="#ffcd00"/><stop offset="0.8047" stop-color="#ffb100"/><stop offset="0.8512" stop-color="#ffd700"/><stop offset="1.0000" stop-color="#ffd900"/></linearGradient><linearGradient id="gd51" x1="0" x2="1" y1="0" y2="0"><stop offset="0.0000" stop-color="#ffd900"/><stop offset="0.1256" stop-color="#ffd400"/><stop offset="0.1674" stop-color="#ffe600"/><stop offset="0.1814" stop-color="#fffc00"/><stop offset="0.2047" stop-color="#ffff70"/><stop offset="0.2140" stop-color="#ffff7b"/><stop offset="0.2233" stop-color="#ffff63"/><stop offset="0.2419" stop-color="#ffff00"/><stop offset="0.2651" stop-color="#ffe000"/><stop offset="0.2837" stop-color="#ffe600"/><stop offset="0.2930" stop-color="#fff800"/><stop offset="0.2977" stop-color="#ffff15"/><stop offset="0.3116" stop-color="#ffffa1"/><stop offset="0.3163" stop-color="#ffffc4"/><stop offset="0.3209" stop-color="#ffffd5"/><stop offset="0.3256" stop-color="#ffffd0"/><stop offset="0.3302" stop-color="#ffffb3"/><stop offset="0.3349" stop-color="#ffff82"/><stop offset="0.3442" stop-color="#fffa00"/><stop offset="0.3767" stop-color="#ff0f00"/><stop offset="0.3814" stop-color="#ec0000"/><stop offset="0.3907" stop-color="#b40000"/><stop offset="0.3953" stop-color="#ab0000"/><stop offset="0.4000" stop-color="#b10000"/><stop offset="0.4047" stop-color="#c50000"/><stop offset="0.4140" stop-color="#ff0a00"/><stop offset="0.4419" stop-color="#ffbd00"/><stop offset="0.4558" stop-color="#fff800"/><stop offset="0.4698" stop-color="#ffff34"/><stop offset="0.4791" stop-color="#ffff35"/><stop offset="0.4977" stop-color="#fffe00"/><stop offset="0.5349" stop-color="#ffef00"/><stop offset="0.6558" stop-color="#ffe000"/><stop offset="0.6977" stop-color="#ffb400"/><stop offset="0.7442" stop-color="#ffda00"/><stop offset="0.7767" stop-color="#ffcd00"/><stop offset="0.8047" stop-color="#ffb100"/><stop offset="0.8512" stop-color="#ffd700"/><stop offset="1.0000" stop-color="#ffd900"/></linearGradient><linearGradient id="gd52" x1="0" x2="1" y1="0" y2="0"><stop offset="0.0000" stop-color="#ffd900"/><stop offset="0.1256" stop-color="#ffd400"/><stop offset="0.1674" stop-color="#ffe600"/><stop offset="0.1814" stop-color="#fffc00"/><stop offset="0.2047" stop-color="#ffff70"/><stop offset="0.2140" stop-color="#ffff7b"/><stop offset="0.2233" stop-color="#ffff63"/><stop offset="0.2419" stop-color="#ffff00"/><stop offset="0.2651" stop-color="#ffe000"/><stop offset="0.2837" stop-color="#ffe600"/><stop offset="0.2930" stop-color="#fff800"/><stop offset="0.2977" stop-color="#ffff15"/><stop offset="0.3116" stop-color="#ffffa1"/><stop offset="0.3163" stop-color="#ffffc4"/><stop offset="0.3209" stop-color="#ffffd5"/><stop offset="0.3256" stop-color="#ffffd1"/><stop offset="0.3302" stop-color="#ffffb4"/><stop offset="0.3349" stop-color="#ffff83"/><stop offset="0.3442" stop-color="#fffb00"/><stop offset="0.3767" stop-color="#ff1700"/><stop offset="0.3814" stop-color="#fa0000"/><stop offset="0.3907" stop-color="#c40000"/><stop offset="0.3953" stop-color="#bc0000"/><stop offset="0.4000" stop-color="#c20000"/><stop offset="0.4093" stop-color="#f40000"/><stop offset="0.4186" stop-color="#ff3000"/><stop offset="0.4419" stop-color="#ffc000"/><stop offset="0.4558" stop-color="#fff900"/><stop offset="0.4698" stop-color="#ffff35"/><stop offset="0.4791" stop-color="#ffff35"/><stop offset="0.4977" stop-color="#fffe00"/><stop offset="0.5349" stop-color="#ffef00"/><stop offset="0.6558" stop-color="#ffe000"/><stop offset="0.6977" stop-color="#ffb400"/><stop offset="0.7442" stop-color="#ffda00"/><stop offset="0.7767" stop-color="#ffcd00"/><stop offset="0.8047" stop-color="#ffb100"/><stop offset="0.8512" stop-color="#ffd700"/><stop offset="1.0000" stop-color="#ffd900"/></linearGradient><linearGradient id="gd53" x1="0" x2="1" y1="0" y2="0"><stop offset="0.0000" stop-color="#ffd900"/><stop offset="0.1256" stop-color="#ffd400"/><stop offset="0.1674" stop-color="#ffe600"/><stop offset="0.1814" stop-color="#fffc00"/><stop offset="0.2047" stop-color="#ffff70"/><stop offset="0.2140" stop-color="#ffff7b"/><stop offset="0.2233" stop-color="#ffff63"/><stop offset="0.2419" stop-color="#ffff00"/><stop offset="0.2651" stop-color="#ffe000"/><stop offset="0.2837" stop-color="#ffe600"/><stop offset="0.2930" stop-color="#fff800"/><stop offset="0.2977" stop-color="#ffff15"/><stop offset="0.3116" stop-color="#ffffa1"/><stop offset="0.3163" stop-color="#ffffc4"/><stop offset="0.3209" stop-color="#ffffd6"/><stop offset="0.3256" stop-color="#ffffd1"/><stop offset="0.3302" stop-color="#ffffb5"/><stop offset="0.3349" stop-color="#ffff85"/><stop offset="0.3442" stop-color="#fffc00"/><stop offset="0.3767" stop-color="#ff1f00"/><stop offset="0.3814" stop-color="#ff0500"/><stop offset="0.3907" stop-color="#d40000"/><stop offset="0.3953" stop-color="#cc0000"/><stop offset="0.4000" stop-color="#d20000"/><stop offset="0.4093" stop-color="#fe0200"/><stop offset="0.4419" stop-color="#ffc200"/><stop offset="0.4558" stop-color="#fff900"/><stop offset="0.4698" stop-color="#ffff35"/><stop offset="0.4791" stop-color="#ffff35"/><stop offset="0.4977" stop-color="#fffe00"/><stop offset="0.5349" stop-color="#ffef00"/><stop offset="0.6558" stop-color="#ffe000"/><stop offset="0.6977" stop-color="#ffb400"/><stop offset="0.7442" stop-color="#ffda00"/><stop offset="0.7767" stop-color="#ffcd00"/><stop offset="0.8047" stop-color="#ffb100"/><stop offset="0.8512" stop-color="#ffd700"/><stop offset="1.0000" stop-color="#ffd900"/></linearGradient><linearGradient id="gd54" x1="0" x2="1" y1="0" y2="0"><stop offset="0.0000" stop-color="#ffd900"/><stop offset="0.1256" stop-color="#ffd400"/><stop offset="0.1674" stop-color="#ffe600"/><stop offset="0.1814" stop-color="#fffc00"/><stop offset="0.2047" stop-color="#ffff70"/><stop offset="0.2140" stop-color="#ffff7b"/><stop offset="0.2233" stop-color="#ffff63"/><stop offset="0.2419" stop-color="#ffff00"/><stop offset="0.2651" stop-color="#ffe000"/><stop offset="0.2837" stop-color="#ffe600"/><stop offset="0.2930" stop-color="#fff800"/><stop offset="0.2977" stop-color="#ffff15"/><stop offset="0.3116" stop-color="#ffffa1"/><stop offset="0.3163" stop-color="#ffffc4"/><stop offset="0.3209" stop-color="#ffffd6"/><stop offset="0.3256" stop-color="#ffffd2"/><stop offset="0.3302" stop-color="#ffffb6"/><stop offset="0.3349" stop-color="#ffff86"/><stop offset="0.3442" stop-color="#fffd00"/><stop offset="0.3767" stop-color="#ff2600"/><stop offset="0.3860" stop-color="#f50000"/><stop offset="0.3907" stop-color="#e10000"/><stop offset="0.3953" stop-color="#da0000"/><stop offset="0.4000" stop-color="#df0000"/><stop offset="0.4093" stop-color="#ff0900"/><stop offset="0.4419" stop-color="#ffc300"/><stop offset="0.4558" stop-color="#fffa00"/><stop offset="0.4698" stop-color="#ffff35"/><stop offset="0.4791" stop-color="#ffff35"/><stop offset="0.4977" stop-color="#fffe00"/><stop offset="0.5349" stop-color="#ffef00"/><stop offset="0.6558" stop-color="#ffe000"/><stop offset="0.6977" stop-color="#ffb400"/><stop offset="0.7442" stop-color="#ffda00"/><stop offset="0.7767" stop-color="#ffcd00"/><stop offset="0.8047" stop-color="#ffb100"/><stop offset="0.8512" stop-color="#ffd700"/><stop offset="1.0000" stop-color="#ffd900"/></linearGradient><linearGradient id="gd55" x1="0" x2="1" y1="0" y2="0"><stop offset="0.0000" stop-color="#ffd900"/><stop offset="0.1302" stop-color="#ffd500"/><stop offset="0.1674" stop-color="#ffe600"/><stop offset="0.1814" stop-color="#fffc00"/><stop offset="0.2047" stop-color="#ffff70"/><stop offset="0.2140" stop-color="#ffff7b"/><stop offset="0.2233" stop-color="#ffff63"/><stop offset="0.2419" stop-color="#ffff00"/><stop offset="0.2651" stop-color="#ffe000"/><stop offset="0.2837" stop-color="#ffe600"/><stop offset="0.2930" stop-color="#fff800"/><stop offset="0.2977" stop-color="#ffff15"/><stop offset="0.3116" stop-color="#ffffa1"/><stop offset="0.3163" stop-color="#ffffc4"/><stop offset="0.3209" stop-color="#ffffd6"/><stop offset="0.3256" stop-color="#ffffd2"/><stop offset="0.3302" stop-color="#ffffb7"/><stop offset="0.3349" stop-color="#ffff87"/><stop offset="0.3442" stop-color="#fffe00"/><stop offset="0.3767" stop-color="#ff2b00"/><stop offset="0.3860" stop-color="#fe0100"/><stop offset="0.3953" stop-color="#e60000"/><stop offset="0.4047" stop-color="#fc0000"/><stop offset="0.4186" stop-color="#ff4100"/><stop offset="0.4419" stop-color="#ffc500"/><stop offset="0.4558" stop-color="#fffa00"/><stop offset="0.4698" stop-color="#ffff36"/><stop offset="0.4791" stop-color="#ffff35"/><stop offset="0.4977" stop-color="#fffe00"/><stop offset="0.5349" stop-color="#ffef00"/><stop offset="0.6558" stop-color="#ffe000"/><stop offset="0.6977" stop-color="#ffb400"/><stop offset="0.7442" stop-color="#ffda00"/><stop offset="0.7767" stop-color="#ffcd00"/><stop offset="0.8047" stop-color="#ffb000"/><stop offset="0.8512" stop-color="#ffd700"/><stop offset="1.0000" stop-color="#ffd900"/></linearGradient><linearGradient id="gd56" x1="0" x2="1" y1="0" y2="0"><stop offset="0.0000" stop-color="#ffd900"/><stop offset="0.1302" stop-color="#ffd500"/><stop offset="0.1674" stop-color="#ffe600"/><stop offset="0.1814" stop-color="#fffc00"/><stop offset="0.2047" stop-color="#ffff70"/><stop offset="0.2140" stop-color="#ffff7b"/><stop offset="0.2233" stop-color="#ffff63"/><stop offset="0.2419" stop-color="#ffff00"/><stop offset="0.2651" stop-color="#ffe000"/><stop offset="0.2837" stop-color="#ffe600"/><stop offset="0.2930" stop-color="#fff800"/><stop offset="0.2977" stop-color="#ffff15"/><stop offset="0.3116" stop-color="#ffffa1"/><stop offset="0.3163" stop-color="#ffffc4"/><stop offset="0.3209" stop-color="#ffffd6"/><stop offset="0.3256" stop-color="#ffffd2"/><stop offset="0.3302" stop-color="#ffffb7"/><stop offset="0.3349" stop-color="#ffff88"/><stop offset="0.3442" stop-color="#ffff00"/><stop offset="0.3767" stop-color="#ff3000"/><stop offset="0.3860" stop-color="#ff0600"/><stop offset="0.3953" stop-color="#ef0000"/><stop offset="0.4047" stop-color="#ff0400"/><stop offset="0.4186" stop-color="#ff4600"/><stop offset="0.4419" stop-color="#ffc600"/><stop offset="0.4558" stop-color="#fffb00"/><stop offset="0.4698" stop-color="#ffff36"/><stop offset="0.4791" stop-color="#ffff35"/><stop offset="0.4977" stop-color="#fffe00"/><stop offset="0.5349" stop-color="#ffef00"/><stop offset="0.6558" stop-color="#ffe000"/><stop offset="0.6977" stop-color="#ffb400"/><stop offset="0.7442" stop-color="#ffda00"/><stop offset="0.7767" stop-color="#ffcb00"/><stop offset="0.8000" stop-color="#ffaa00"/><stop offset="0.8186" stop-color="#ffb800"/><stop offset="0.8465" stop-color="#ffd600"/><stop offset="1.0000" stop-color="#ffd900"/></linearGradient><linearGradient id="gd57" x1="0" x2="1" y1="0" y2="0"><stop offset="0.0000" stop-color="#ffd900"/><stop offset="0.1302" stop-color="#ffd500"/><stop offset="0.1674" stop-color="#ffe600"/><stop offset="0.1814" stop-color="#fffc00"/><stop offset="0.2047" stop-color="#ffff70"/><stop offset="0.2140" stop-color="#ffff7b"/><stop offset="0.2233" stop-color="#ffff63"/><stop offset="0.2419" stop-color="#ffff00"/><stop offset="0.2651" stop-color="#ffe000"/><stop offset="0.2837" stop-color="#ffe600"/><stop offset="0.2930" stop-color="#fff800"/><stop offset="0.2977" stop-color="#ffff15"/><stop offset="0.3116" stop-color="#ffffa1"/><stop offset="0.3163" stop-color="#ffffc5"/><stop offset="0.3209" stop-color="#ffffd7"/><stop offset="0.3256" stop-color="#ffffd3"/><stop offset="0.3302" stop-color="#ffffb8"/><stop offset="0.3349" stop-color="#ffff88"/><stop offset="0.3442" stop-color="#ffff01"/><stop offset="0.3767" stop-color="#ff3300"/><stop offset="0.3860" stop-color="#ff0a00"/><stop offset="0.3953" stop-color="#f60000"/><stop offset="0.4047" stop-color="#ff0800"/><stop offset="0.4186" stop-color="#ff4900"/><stop offset="0.4419" stop-color="#ffc700"/><stop offset="0.4558" stop-color="#fffb00"/><stop offset="0.4698" stop-color="#ffff36"/><stop offset="0.4791" stop-color="#ffff35"/><stop offset="0.4977" stop-color="#fffe00"/><stop offset="0.5349" stop-color="#ffef00"/><stop offset="0.6558" stop-color="#ffe000"/><stop offset="0.6977" stop-color="#ffb400"/><stop offset="0.7442" stop-color="#ffda00"/><stop offset="0.7721" stop-color="#ffce00"/><stop offset="0.8000" stop-color="#ff9d00"/><stop offset="0.8186" stop-color="#ffb400"/><stop offset="0.8419" stop-color="#ffd400"/><stop offset="1.0000" stop-color="#ffd900"/></linearGradient><linearGradient id="gd58" x1="0" x2="1" y1="0" y2="0"><stop offset="0.0000" stop-color="#ffd900"/><stop offset="0.1302" stop-color="#ffd500"/><stop offset="0.1674" stop-color="#ffe600"/><stop offset="0.1814" stop-color="#fffc00"/><stop offset="0.2047" stop-color="#ffff70"/><stop offset="0.2140" stop-color="#ffff7b"/><stop offset="0.2233" stop-color="#ffff63"/><stop offset="0.2419" stop-color="#ffff00"/><stop offset="0.2651" stop-color="#ffe000"/><stop offset="0.2837" stop-color="#ffe600"/><stop offset="0.2930" stop-color="#fff800"/><stop offset="0.2977" stop-color="#ffff15"/><stop offset="0.3116" stop-color="#ffffa1"/><stop offset="0.3163" stop-color="#ffffc5"/><stop offset="0.3209" stop-color="#ffffd7"/><stop offset="0.3256" stop-color="#ffffd3"/><stop offset="0.3302" stop-color="#ffffb8"/><stop offset="0.3349" stop-color="#ffff89"/><stop offset="0.3442" stop-color="#ffff03"/><stop offset="0.3767" stop-color="#ff3600"/><stop offset="0.3907" stop-color="#ff0200"/><stop offset="0.4000" stop-color="#ff0100"/><stop offset="0.4140" stop-color="#ff3200"/><stop offset="0.4419" stop-color="#ffc800"/><stop offset="0.4558" stop-color="#fffb00"/><stop offset="0.4698" stop-color="#ffff36"/><stop offset="0.4791" stop-color="#ffff35"/><stop offset="0.4977" stop-color="#fffe00"/><stop offset="0.5349" stop-color="#ffef00"/><stop offset="0.6558" stop-color="#ffe000"/><stop offset="0.6977" stop-color="#ffb400"/><stop offset="0.7442" stop-color="#ffda00"/><stop offset="0.7721" stop-color="#ffce00"/><stop offset="0.8000" stop-color="#ff9d00"/><stop offset="0.8186" stop-color="#ffb400"/><stop offset="0.8419" stop-color="#ffd400"/><stop offset="1.0000" stop-color="#ffd900"/></linearGradient><linearGradient id="gd59" x1="0" x2="1" y1="0" y2="0"><stop offset="0.0000" stop-color="#ffd900"/><stop offset="0.1302" stop-color="#ffd500"/><stop offset="0.1674" stop-color="#ffe600"/><stop offset="0.1814" stop-color="#fffc00"/><stop offset="0.2047" stop-color="#ffff70"/><stop offset="0.2140" stop-color="#ffff7b"/><stop offset="0.2233" stop-color="#ffff63"/><stop offset="0.2419" stop-color="#ffff00"/><stop offset="0.2651" stop-color="#ffe000"/><stop offset="0.2837" stop-color="#ffe600"/><stop offset="0.2930" stop-color="#fff800"/><stop offset="0.2977" stop-color="#ffff15"/><stop offset="0.3116" stop-color="#ffffa1"/><stop offset="0.3163" stop-color="#ffffc5"/><stop offset="0.3209" stop-color="#ffffd7"/><stop offset="0.3256" stop-color="#ffffd3"/><stop offset="0.3302" stop-color="#ffffb8"/><stop offset="0.3349" stop-color="#ffff89"/><stop offset="0.3442" stop-color="#ffff03"/><stop offset="0.3767" stop-color="#ff3800"/><stop offset="0.3907" stop-color="#ff0500"/><stop offset="0.4000" stop-color="#ff0400"/><stop offset="0.4140" stop-color="#ff3400"/><stop offset="0.4419" stop-color="#ffc800"/><stop offset="0.4558" stop-color="#fffb00"/><stop offset="0.4698" stop-color="#ffff36"/><stop offset="0.4791" stop-color="#ffff35"/><stop offset="0.4977" stop-color="#fffe00"/><stop offset="0.5349" stop-color="#ffef00"/><stop offset="0.6558" stop-color="#ffe000"/><stop offset="0.6977" stop-color="#ffb400"/><stop offset="0.7442" stop-color="#ffda00"/><stop offset="0.7767" stop-color="#ffcb00"/><stop offset="0.8000" stop-color="#ffaa00"/><stop offset="0.8186" stop-color="#ffb800"/><stop offset="0.8465" stop-color="#ffd600"/><stop offset="1.0000" stop-color="#ffd900"/></linearGradient><linearGradient id="gd60" x1="0" x2="1" y1="0" y2="0"><stop offset="0.0000" stop-color="#ffd900"/><stop offset="0.1302" stop-color="#ffd500"/><stop offset="0.1674" stop-color="#ffe600"/><stop offset="0.1814" stop-color="#fffc00"/><stop offset="0.2047" stop-color="#ffff70"/><stop offset="0.2140" stop-color="#ffff7b"/><stop offset="0.2233" stop-color="#ffff63"/><stop offset="0.2419" stop-color="#ffff00"/><stop offset="0.2651" stop-color="#ffe000"/><stop offset="0.2837" stop-color="#ffe600"/><stop offset="0.2930" stop-color="#fff800"/><stop offset="0.2977" stop-color="#ffff15"/><stop offset="0.3116" stop-color="#ffffa1"/><stop offset="0.3163" stop-color="#ffffc5"/><stop offset="0.3209" stop-color="#ffffd7"/><stop offset="0.3256" stop-color="#ffffd3"/><stop offset="0.3302" stop-color="#ffffb8"/><stop offset="0.3349" stop-color="#ffff8a"/><stop offset="0.3442" stop-color="#ffff04"/><stop offset="0.3767" stop-color="#ff3900"/><stop offset="0.3907" stop-color="#ff0600"/><stop offset="0.4000" stop-color="#ff0500"/><stop offset="0.4140" stop-color="#ff3500"/><stop offset="0.4419" stop-color="#ffc800"/><stop offset="0.4558" stop-color="#fffb00"/><stop offset="0.4698" stop-color="#ffff36"/><stop offset="0.4791" stop-color="#ffff35"/><stop offset="0.4977" stop-color="#fffe00"/><stop offset="0.5349" stop-color="#ffef00"/><stop offset="0.6558" stop-color="#ffe000"/><stop offset="0.6977" stop-color="#ffb400"/><stop offset="0.7442" stop-color="#ffda00"/><stop offset="0.7767" stop-color="#ffcc00"/><stop offset="0.8047" stop-color="#ffaf00"/><stop offset="0.8512" stop-color="#ffd700"/><stop offset="1.0000" stop-color="#ffd900"/></linearGradient></defs><g clip-path="url(#clipc)"><g filter="url(#hb)"><rect x="38" y="248" width="216" height="3.5" fill="url(#gc0)"/><rect x="38" y="251" width="216" height="3.5" fill="url(#gc1)"/><rect x="38" y="254" width="216" height="3.5" fill="url(#gc2)"/><rect x="38" y="257" width="216" height="3.5" fill="url(#gc3)"/><rect x="38" y="260" width="216" height="3.5" fill="url(#gc4)"/><rect x="38" y="263" width="216" height="3.5" fill="url(#gc5)"/><rect x="38" y="266" width="216" height="3.5" fill="url(#gc6)"/><rect x="38" y="269" width="216" height="3.5" fill="url(#gc7)"/><rect x="38" y="272" width="216" height="3.5" fill="url(#gc8)"/><rect x="38" y="275" width="216" height="3.5" fill="url(#gc9)"/><rect x="38" y="278" width="216" height="3.5" fill="url(#gc10)"/><rect x="38" y="281" width="216" height="3.5" fill="url(#gc11)"/><rect x="38" y="284" width="216" height="3.5" fill="url(#gc12)"/><rect x="38" y="287" width="216" height="3.5" fill="url(#gc13)"/><rect x="38" y="290" width="216" height="3.5" fill="url(#gc14)"/><rect x="38" y="293" width="216" height="3.5" fill="url(#gc15)"/><rect x="38" y="296" width="216" height="3.5" fill="url(#gc16)"/><rect x="38" y="299" width="216" height="3.5" fill="url(#gc17)"/><rect x="38" y="302" width="216" height="3.5" fill="url(#gc18)"/><rect x="38" y="305" width="216" height="3.5" fill="url(#gc19)"/><rect x="38" y="308" width="216" height="3.5" fill="url(#gc20)"/><rect x="38" y="311" width="216" height="3.5" fill="url(#gc21)"/><rect x="38" y="314" width="216" height="3.5" fill="url(#gc22)"/><rect x="38" y="317" width="216" height="3.5" fill="url(#gc23)"/><rect x="38" y="320" width="216" height="3.5" fill="url(#gc24)"/><rect x="38" y="323" width="216" height="3.5" fill="url(#gc25)"/><rect x="38" y="326" width="216" height="3.5" fill="url(#gc26)"/><rect x="38" y="329" width="216" height="3.5" fill="url(#gc27)"/><rect x="38" y="332" width="216" height="3.5" fill="url(#gc28)"/><rect x="38" y="335" width="216" height="3.5" fill="url(#gc29)"/><rect x="38" y="338" width="216" height="3.5" fill="url(#gc30)"/><rect x="38" y="341" width="216" height="3.5" fill="url(#gc31)"/><rect x="38" y="344" width="216" height="3.5" fill="url(#gc32)"/><rect x="38" y="347" width="216" height="3.5" fill="url(#gc33)"/><rect x="38" y="350" width="216" height="3.5" fill="url(#gc34)"/><rect x="38" y="353" width="216" height="3.5" fill="url(#gc35)"/><rect x="38" y="356" width="216" height="3.5" fill="url(#gc36)"/><rect x="38" y="359" width="216" height="3.5" fill="url(#gc37)"/><rect x="38" y="362" width="216" height="3.5" fill="url(#gc38)"/><rect x="38" y="365" width="216" height="3.5" fill="url(#gc39)"/><rect x="38" y="368" width="216" height="3.5" fill="url(#gc40)"/><rect x="38" y="371" width="216" height="3.5" fill="url(#gc41)"/><rect x="38" y="374" width="216" height="3.5" fill="url(#gc42)"/><rect x="38" y="377" width="216" height="3.5" fill="url(#gc43)"/><rect x="38" y="380" width="216" height="3.5" fill="url(#gc44)"/><rect x="38" y="383" width="216" height="3.5" fill="url(#gc45)"/><rect x="38" y="386" width="216" height="3.5" fill="url(#gc46)"/><rect x="38" y="389" width="216" height="3.5" fill="url(#gc47)"/><rect x="38" y="392" width="216" height="3.5" fill="url(#gc48)"/><rect x="38" y="395" width="216" height="3.5" fill="url(#gc49)"/><rect x="38" y="398" width="216" height="3.5" fill="url(#gc50)"/><rect x="38" y="401" width="216" height="3.5" fill="url(#gc51)"/><rect x="38" y="404" width="216" height="3.5" fill="url(#gc52)"/><rect x="38" y="407" width="216" height="3.5" fill="url(#gc53)"/><rect x="38" y="410" width="216" height="3.5" fill="url(#gc54)"/><rect x="38" y="413" width="216" height="3.5" fill="url(#gc55)"/><rect x="38" y="416" width="216" height="3.5" fill="url(#gc56)"/><rect x="38" y="419" width="216" height="3.5" fill="url(#gc57)"/><rect x="38" y="422" width="216" height="3.5" fill="url(#gc58)"/><rect x="38" y="425" width="216" height="3.5" fill="url(#gc59)"/><rect x="38" y="428" width="216" height="1.5" fill="url(#gc60)"/></g></g>
<defs><linearGradient id="stc" x1="0" x2="1" y1="0" y2="0"><stop offset="0.0000" stop-color="#8e8e8e"/><stop offset="0.0073" stop-color="#9f9f9f"/><stop offset="0.0146" stop-color="#999999"/><stop offset="0.0219" stop-color="#828282"/><stop offset="0.0292" stop-color="#717171"/><stop offset="0.0365" stop-color="#7b7b7b"/><stop offset="0.0438" stop-color="#818181"/><stop offset="0.0511" stop-color="#8c8c8c"/><stop offset="0.0584" stop-color="#767676"/><stop offset="0.0657" stop-color="#7e7e7e"/><stop offset="0.0730" stop-color="#818181"/><stop offset="0.0803" stop-color="#959595"/><stop offset="0.0876" stop-color="#868686"/><stop offset="0.0949" stop-color="#818181"/><stop offset="0.1022" stop-color="#7e7e7e"/><stop offset="0.1095" stop-color="#8a8a8a"/><stop offset="0.1168" stop-color="#8d8d8d"/><stop offset="0.1241" stop-color="#848484"/><stop offset="0.1314" stop-color="#828282"/><stop offset="0.1387" stop-color="#7e7e7e"/><stop offset="0.1460" stop-color="#6b6b6b"/><stop offset="0.1533" stop-color="#666666"/><stop offset="0.1606" stop-color="#6f6f6f"/><stop offset="0.1679" stop-color="#676767"/><stop offset="0.1752" stop-color="#565656"/><stop offset="0.1825" stop-color="#5c5c5c"/><stop offset="0.1898" stop-color="#656565"/><stop offset="0.1971" stop-color="#5b5b5b"/><stop offset="0.2044" stop-color="#5f5f5f"/><stop offset="0.2117" stop-color="#7a7a7a"/><stop offset="0.2190" stop-color="#8a8a8a"/><stop offset="0.2263" stop-color="#7e7e7e"/><stop offset="0.2336" stop-color="#777777"/><stop offset="0.2409" stop-color="#848484"/><stop offset="0.2482" stop-color="#8a8a8a"/><stop offset="0.2555" stop-color="#888888"/><stop offset="0.2628" stop-color="#8e8e8e"/><stop offset="0.2701" stop-color="#919191"/><stop offset="0.2774" stop-color="#7f7f7f"/><stop offset="0.2847" stop-color="#767676"/><stop offset="0.2920" stop-color="#7e7e7e"/><stop offset="0.2993" stop-color="#929292"/><stop offset="0.3066" stop-color="#848484"/><stop offset="0.3139" stop-color="#727272"/><stop offset="0.3212" stop-color="#616161"/><stop offset="0.3285" stop-color="#5c5c5c"/><stop offset="0.3358" stop-color="#616161"/><stop offset="0.3431" stop-color="#757575"/><stop offset="0.3504" stop-color="#808080"/><stop offset="0.3577" stop-color="#898989"/><stop offset="0.3650" stop-color="#939393"/><stop offset="0.3723" stop-color="#9f9f9f"/><stop offset="0.3796" stop-color="#959595"/><stop offset="0.3869" stop-color="#959595"/><stop offset="0.3942" stop-color="#838383"/><stop offset="0.4015" stop-color="#7d7d7d"/><stop offset="0.4088" stop-color="#808080"/><stop offset="0.4161" stop-color="#7c7c7c"/><stop offset="0.4234" stop-color="#717171"/><stop offset="0.4307" stop-color="#707070"/><stop offset="0.4380" stop-color="#888888"/><stop offset="0.4453" stop-color="#838383"/><stop offset="0.4526" stop-color="#818181"/><stop offset="0.4599" stop-color="#7e7e7e"/><stop offset="0.4672" stop-color="#7b7b7b"/><stop offset="0.4745" stop-color="#7d7d7d"/><stop offset="0.4818" stop-color="#7e7e7e"/><stop offset="0.4891" stop-color="#898989"/><stop offset="0.4964" stop-color="#808080"/><stop offset="0.5036" stop-color="#898989"/><stop offset="0.5109" stop-color="#8f8f8f"/><stop offset="0.5182" stop-color="#919191"/><stop offset="0.5255" stop-color="#8a8a8a"/><stop offset="0.5328" stop-color="#939393"/><stop offset="0.5401" stop-color="#a9a9a9"/><stop offset="0.5474" stop-color="#959595"/><stop offset="0.5547" stop-color="#858585"/><stop offset="0.5620" stop-color="#808080"/><stop offset="0.5693" stop-color="#8e8e8e"/><stop offset="0.5766" stop-color="#797979"/><stop offset="0.5839" stop-color="#7e7e7e"/><stop offset="0.5912" stop-color="#797979"/><stop offset="0.5985" stop-color="#818181"/><stop offset="0.6058" stop-color="#888888"/><stop offset="0.6131" stop-color="#878787"/><stop offset="0.6204" stop-color="#747474"/><stop offset="0.6277" stop-color="#5e5e5e"/><stop offset="0.6350" stop-color="#6d6d6d"/><stop offset="0.6423" stop-color="#858585"/><stop offset="0.6496" stop-color="#ababab"/><stop offset="0.6569" stop-color="#989898"/><stop offset="0.6642" stop-color="#767676"/><stop offset="0.6715" stop-color="#6d6d6d"/><stop offset="0.6788" stop-color="#939393"/><stop offset="0.6861" stop-color="#a0a0a0"/><stop offset="0.6934" stop-color="#8e8e8e"/><stop offset="0.7007" stop-color="#7d7d7d"/><stop offset="0.7080" stop-color="#7c7c7c"/><stop offset="0.7153" stop-color="#808080"/><stop offset="0.7226" stop-color="#757575"/><stop offset="0.7299" stop-color="#777777"/><stop offset="0.7372" stop-color="#808080"/><stop offset="0.7445" stop-color="#878787"/><stop offset="0.7518" stop-color="#7f7f7f"/><stop offset="0.7591" stop-color="#6e6e6e"/><stop offset="0.7664" stop-color="#676767"/><stop offset="0.7737" stop-color="#787878"/><stop offset="0.7810" stop-color="#898989"/><stop offset="0.7883" stop-color="#7b7b7b"/><stop offset="0.7956" stop-color="#787878"/><stop offset="0.8029" stop-color="#888888"/><stop offset="0.8102" stop-color="#aaaaaa"/><stop offset="0.8175" stop-color="#a2a2a2"/><stop offset="0.8248" stop-color="#919191"/><stop offset="0.8321" stop-color="#6b6b6b"/><stop offset="0.8394" stop-color="#757575"/><stop offset="0.8467" stop-color="#9d9d9d"/><stop offset="0.8540" stop-color="#a8a8a8"/><stop offset="0.8613" stop-color="#888888"/><stop offset="0.8686" stop-color="#747474"/><stop offset="0.8759" stop-color="#797979"/><stop offset="0.8832" stop-color="#787878"/><stop offset="0.8905" stop-color="#707070"/><stop offset="0.8978" stop-color="#7a7a7a"/><stop offset="0.9051" stop-color="#8a8a8a"/><stop offset="0.9124" stop-color="#919191"/><stop offset="0.9197" stop-color="#949494"/><stop offset="0.9270" stop-color="#888888"/><stop offset="0.9343" stop-color="#878787"/><stop offset="0.9416" stop-color="#6a6a6a"/><stop offset="0.9489" stop-color="#575757"/><stop offset="0.9562" stop-color="#5e5e5e"/><stop offset="0.9635" stop-color="#767676"/><stop offset="0.9708" stop-color="#868686"/><stop offset="0.9781" stop-color="#878787"/><stop offset="0.9854" stop-color="#9a9a9a"/><stop offset="0.9927" stop-color="#9f9f9f"/><stop offset="1.0000" stop-color="#989898"/></linearGradient></defs><rect x="42.3" y="252.5" width="208" height="171.9" fill="url(#stc)" style="mix-blend-mode:overlay"/>
<g clip-path="url(#clipd)"><g filter="url(#hb)"><rect x="387" y="248" width="216" height="3.5" fill="url(#gd0)"/><rect x="387" y="251" width="216" height="3.5" fill="url(#gd1)"/><rect x="387" y="254" width="216" height="3.5" fill="url(#gd2)"/><rect x="387" y="257" width="216" height="3.5" fill="url(#gd3)"/><rect x="387" y="260" width="216" height="3.5" fill="url(#gd4)"/><rect x="387" y="263" width="216" height="3.5" fill="url(#gd5)"/><rect x="387" y="266" width="216" height="3.5" fill="url(#gd6)"/><rect x="387" y="269" width="216" height="3.5" fill="url(#gd7)"/><rect x="387" y="272" width="216" height="3.5" fill="url(#gd8)"/><rect x="387" y="275" width="216" height="3.5" fill="url(#gd9)"/><rect x="387" y="278" width="216" height="3.5" fill="url(#gd10)"/><rect x="387" y="281" width="216" height="3.5" fill="url(#gd11)"/><rect x="387" y="284" width="216" height="3.5" fill="url(#gd12)"/><rect x="387" y="287" width="216" height="3.5" fill="url(#gd13)"/><rect x="387" y="290" width="216" height="3.5" fill="url(#gd14)"/><rect x="387" y="293" width="216" height="3.5" fill="url(#gd15)"/><rect x="387" y="296" width="216" height="3.5" fill="url(#gd16)"/><rect x="387" y="299" width="216" height="3.5" fill="url(#gd17)"/><rect x="387" y="302" width="216" height="3.5" fill="url(#gd18)"/><rect x="387" y="305" width="216" height="3.5" fill="url(#gd19)"/><rect x="387" y="308" width="216" height="3.5" fill="url(#gd20)"/><rect x="387" y="311" width="216" height="3.5" fill="url(#gd21)"/><rect x="387" y="314" width="216" height="3.5" fill="url(#gd22)"/><rect x="387" y="317" width="216" height="3.5" fill="url(#gd23)"/><rect x="387" y="320" width="216" height="3.5" fill="url(#gd24)"/><rect x="387" y="323" width="216" height="3.5" fill="url(#gd25)"/><rect x="387" y="326" width="216" height="3.5" fill="url(#gd26)"/><rect x="387" y="329" width="216" height="3.5" fill="url(#gd27)"/><rect x="387" y="332" width="216" height="3.5" fill="url(#gd28)"/><rect x="387" y="335" width="216" height="3.5" fill="url(#gd29)"/><rect x="387" y="338" width="216" height="3.5" fill="url(#gd30)"/><rect x="387" y="341" width="216" height="3.5" fill="url(#gd31)"/><rect x="387" y="344" width="216" height="3.5" fill="url(#gd32)"/><rect x="387" y="347" width="216" height="3.5" fill="url(#gd33)"/><rect x="387" y="350" width="216" height="3.5" fill="url(#gd34)"/><rect x="387" y="353" width="216" height="3.5" fill="url(#gd35)"/><rect x="387" y="356" width="216" height="3.5" fill="url(#gd36)"/><rect x="387" y="359" width="216" height="3.5" fill="url(#gd37)"/><rect x="387" y="362" width="216" height="3.5" fill="url(#gd38)"/><rect x="387" y="365" width="216" height="3.5" fill="url(#gd39)"/><rect x="387" y="368" width="216" height="3.5" fill="url(#gd40)"/><rect x="387" y="371" width="216" height="3.5" fill="url(#gd41)"/><rect x="387" y="374" width="216" height="3.5" fill="url(#gd42)"/><rect x="387" y="377" width="216" height="3.5" fill="url(#gd43)"/><rect x="387" y="380" width="216" height="3.5" fill="url(#gd44)"/><rect x="387" y="383" width="216" height="3.5" fill="url(#gd45)"/><rect x="387" y="386" width="216" height="3.5" fill="url(#gd46)"/><rect x="387" y="389" width="216" height="3.5" fill="url(#gd47)"/><rect x="387" y="392" width="216" height="3.5" fill="url(#gd48)"/><rect x="387" y="395" width="216" height="3.5" fill="url(#gd49)"/><rect x="387" y="398" width="216" height="3.5" fill="url(#gd50)"/><rect x="387" y="401" width="216" height="3.5" fill="url(#gd51)"/><rect x="387" y="404" width="216" height="3.5" fill="url(#gd52)"/><rect x="387" y="407" width="216" height="3.5" fill="url(#gd53)"/><rect x="387" y="410" width="216" height="3.5" fill="url(#gd54)"/><rect x="387" y="413" width="216" height="3.5" fill="url(#gd55)"/><rect x="387" y="416" width="216" height="3.5" fill="url(#gd56)"/><rect x="387" y="419" width="216" height="3.5" fill="url(#gd57)"/><rect x="387" y="422" width="216" height="3.5" fill="url(#gd58)"/><rect x="387" y="425" width="216" height="3.5" fill="url(#gd59)"/><rect x="387" y="428" width="216" height="1.5" fill="url(#gd60)"/></g></g>
<defs><linearGradient id="std" x1="0" x2="1" y1="0" y2="0"><stop offset="0.0000" stop-color="#848484"/><stop offset="0.0073" stop-color="#898989"/><stop offset="0.0146" stop-color="#8c8c8c"/><stop offset="0.0219" stop-color="#8f8f8f"/><stop offset="0.0292" stop-color="#878787"/><stop offset="0.0365" stop-color="#7d7d7d"/><stop offset="0.0438" stop-color="#707070"/><stop offset="0.0511" stop-color="#747474"/><stop offset="0.0584" stop-color="#7d7d7d"/><stop offset="0.0657" stop-color="#858585"/><stop offset="0.0730" stop-color="#868686"/><stop offset="0.0803" stop-color="#7a7a7a"/><stop offset="0.0876" stop-color="#777777"/><stop offset="0.0949" stop-color="#747474"/><stop offset="0.1022" stop-color="#838383"/><stop offset="0.1095" stop-color="#8a8a8a"/><stop offset="0.1168" stop-color="#919191"/><stop offset="0.1241" stop-color="#898989"/><stop offset="0.1314" stop-color="#868686"/><stop offset="0.1387" stop-color="#868686"/><stop offset="0.1460" stop-color="#858585"/><stop offset="0.1533" stop-color="#7e7e7e"/><stop offset="0.1606" stop-color="#7a7a7a"/><stop offset="0.1679" stop-color="#7a7a7a"/><stop offset="0.1752" stop-color="#797979"/><stop offset="0.1825" stop-color="#787878"/><stop offset="0.1898" stop-color="#787878"/><stop offset="0.1971" stop-color="#7d7d7d"/><stop offset="0.2044" stop-color="#7a7a7a"/><stop offset="0.2117" stop-color="#7d7d7d"/><stop offset="0.2190" stop-color="#7a7a7a"/><stop offset="0.2263" stop-color="#7d7d7d"/><stop offset="0.2336" stop-color="#737373"/><stop offset="0.2409" stop-color="#747474"/><stop offset="0.2482" stop-color="#777777"/><stop offset="0.2555" stop-color="#7e7e7e"/><stop offset="0.2628" stop-color="#7d7d7d"/><stop offset="0.2701" stop-color="#7e7e7e"/><stop offset="0.2774" stop-color="#868686"/><stop offset="0.2847" stop-color="#8d8d8d"/><stop offset="0.2920" stop-color="#888888"/><stop offset="0.2993" stop-color="#828282"/><stop offset="0.3066" stop-color="#828282"/><stop offset="0.3139" stop-color="#868686"/><stop offset="0.3212" stop-color="#858585"/><stop offset="0.3285" stop-color="#848484"/><stop offset="0.3358" stop-color="#777777"/><stop offset="0.3431" stop-color="#717171"/><stop offset="0.3504" stop-color="#777777"/><stop offset="0.3577" stop-color="#808080"/><stop offset="0.3650" stop-color="#828282"/><stop offset="0.3723" stop-color="#858585"/><stop offset="0.3796" stop-color="#858585"/><stop offset="0.3869" stop-color="#868686"/><stop offset="0.3942" stop-color="#8c8c8c"/><stop offset="0.4015" stop-color="#949494"/><stop offset="0.4088" stop-color="#939393"/><stop offset="0.4161" stop-color="#909090"/><stop offset="0.4234" stop-color="#969696"/><stop offset="0.4307" stop-color="#939393"/><stop offset="0.4380" stop-color="#8b8b8b"/><stop offset="0.4453" stop-color="#838383"/><stop offset="0.4526" stop-color="#7f7f7f"/><stop offset="0.4599" stop-color="#767676"/><stop offset="0.4672" stop-color="#6e6e6e"/><stop offset="0.4745" stop-color="#757575"/><stop offset="0.4818" stop-color="#808080"/><stop offset="0.4891" stop-color="#7d7d7d"/><stop offset="0.4964" stop-color="#707070"/><stop offset="0.5036" stop-color="#6c6c6c"/><stop offset="0.5109" stop-color="#747474"/><stop offset="0.5182" stop-color="#7d7d7d"/><stop offset="0.5255" stop-color="#818181"/><stop offset="0.5328" stop-color="#898989"/><stop offset="0.5401" stop-color="#8b8b8b"/><stop offset="0.5474" stop-color="#898989"/><stop offset="0.5547" stop-color="#7f7f7f"/><stop offset="0.5620" stop-color="#767676"/><stop offset="0.5693" stop-color="#757575"/><stop offset="0.5766" stop-color="#7f7f7f"/><stop offset="0.5839" stop-color="#888888"/><stop offset="0.5912" stop-color="#8a8a8a"/><stop offset="0.5985" stop-color="#8a8a8a"/><stop offset="0.6058" stop-color="#8b8b8b"/><stop offset="0.6131" stop-color="#808080"/><stop offset="0.6204" stop-color="#757575"/><stop offset="0.6277" stop-color="#757575"/><stop offset="0.6350" stop-color="#828282"/><stop offset="0.6423" stop-color="#7e7e7e"/><stop offset="0.6496" stop-color="#7e7e7e"/><stop offset="0.6569" stop-color="#7e7e7e"/><stop offset="0.6642" stop-color="#818181"/><stop offset="0.6715" stop-color="#7d7d7d"/><stop offset="0.6788" stop-color="#838383"/><stop offset="0.6861" stop-color="#7f7f7f"/><stop offset="0.6934" stop-color="#7f7f7f"/><stop offset="0.7007" stop-color="#7f7f7f"/><stop offset="0.7080" stop-color="#818181"/><stop offset="0.7153" stop-color="#7a7a7a"/><stop offset="0.7226" stop-color="#707070"/><stop offset="0.7299" stop-color="#6e6e6e"/><stop offset="0.7372" stop-color="#737373"/><stop offset="0.7445" stop-color="#7a7a7a"/><stop offset="0.7518" stop-color="#7b7b7b"/><stop offset="0.7591" stop-color="#7a7a7a"/><stop offset="0.7664" stop-color="#7d7d7d"/><stop offset="0.7737" stop-color="#848484"/><stop offset="0.7810" stop-color="#868686"/><stop offset="0.7883" stop-color="#838383"/><stop offset="0.7956" stop-color="#808080"/><stop offset="0.8029" stop-color="#8b8b8b"/><stop offset="0.8102" stop-color="#8d8d8d"/><stop offset="0.8175" stop-color="#898989"/><stop offset="0.8248" stop-color="#7a7a7a"/><stop offset="0.8321" stop-color="#7e7e7e"/><stop offset="0.8394" stop-color="#838383"/><stop offset="0.8467" stop-color="#909090"/><stop offset="0.8540" stop-color="#8a8a8a"/><stop offset="0.8613" stop-color="#808080"/><stop offset="0.8686" stop-color="#7d7d7d"/><stop offset="0.8759" stop-color="#848484"/><stop offset="0.8832" stop-color="#848484"/><stop offset="0.8905" stop-color="#777777"/><stop offset="0.8978" stop-color="#757575"/><stop offset="0.9051" stop-color="#7b7b7b"/><stop offset="0.9124" stop-color="#8c8c8c"/><stop offset="0.9197" stop-color="#8c8c8c"/><stop offset="0.9270" stop-color="#858585"/><stop offset="0.9343" stop-color="#797979"/><stop offset="0.9416" stop-color="#757575"/><stop offset="0.9489" stop-color="#717171"/><stop offset="0.9562" stop-color="#7a7a7a"/><stop offset="0.9635" stop-color="#858585"/><stop offset="0.9708" stop-color="#838383"/><stop offset="0.9781" stop-color="#757575"/><stop offset="0.9854" stop-color="#787878"/><stop offset="0.9927" stop-color="#808080"/><stop offset="1.0000" stop-color="#868686"/></linearGradient></defs><rect x="391" y="252.5" width="208" height="171.9" fill="url(#std)" style="mix-blend-mode:overlay"/>
<text x="1.0" y="15.3" font-size="18" text-anchor="start" font-weight="bold">a</text>
<text x="28.6" y="51.1" font-size="12.2" text-anchor="start">Hamming window</text>
<path d="M101.20,170.5 Q105.00,-26.70 108.80,170.5" fill="none" stroke="#d3df58" stroke-width="2"/>
<path d="M87.10,170.5 Q90.90,10.10 94.70,170.5" fill="none" stroke="#d3df58" stroke-width="2"/>
<path d="M73.00,170.5 Q76.80,77.70 80.60,170.5" fill="none" stroke="#d3df58" stroke-width="2"/>
<path d="M58.90,170.5 Q62.70,115.50 66.50,170.5" fill="none" stroke="#d3df58" stroke-width="2"/>
<path d="M44.80,170.5 Q48.60,130.90 52.40,170.5" fill="none" stroke="#d3df58" stroke-width="2"/>
<path d="M30.70,170.5 Q34.50,135.10 38.30,170.5" fill="none" stroke="#d3df58" stroke-width="2"/>
<path d="M148.40,170.5 Q152.20,-26.70 156.00,170.5" fill="none" stroke="#d3df58" stroke-width="2"/>
<path d="M162.50,170.5 Q166.30,10.10 170.10,170.5" fill="none" stroke="#d3df58" stroke-width="2"/>
<path d="M176.60,170.5 Q180.40,77.70 184.20,170.5" fill="none" stroke="#d3df58" stroke-width="2"/>
<path d="M190.70,170.5 Q194.50,115.50 198.30,170.5" fill="none" stroke="#d3df58" stroke-width="2"/>
<path d="M204.80,170.5 Q208.60,130.90 212.40,170.5" fill="none" stroke="#d3df58" stroke-width="2"/>
<path d="M218.90,170.5 Q222.70,135.10 226.50,170.5" fill="none" stroke="#d3df58" stroke-width="2"/>
<path d="M34.50,152.60 C35.67,152.50 39.17,152.37 41.50,152.00 C43.83,151.63 46.17,151.13 48.50,150.40 C50.83,149.67 53.17,148.92 55.50,147.60 C57.83,146.28 60.17,144.68 62.50,142.50 C64.83,140.32 67.12,137.67 69.50,134.50 C71.88,131.33 74.42,127.92 76.80,123.50 C79.18,119.08 81.48,113.53 83.80,108.00 C86.12,102.47 88.38,95.30 90.70,90.30 C93.02,85.30 95.28,81.47 97.70,78.00 C100.12,74.53 102.15,71.80 105.20,69.50 C108.25,67.20 112.10,65.32 116.00,64.20 C119.90,63.08 124.40,62.80 128.60,62.80 C132.80,62.80 137.30,63.08 141.20,64.20 C145.10,65.32 148.95,67.20 152.00,69.50 C155.05,71.80 157.08,74.53 159.50,78.00 C161.92,81.47 164.18,85.30 166.50,90.30 C168.82,95.30 171.08,102.47 173.40,108.00 C175.72,113.53 178.02,119.08 180.40,123.50 C182.78,127.92 185.32,131.33 187.70,134.50 C190.08,137.67 192.37,140.32 194.70,142.50 C197.03,144.68 199.37,146.28 201.70,147.60 C204.03,148.92 206.37,149.67 208.70,150.40 C211.03,151.13 213.37,151.63 215.70,152.00 C218.03,152.37 221.53,152.50 222.70,152.60" fill="none" stroke="#2462a4" stroke-width="1.6" stroke-dasharray="5.4 4.4"/>
<line x1="69.10" y1="57.90" x2="86.00" y2="82.60" stroke="#17607f" stroke-width="1.6"/>
<polygon points="89.00,87.20 82.42,83.21 87.71,79.61" fill="#17607f"/>
<circle cx="118.2" cy="143.9" r="3.1" fill="#000"/>
<circle cx="128.9" cy="143.9" r="3.1" fill="#000"/>
<circle cx="139.3" cy="143.9" r="3.1" fill="#000"/>
<line x1="17.90" y1="171.50" x2="242.00" y2="171.50" stroke="#000" stroke-width="3.2"/>
<polygon points="240.5,166.8 251,171.5 240.5,176.2" fill="#000"/>
<line x1="34.50" y1="133.00" x2="34.50" y2="181.50" stroke="#222" stroke-width="1"/>
<line x1="209.00" y1="115.00" x2="209.00" y2="171.00" stroke="#222" stroke-width="1"/>
<line x1="222.60" y1="115.00" x2="222.60" y2="171.00" stroke="#222" stroke-width="1"/>
<line x1="193.60" y1="119.00" x2="205.00" y2="119.00" stroke="#000" stroke-width="1.2"/>
<polygon points="208.60,119.00 202.60,121.80 202.60,116.20" fill="#000"/>
<line x1="240.00" y1="119.00" x2="226.50" y2="119.00" stroke="#000" stroke-width="1.2"/>
<polygon points="223.00,119.00 229.00,116.20 229.00,121.80" fill="#000"/>
<line x1="38.00" y1="185.30" x2="218.50" y2="185.30" stroke="#000" stroke-width="1.2"/>
<polygon points="34.60,185.30 41.10,182.50 41.10,188.10" fill="#000"/>
<polygon points="222.30,185.30 215.80,188.10 215.80,182.50" fill="#000"/>
<text x="180.2" y="87.4" font-size="12.2" text-anchor="start">5 MHz (probe)</text>
<text x="180.2" y="104.0" font-size="12.15" text-anchor="start">5.0005 MHz (pump)</text>
<text x="271.8" y="177.1" font-size="12" text-anchor="start">RF</text>
<text x="252.8" y="191.2" font-size="12.1" text-anchor="start">frequency</text>
<text x="132.1" y="203.3" font-size="12.3" text-anchor="middle">200 MHz (probe)</text>
<text x="132.4" y="220.7" font-size="12.3" text-anchor="middle">200.02 MHz (pump)</text>
<text x="346.3" y="15.4" font-size="18" text-anchor="start" font-weight="bold">b</text>
<polyline points="399.70,117.47 400.15,111.95 400.60,108.45 401.05,102.22 401.50,99.11 401.90,97.60 402.30,95.67 403.00,99.02 403.45,95.41 403.90,94.40 404.35,96.01 404.80,98.77 405.30,108.77 405.80,118.98 406.30,125.37 406.80,134.17 407.30,141.38 407.80,148.34 408.30,149.73 408.80,151.69 409.17,155.10 409.53,153.97 409.90,158.08 410.35,152.87 410.80,148.93 411.25,146.85 411.70,145.43 412.15,145.15 412.60,141.44 413.05,146.44 413.50,150.42 413.90,148.62 414.30,148.14 414.80,152.19 415.30,157.68 415.80,146.12 416.30,135.54 416.80,118.28 417.30,101.44 417.70,94.46 418.10,86.26 418.50,78.00 418.90,87.28 419.30,94.80 419.70,101.23 420.10,110.89 420.50,119.41 420.90,129.13 421.32,134.69 421.75,139.36 422.18,147.44 422.60,150.85 422.96,154.15 423.32,157.57 423.68,158.16 424.04,161.57 424.40,162.62 424.80,153.17 425.20,142.13 425.60,130.22 425.97,119.79 426.33,106.77 426.70,96.59 427.10,87.45 427.50,78.57 427.90,69.37 428.30,78.02 428.70,85.83 429.10,91.92 429.47,102.49 429.83,110.68 430.20,122.60 430.55,131.94 430.90,142.48 431.25,151.47 431.60,159.35 432.10,150.66 432.60,142.51 433.10,131.57 433.60,123.89 434.05,119.90 434.50,116.65 434.87,117.88 435.23,121.40 435.60,120.89 436.03,123.84 436.45,126.87 436.88,130.91 437.30,131.14 437.66,135.97 438.02,139.99 438.38,144.71 438.74,148.24 439.10,152.09 439.48,152.54 439.85,155.15 440.23,157.18 440.60,160.95 441.00,158.11 441.40,152.62 441.80,149.63 442.30,152.50 442.80,155.20 443.25,157.85 443.70,160.07 444.07,152.49 444.43,145.11 444.80,139.76 445.50,131.11 446.00,135.95 446.50,141.36 446.95,144.57 447.40,148.05 447.90,134.35 448.40,120.53 448.90,101.16 449.40,86.20 449.80,73.34 450.20,61.12 450.60,53.39 451.00,44.68 451.40,49.70 451.80,53.81 452.20,67.90 452.60,78.69 453.05,93.70 453.50,109.13 454.00,121.49 454.50,134.52 455.00,138.66 455.50,143.50 455.93,142.29 456.37,140.47 456.80,139.59 457.18,135.33 457.55,134.62 457.93,130.59 458.30,125.95 458.70,118.92 459.10,111.88 459.50,104.59 460.00,93.87 460.50,86.05 461.00,80.03 461.50,72.00 461.90,73.00 462.30,72.76 463.00,74.01 463.50,82.13 464.00,89.29 464.40,96.99 464.80,100.98 465.20,106.57 465.55,112.75 465.90,114.88 466.25,117.14 466.60,121.73 467.10,121.38 467.60,124.08 468.10,130.94 468.60,136.09 468.97,139.29 469.33,141.68 469.70,145.70 470.20,153.05 470.70,162.82 471.20,159.10 471.70,156.84 472.20,154.49 472.70,153.17 473.07,154.43 473.45,154.45 473.82,153.56 474.20,152.92 474.60,152.50 475.00,151.82 475.40,149.83 475.80,150.25 476.30,144.67 476.80,138.59 477.30,134.98 477.80,132.14 478.17,133.48 478.53,136.18 478.90,138.37 479.40,136.34 479.90,137.31 480.35,132.46 480.80,127.37 481.25,121.59 481.70,117.16 482.15,112.18 482.60,107.09 483.05,102.61 483.50,99.37 483.90,99.20 484.30,98.02 485.00,98.94 485.45,97.26 485.90,95.50 486.35,96.05 486.80,100.48 487.30,110.23 487.80,118.85 488.30,127.25 488.80,134.93 489.30,140.04 489.80,147.87 490.30,149.00 490.80,152.90 491.17,155.08 491.53,155.02 491.90,156.70 492.35,154.84 492.80,150.67 493.25,147.01 493.70,144.88 494.15,143.15 494.60,143.61 495.05,147.12 495.50,148.94 495.90,149.98 496.30,149.44 496.80,153.97 497.30,158.55 497.80,147.15 498.30,133.89 498.80,117.04 499.30,103.41 499.70,95.55 500.10,88.28 500.50,82.60 500.90,88.00 501.30,96.22 501.70,102.98 502.10,109.80 502.50,118.59 502.90,127.38 503.32,133.22 503.75,140.26 504.18,145.28 504.60,151.76 504.96,153.29 505.32,158.03 505.68,158.76 506.04,161.47 506.40,164.25 506.80,153.88 507.20,141.10 507.60,131.25 507.97,118.67 508.33,107.43 508.70,96.07 509.10,86.06 509.50,78.82 509.90,69.55 510.30,76.18 510.70,85.73 511.10,91.02 511.47,101.92 511.83,112.68 512.20,122.17 512.67,134.14 513.13,147.39 513.60,160.17 514.10,151.85 514.60,140.82 515.10,133.18 515.60,123.25 516.05,120.23 516.50,118.62 516.87,119.22 517.23,120.79 517.60,122.78 518.02,125.84 518.45,127.03 518.88,130.14 519.30,132.42 519.66,136.16 520.02,140.42 520.38,143.42 520.74,147.38 521.10,150.93 521.48,154.52 521.85,156.00 522.23,158.73 522.60,161.13 523.00,156.01 523.40,153.85 523.80,151.93 524.30,154.32 524.80,154.91 525.25,156.76 525.70,159.63 526.07,151.92 526.43,145.82 526.80,138.72 527.15,136.26 527.50,132.35 528.00,136.94 528.50,138.96 528.95,144.65 529.40,148.48 529.90,132.93 530.40,121.15 530.90,103.90 531.40,84.16 531.80,73.86 532.20,59.69 532.60,51.16 533.00,43.87 533.40,49.70 533.80,53.98 534.20,67.29 534.60,80.05 535.05,94.52 535.50,109.09 536.00,121.96 536.50,135.67 537.00,138.56 537.50,145.16 537.93,143.15 538.37,140.22 538.80,139.49 539.17,137.12 539.55,133.54 539.92,128.94 540.30,128.46 540.70,120.53 541.10,113.75 541.50,103.81 542.00,94.30 542.50,83.62 543.00,79.24 543.50,71.11 543.90,71.79 544.30,73.77 544.65,75.83 545.00,76.16 545.50,81.88 546.00,88.95 546.40,97.26 546.80,102.21 547.20,108.60 547.67,111.30 548.13,115.74 548.60,122.16 549.10,122.58 549.60,122.72 550.10,130.82 550.60,135.40 551.10,132.40 551.60,126.75 552.30,160.00" fill="none" stroke="#ff0000" stroke-width="2.1" stroke-linejoin="round"/>
<polygon points="400.20,167.55 400.90,168.62 401.60,168.56 402.30,167.51 403.00,169.07 403.70,168.16 404.40,167.08 405.10,169.46 405.80,168.49 406.50,168.91 407.20,168.95 407.90,167.52 408.60,167.96 409.30,169.32 410.00,168.04 410.70,167.98 411.40,167.94 412.10,167.40 412.80,167.84 413.50,167.60 414.20,166.57 414.90,169.05 415.60,168.26 416.30,168.99 417.00,169.36 417.70,167.71 418.40,169.17 419.10,168.90 419.80,166.36 420.50,168.63 421.20,168.48 421.90,168.51 422.60,167.08 423.30,169.00 424.00,168.49 424.70,169.09 425.40,166.38 426.10,168.65 426.80,168.88 427.50,168.54 428.20,167.27 428.90,167.44 429.60,168.39 430.30,167.86 431.00,169.50 431.70,169.35 432.40,168.47 433.10,168.39 433.80,168.10 434.50,169.25 435.20,169.38 435.90,169.60 436.60,168.01 437.30,168.03 438.00,168.52 438.70,169.35 439.40,169.47 440.10,167.08 440.80,168.03 441.50,168.44 442.20,169.55 442.90,168.63 443.60,167.86 444.30,169.39 445.00,167.82 445.70,166.49 446.40,169.05 447.10,168.23 447.80,169.53 448.50,169.30 449.20,168.28 449.90,169.32 450.60,169.37 451.30,166.67 452.00,169.54 452.70,168.55 453.00,169.00 453.00,181.00 452.70,181.91 452.00,180.57 451.30,181.72 450.60,181.34 449.90,182.06 449.20,181.93 448.50,180.83 447.80,181.21 447.10,180.50 446.40,181.06 445.70,181.31 445.00,182.68 444.30,181.12 443.60,181.20 442.90,180.67 442.20,181.45 441.50,180.88 440.80,183.85 440.10,181.60 439.40,181.55 438.70,181.41 438.00,181.00 437.30,180.80 436.60,182.20 435.90,180.98 435.20,181.00 434.50,181.88 433.80,180.40 433.10,180.63 432.40,182.01 431.70,180.77 431.00,181.71 430.30,180.63 429.60,180.74 428.90,181.71 428.20,181.97 427.50,181.15 426.80,181.48 426.10,182.12 425.40,181.59 424.70,181.43 424.00,181.17 423.30,181.58 422.60,180.52 421.90,181.45 421.20,183.60 420.50,181.40 419.80,180.57 419.10,180.77 418.40,181.33 417.70,181.21 417.00,181.57 416.30,180.47 415.60,181.98 414.90,181.55 414.20,181.34 413.50,180.47 412.80,180.41 412.10,181.16 411.40,180.90 410.70,181.96 410.00,180.65 409.30,180.85 408.60,180.54 407.90,180.51 407.20,181.05 406.50,180.95 405.80,181.03 405.10,183.64 404.40,180.70 403.70,182.50 403.00,181.20 402.30,180.90 401.60,180.58 400.90,180.83 400.20,181.13" fill="#000" stroke="#000" stroke-width="0.4"/>
<polygon points="460.60,168.82 461.30,167.49 462.00,168.82 462.70,168.80 463.40,166.83 464.10,168.72 464.80,169.51 465.50,167.92 466.20,168.08 466.90,168.32 467.60,167.90 468.30,168.90 469.00,168.51 469.70,169.20 470.40,168.05 471.10,167.89 471.80,167.72 472.50,167.71 473.20,169.38 473.90,169.45 474.60,169.04 475.30,168.22 476.00,166.54 476.70,169.52 477.40,169.21 478.10,168.22 478.80,169.37 479.50,169.09 480.20,167.30 480.90,168.15 481.60,167.98 482.30,167.41 483.00,169.48 483.70,169.50 484.40,168.35 485.10,169.17 485.80,168.74 486.50,169.12 487.20,167.94 487.90,168.12 488.60,167.98 489.30,168.96 490.00,168.76 490.70,168.86 491.40,168.65 492.10,167.94 492.80,168.67 493.50,168.52 494.20,169.58 494.90,169.25 495.60,167.66 496.30,169.45 497.00,167.97 497.70,166.92 498.40,167.71 499.10,168.83 499.80,168.89 500.50,169.15 501.20,166.67 501.90,166.40 502.60,168.08 503.30,168.19 504.00,168.20 504.70,167.41 505.40,168.29 506.10,167.43 506.80,167.60 507.50,167.72 508.20,167.64 508.90,167.83 509.60,168.46 510.30,169.39 511.00,169.13 511.70,169.22 512.40,168.54 513.10,168.99 513.80,169.07 514.50,166.92 515.20,168.32 515.90,168.38 516.60,168.48 517.30,168.41 518.00,166.35 518.70,168.52 519.40,167.08 520.10,166.80 520.80,169.29 521.50,167.83 522.20,169.42 522.90,167.54 523.60,169.37 524.30,168.50 525.00,168.51 525.70,167.75 526.40,167.77 527.10,168.80 527.80,168.68 528.50,168.79 529.20,169.58 529.90,168.37 530.60,167.18 531.30,168.69 532.00,166.24 532.70,168.53 533.40,168.84 534.10,167.63 534.80,168.70 535.20,169.00 535.20,181.00 534.80,181.40 534.10,180.76 533.40,182.01 532.70,180.61 532.00,181.39 531.30,180.90 530.60,181.42 529.90,181.59 529.20,180.98 528.50,181.68 527.80,180.57 527.10,181.80 526.40,180.58 525.70,181.49 525.00,180.46 524.30,180.73 523.60,181.71 522.90,181.61 522.20,181.66 521.50,181.19 520.80,181.57 520.10,181.92 519.40,181.22 518.70,183.27 518.00,180.55 517.30,181.16 516.60,181.62 515.90,180.44 515.20,181.08 514.50,181.40 513.80,183.68 513.10,180.47 512.40,180.60 511.70,180.75 511.00,181.05 510.30,181.72 509.60,183.85 508.90,181.91 508.20,181.69 507.50,181.23 506.80,180.99 506.10,181.43 505.40,181.14 504.70,181.08 504.00,181.56 503.30,181.78 502.60,180.90 501.90,181.06 501.20,181.42 500.50,180.50 499.80,180.90 499.10,180.42 498.40,180.81 497.70,180.75 497.00,181.91 496.30,181.79 495.60,181.96 494.90,180.46 494.20,182.95 493.50,181.69 492.80,181.03 492.10,180.65 491.40,181.58 490.70,181.75 490.00,181.60 489.30,180.77 488.60,182.19 487.90,181.81 487.20,182.07 486.50,182.39 485.80,180.91 485.10,181.72 484.40,181.88 483.70,181.02 483.00,182.47 482.30,181.87 481.60,180.91 480.90,181.93 480.20,181.60 479.50,182.07 478.80,182.82 478.10,180.71 477.40,180.48 476.70,180.97 476.00,181.93 475.30,180.67 474.60,183.33 473.90,180.70 473.20,181.57 472.50,182.12 471.80,180.74 471.10,181.46 470.40,181.19 469.70,180.75 469.00,181.95 468.30,181.68 467.60,182.68 466.90,181.47 466.20,183.00 465.50,181.94 464.80,181.81 464.10,182.60 463.40,181.02 462.70,180.58 462.00,180.60 461.30,180.77 460.60,181.13" fill="#000" stroke="#000" stroke-width="0.4"/>
<polygon points="542.40,167.70 543.10,167.61 543.80,168.28 544.50,168.64 545.20,169.46 545.90,167.50 546.60,167.53 547.30,169.47 548.00,168.52 548.70,168.08 549.40,169.12 550.10,169.04 550.80,167.90 551.50,166.60 552.00,169.00 552.00,181.00 551.50,181.51 550.80,182.46 550.10,181.59 549.40,180.41 548.70,180.48 548.00,181.70 547.30,180.72 546.60,180.42 545.90,181.05 545.20,180.80 544.50,181.43 543.80,180.42 543.10,181.79 542.40,180.79" fill="#000" stroke="#000" stroke-width="0.4"/>
<polyline points="450.50,173.97 450.75,173.15 451.00,171.75 451.25,170.72 451.50,168.81 451.75,166.80 452.00,163.47 452.25,159.32 452.50,154.86 452.75,149.32 453.00,141.63 453.25,134.26 453.50,124.34 453.75,114.65 454.00,104.01 454.25,93.54 454.50,82.77 454.75,72.03 455.00,61.95 455.25,54.17 455.50,47.03 455.75,42.43 456.00,40.90 456.25,40.87 456.50,43.60 456.75,48.54 457.00,55.93 457.25,64.26 457.50,74.86 457.75,85.87 458.00,97.68 458.25,108.96 458.50,120.64 458.75,131.26 459.00,140.91 459.25,149.48 459.50,156.34 459.75,161.03 460.00,165.96 460.25,168.30 460.50,166.56 460.75,168.89 461.00,171.39" fill="none" stroke="#000" stroke-width="2.0" stroke-linejoin="round"/>
<polyline points="532.60,173.51 532.85,172.66 533.10,171.62 533.35,170.36 533.60,169.29 533.85,166.95 534.10,164.05 534.35,160.34 534.60,155.01 534.85,149.88 535.10,142.96 535.35,135.67 535.60,126.93 535.85,117.42 536.10,106.36 536.35,96.58 536.60,86.05 536.85,75.91 537.10,65.75 537.35,57.82 537.60,51.37 537.85,46.94 538.10,45.64 538.35,45.84 538.60,48.24 538.85,53.20 539.10,59.80 539.35,67.98 539.60,77.64 539.85,88.39 540.10,100.27 540.35,111.01 540.60,122.11 540.85,132.61 541.10,141.79 541.35,150.65 541.60,157.16 541.85,162.64 542.10,166.25 542.35,169.17 542.60,167.79 542.85,169.49" fill="none" stroke="#000" stroke-width="2.0" stroke-linejoin="round"/>
<line x1="399.70" y1="11.40" x2="399.70" y2="188.40" stroke="#3a3a3a" stroke-width="1"/>
<line x1="399.70" y1="185.20" x2="645.70" y2="185.20" stroke="#3a3a3a" stroke-width="1"/>
<line x1="396.50" y1="45.50" x2="399.70" y2="45.50" stroke="#3a3a3a" stroke-width="1"/>
<text x="392.6" y="49.8" font-size="12" text-anchor="end">0.50</text>
<line x1="396.50" y1="113.90" x2="399.70" y2="113.90" stroke="#3a3a3a" stroke-width="1"/>
<text x="392.6" y="118.2" font-size="12" text-anchor="end">0.25</text>
<line x1="396.50" y1="182.30" x2="399.70" y2="182.30" stroke="#3a3a3a" stroke-width="1"/>
<text x="392.6" y="186.6" font-size="12" text-anchor="end">0.00</text>
<line x1="397.70" y1="11.60" x2="399.70" y2="11.60" stroke="#3a3a3a" stroke-width="1"/>
<line x1="397.70" y1="79.70" x2="399.70" y2="79.70" stroke="#3a3a3a" stroke-width="1"/>
<line x1="397.70" y1="148.10" x2="399.70" y2="148.10" stroke="#3a3a3a" stroke-width="1"/>
<line x1="399.70" y1="185.20" x2="399.70" y2="188.60" stroke="#3a3a3a" stroke-width="1"/>
<text x="399.7" y="202.6" font-size="12" text-anchor="middle">0</text>
<line x1="420.20" y1="185.20" x2="420.20" y2="187.40" stroke="#3a3a3a" stroke-width="1"/>
<line x1="440.70" y1="185.20" x2="440.70" y2="188.60" stroke="#3a3a3a" stroke-width="1"/>
<text x="440.7" y="202.6" font-size="12" text-anchor="middle">100</text>
<line x1="461.20" y1="185.20" x2="461.20" y2="187.40" stroke="#3a3a3a" stroke-width="1"/>
<line x1="481.70" y1="185.20" x2="481.70" y2="188.60" stroke="#3a3a3a" stroke-width="1"/>
<text x="481.7" y="202.6" font-size="12" text-anchor="middle">200</text>
<line x1="502.20" y1="185.20" x2="502.20" y2="187.40" stroke="#3a3a3a" stroke-width="1"/>
<line x1="522.70" y1="185.20" x2="522.70" y2="188.60" stroke="#3a3a3a" stroke-width="1"/>
<text x="522.7" y="202.6" font-size="12" text-anchor="middle">300</text>
<line x1="543.20" y1="185.20" x2="543.20" y2="187.40" stroke="#3a3a3a" stroke-width="1"/>
<line x1="563.70" y1="185.20" x2="563.70" y2="188.60" stroke="#3a3a3a" stroke-width="1"/>
<text x="563.7" y="202.6" font-size="12" text-anchor="middle">400</text>
<line x1="584.20" y1="185.20" x2="584.20" y2="187.40" stroke="#3a3a3a" stroke-width="1"/>
<line x1="604.70" y1="185.20" x2="604.70" y2="188.60" stroke="#3a3a3a" stroke-width="1"/>
<text x="604.7" y="202.6" font-size="12" text-anchor="middle">500</text>
<line x1="625.20" y1="185.20" x2="625.20" y2="187.40" stroke="#3a3a3a" stroke-width="1"/>
<line x1="645.70" y1="185.20" x2="645.70" y2="188.60" stroke="#3a3a3a" stroke-width="1"/>
<text x="523.5" y="220.0" font-size="12.6" text-anchor="middle">Time (ns)</text>
<text transform="translate(357.3,98.5) rotate(-90)" font-size="12.2" text-anchor="middle">Signal, a. u.</text>
<line x1="558.90" y1="16.20" x2="593.80" y2="16.20" stroke="#000" stroke-width="1.8"/>
<line x1="558.90" y1="35.10" x2="593.80" y2="35.10" stroke="#ff0000" stroke-width="1.8"/>
<text x="598.9" y="20.7" font-size="12" text-anchor="start">Constant</text>
<text x="598.9" y="39.8" font-size="12" text-anchor="start">Random</text>
<line x1="588.00" y1="82.60" x2="588.00" y2="148.90" stroke="#555" stroke-width="0.8"/>
<line x1="588.00" y1="148.90" x2="685.00" y2="148.90" stroke="#555" stroke-width="0.8"/>
<line x1="586.50" y1="90.40" x2="588.00" y2="90.40" stroke="#555" stroke-width="0.8"/>
<text x="583.3" y="92.9" font-size="7" text-anchor="end">0.50</text>
<line x1="586.50" y1="118.80" x2="588.00" y2="118.80" stroke="#555" stroke-width="0.8"/>
<text x="583.3" y="121.3" font-size="7" text-anchor="end">0.25</text>
<line x1="586.50" y1="147.20" x2="588.00" y2="147.20" stroke="#555" stroke-width="0.8"/>
<text x="583.3" y="149.7" font-size="7" text-anchor="end">0.00</text>
<line x1="587.00" y1="104.60" x2="588.00" y2="104.60" stroke="#555" stroke-width="0.8"/>
<line x1="587.00" y1="133.00" x2="588.00" y2="133.00" stroke="#555" stroke-width="0.8"/>
<line x1="593.50" y1="148.90" x2="593.50" y2="150.40" stroke="#555" stroke-width="0.8"/>
<text x="593.5" y="159.4" font-size="7" text-anchor="middle">110</text>
<line x1="601.50" y1="148.90" x2="601.50" y2="149.90" stroke="#555" stroke-width="0.8"/>
<line x1="609.50" y1="148.90" x2="609.50" y2="150.40" stroke="#555" stroke-width="0.8"/>
<text x="609.5" y="159.4" font-size="7" text-anchor="middle">120</text>
<line x1="617.50" y1="148.90" x2="617.50" y2="149.90" stroke="#555" stroke-width="0.8"/>
<line x1="625.50" y1="148.90" x2="625.50" y2="150.40" stroke="#555" stroke-width="0.8"/>
<text x="625.5" y="159.4" font-size="7" text-anchor="middle">130</text>
<line x1="633.50" y1="148.90" x2="633.50" y2="149.90" stroke="#555" stroke-width="0.8"/>
<line x1="641.50" y1="148.90" x2="641.50" y2="150.40" stroke="#555" stroke-width="0.8"/>
<text x="641.5" y="159.4" font-size="7" text-anchor="middle">140</text>
<line x1="649.50" y1="148.90" x2="649.50" y2="149.90" stroke="#555" stroke-width="0.8"/>
<line x1="657.50" y1="148.90" x2="657.50" y2="150.40" stroke="#555" stroke-width="0.8"/>
<text x="657.5" y="159.4" font-size="7" text-anchor="middle">150</text>
<line x1="665.50" y1="148.90" x2="665.50" y2="149.90" stroke="#555" stroke-width="0.8"/>
<line x1="673.50" y1="148.90" x2="673.50" y2="150.40" stroke="#555" stroke-width="0.8"/>
<text x="673.5" y="159.4" font-size="7" text-anchor="middle">160</text>
<line x1="681.50" y1="148.90" x2="681.50" y2="149.90" stroke="#555" stroke-width="0.8"/>
<text x="636.5" y="172.0" font-size="7" text-anchor="middle">Time (ns)</text>
<text transform="translate(562.2,120.0) rotate(-90)" font-size="7" text-anchor="middle">Signal, a. u.</text>
<polyline points="588.80,143.65 589.00,144.50 589.20,146.63 589.40,145.24 589.60,145.16 589.80,143.94 590.00,145.48 590.20,144.18 590.40,144.79 590.60,145.96 590.80,143.61 591.00,146.42 591.20,143.77 591.40,146.13 591.60,146.74 591.80,146.01 592.00,143.97 592.20,143.19 592.40,146.73 592.60,144.96 592.80,144.96 593.00,143.85 593.20,146.07 593.40,144.95 593.60,145.48 593.80,143.72 594.00,145.80 594.20,143.31 594.40,145.71 594.60,145.97 594.80,144.20 595.00,144.93 595.20,146.35 595.40,144.43 595.60,146.45 595.80,143.88 596.00,144.21 596.20,143.88 596.40,144.46 596.60,145.45 596.80,145.29 597.00,145.31 597.20,143.51 597.40,146.43 597.60,143.52 597.80,146.65 598.00,146.00 598.20,145.79 598.40,143.47 598.60,144.92 598.80,145.37 599.00,143.53 599.20,145.90 599.40,145.07 599.60,144.81 599.80,144.00 600.00,144.01 600.20,144.40 600.40,145.48 600.60,145.56 600.80,146.18 601.00,143.68 601.20,144.34 601.40,144.05 601.60,146.13 601.80,145.15 602.00,143.93 602.20,144.64 602.40,146.29 602.60,145.07 602.80,143.53 603.00,145.88 603.20,146.05 603.40,145.65 603.60,144.19 603.80,143.68 604.00,146.18 604.20,146.18 604.40,145.85 604.60,145.56 604.80,144.85 605.00,146.16 605.20,145.55 605.40,146.06 605.60,143.20 605.80,144.10 606.00,146.38 606.20,143.25 606.40,146.38 606.60,145.35 606.80,143.17 607.00,143.86 607.20,144.08 607.40,145.16 607.60,146.03 607.80,144.43 608.00,146.36 608.20,146.00 608.40,145.33 608.60,146.62 608.80,145.29 609.00,143.87 609.20,144.22 609.40,144.93 609.60,144.45 609.80,145.06 610.00,146.23 610.20,144.55 610.40,145.27 610.60,144.05 610.80,143.44 611.00,145.18 611.20,144.66 611.40,144.02 611.60,145.21 611.80,145.91 612.00,144.11 612.20,143.54 612.40,143.92 612.60,144.19 612.80,143.63 613.00,144.26 613.20,144.40 613.40,145.08 613.60,145.58 613.80,144.43 614.00,146.36 614.20,145.18 614.40,143.86 614.60,144.10 614.80,144.39 615.00,145.76 615.20,145.12 615.40,144.99 615.60,144.37 615.80,145.12 616.00,144.14 616.20,143.19 616.40,145.87 616.60,144.13 616.80,143.65 617.00,145.02 617.20,144.61 617.40,142.80 617.60,146.15 617.80,144.25 618.00,145.58 618.20,143.24 618.40,142.58 618.60,144.02 618.80,145.44 619.00,143.60 619.20,143.60 619.40,142.82 619.60,143.41 619.80,142.78 620.00,141.91 620.20,142.83 620.40,143.02 620.60,140.84 620.80,143.27 621.00,141.27 621.20,142.03 621.40,140.37 621.60,142.36 621.80,138.86 622.00,140.75 622.20,141.42 622.40,140.19 622.60,139.26 622.80,140.16 623.00,138.16 623.20,137.59 623.40,135.98 623.60,136.62 623.80,136.28 624.00,135.74 624.20,133.14 624.40,131.67 624.60,132.39 624.80,132.69 625.00,129.73 625.20,130.35 625.40,130.10 625.60,128.63 625.80,126.79 626.00,125.76 626.20,124.99 626.40,124.18 626.60,123.01 626.80,122.39 627.00,120.30 627.20,120.03 627.40,118.52 627.60,117.15 627.80,116.02 628.00,115.36 628.20,114.46 628.40,112.97 628.60,112.41 628.80,110.31 629.00,109.84 629.20,108.05 629.40,107.74 629.60,106.51 629.80,105.61 630.00,104.34 630.20,103.64 630.40,102.90 630.60,100.96 630.80,100.63 631.00,99.78 631.20,98.84 631.40,97.77 631.60,97.05 631.80,96.01 632.00,95.27 632.20,95.01 632.40,93.62 632.60,93.14 632.80,93.69 633.00,92.14 633.20,91.59 633.40,91.35 633.60,91.86 633.80,90.60 634.00,90.59 634.20,91.20 634.40,91.00 634.60,89.56 634.80,89.84 635.00,90.29 635.20,90.43 635.40,90.34 635.60,90.20 635.80,89.46 636.00,90.05 636.20,90.34 636.40,89.37 636.60,89.61 636.80,90.57 637.00,89.74 637.20,90.31 637.40,90.29 637.60,90.71 637.80,90.70 638.00,91.19 638.20,91.51 638.40,92.82 638.60,92.62 638.80,93.36 639.00,93.63 639.20,94.65 639.40,94.70 639.60,95.84 639.80,96.97 640.00,97.78 640.20,98.72 640.40,99.09 640.60,100.57 640.80,100.93 641.00,102.32 641.20,102.83 641.40,103.83 641.60,104.80 641.80,105.42 642.00,107.66 642.20,107.62 642.40,109.24 642.60,110.23 642.80,111.22 643.00,112.11 643.20,113.89 643.40,114.97 643.60,115.37 643.80,117.72 644.00,118.08 644.20,119.20 644.40,121.14 644.60,121.44 644.80,122.41 645.00,123.13 645.20,124.99 645.40,125.12 645.60,126.76 645.80,127.76 646.00,127.24 646.20,131.29 646.40,129.69 646.60,130.88 646.80,132.75 647.00,131.64 647.20,134.21 647.40,134.55 647.60,135.06 647.80,134.84 648.00,137.51 648.20,137.30 648.40,137.92 648.60,137.99 648.80,137.51 649.00,139.93 649.20,138.45 649.40,140.42 649.60,141.26 649.80,142.63 650.00,142.29 650.20,141.08 650.40,142.72 650.60,142.68 650.80,144.77 651.00,145.21 651.20,145.62 651.40,144.88 651.60,144.96 651.80,144.63 652.00,147.49 652.20,145.12 652.40,144.58 652.60,145.84 652.80,147.63 653.00,146.67 653.20,147.66 653.40,146.90 653.60,144.14 653.80,145.18 654.00,144.89 654.20,144.31 654.40,143.78 654.60,144.78 654.80,144.69 655.00,144.60 655.20,144.30 655.40,144.62 655.60,144.28 655.80,145.97 656.00,144.30 656.20,145.05 656.40,143.94 656.60,146.34 656.80,146.05 657.00,146.58 657.20,143.90 657.40,143.39 657.60,144.33 657.80,145.38 658.00,143.73 658.20,143.87 658.40,144.69 658.60,145.79 658.80,145.64 659.00,145.20 659.20,145.58 659.40,145.17 659.60,144.41 659.80,143.35 660.00,146.54 660.20,144.68 660.40,146.60 660.60,146.31 660.80,143.80 661.00,144.65 661.20,143.41 661.40,145.12 661.60,146.69 661.80,145.34 662.00,144.59 662.20,143.34 662.40,143.18 662.60,145.02 662.80,145.25 663.00,146.37 663.20,144.40 663.40,145.97 663.60,146.19 663.80,146.69 664.00,146.73 664.20,144.26 664.40,146.30 664.60,143.23 664.80,146.43 665.00,143.58 665.20,146.28 665.40,146.68 665.60,144.13 665.80,145.86 666.00,144.08 666.20,146.06 666.40,146.56 666.60,143.93 666.80,144.15 667.00,143.64 667.20,144.09 667.40,146.44 667.60,144.46 667.80,144.17 668.00,145.07 668.20,143.36 668.40,145.82 668.60,143.24 668.80,144.14 669.00,146.70 669.20,146.69 669.40,144.38 669.60,143.77 669.80,146.46 670.00,145.61 670.20,144.09 670.40,146.14 670.60,143.62 670.80,144.98 671.00,146.53 671.20,145.41 671.40,144.66 671.60,145.15 671.80,144.29 672.00,146.22 672.20,143.85 672.40,145.43 672.60,144.40 672.80,144.46 673.00,145.23 673.20,145.34 673.40,143.89 673.60,143.31 673.80,143.89 674.00,144.69 674.20,145.68 674.40,146.53 674.60,143.21 674.80,144.19 675.00,143.74 675.20,145.54 675.40,144.54 675.60,143.19 675.80,143.72 676.00,144.56 676.20,145.62 676.40,145.19 676.60,143.52 676.80,145.38 677.00,144.26 677.20,144.56 677.40,143.49 677.60,143.81 677.80,145.72 678.00,146.74 678.20,145.79 678.40,145.21 678.60,144.61 678.80,143.78 679.00,143.52 679.20,146.59 679.40,143.72 679.60,143.79 679.80,143.59 680.00,144.67 680.20,145.75 680.40,143.65 680.60,143.81 680.80,144.26 681.00,143.42 681.20,145.48 681.40,146.44 681.60,144.73 681.80,143.85 682.00,146.02 682.20,144.02 682.40,143.36 682.60,145.89 682.80,144.54 683.00,144.28 683.20,145.05 683.40,145.99 683.60,145.82 683.80,144.02 684.00,143.87 684.20,145.07 684.40,146.43 684.60,143.81 684.80,143.94" fill="none" stroke="#000" stroke-width="1.0" stroke-linejoin="round"/>
<line x1="609.80" y1="118.90" x2="623.50" y2="118.90" stroke="#000" stroke-width="1.5"/>
<polygon points="627.00,118.90 622.00,121.70 622.00,116.10" fill="#000"/>
<line x1="661.40" y1="118.90" x2="648.50" y2="118.90" stroke="#000" stroke-width="1.5"/>
<polygon points="645.00,118.90 650.00,116.10 650.00,121.70" fill="#000"/>
<text x="651.3" y="110.9" font-size="11.8" text-anchor="start">10 ns</text>
<text x="0.8" y="256.9" font-size="18" text-anchor="start" font-weight="bold">c</text>
<rect x="42.3" y="252.5" width="208" height="171.7" fill="none" stroke="#888" stroke-width="0.8"/>
<line x1="42.30" y1="252.50" x2="42.30" y2="424.40" stroke="#555" stroke-width="0.9"/>
<line x1="42.30" y1="424.40" x2="250.30" y2="424.40" stroke="#555" stroke-width="0.9"/>
<line x1="39.90" y1="415.74" x2="42.30" y2="415.74" stroke="#3a3a3a" stroke-width="1"/>
<line x1="39.90" y1="398.56" x2="42.30" y2="398.56" stroke="#3a3a3a" stroke-width="1"/>
<line x1="39.90" y1="381.38" x2="42.30" y2="381.38" stroke="#3a3a3a" stroke-width="1"/>
<line x1="39.10" y1="364.20" x2="42.30" y2="364.20" stroke="#3a3a3a" stroke-width="1"/>
<line x1="39.90" y1="347.02" x2="42.30" y2="347.02" stroke="#3a3a3a" stroke-width="1"/>
<line x1="39.90" y1="329.84" x2="42.30" y2="329.84" stroke="#3a3a3a" stroke-width="1"/>
<line x1="39.90" y1="312.66" x2="42.30" y2="312.66" stroke="#3a3a3a" stroke-width="1"/>
<line x1="39.90" y1="295.48" x2="42.30" y2="295.48" stroke="#3a3a3a" stroke-width="1"/>
<line x1="39.10" y1="278.30" x2="42.30" y2="278.30" stroke="#3a3a3a" stroke-width="1"/>
<line x1="39.90" y1="261.12" x2="42.30" y2="261.12" stroke="#3a3a3a" stroke-width="1"/>
<text x="34.4" y="282.6" font-size="12" text-anchor="end">10</text>
<text x="33.8" y="368.5" font-size="12" text-anchor="end">5</text>
<line x1="42.40" y1="424.20" x2="42.40" y2="425.80" stroke="#3a3a3a" stroke-width="1"/>
<line x1="68.35" y1="424.20" x2="68.35" y2="426.60" stroke="#3a3a3a" stroke-width="1"/>
<line x1="94.30" y1="424.20" x2="94.30" y2="425.80" stroke="#3a3a3a" stroke-width="1"/>
<line x1="120.25" y1="424.20" x2="120.25" y2="426.60" stroke="#3a3a3a" stroke-width="1"/>
<line x1="146.20" y1="424.20" x2="146.20" y2="425.80" stroke="#3a3a3a" stroke-width="1"/>
<line x1="172.15" y1="424.20" x2="172.15" y2="426.60" stroke="#3a3a3a" stroke-width="1"/>
<line x1="198.10" y1="424.20" x2="198.10" y2="425.80" stroke="#3a3a3a" stroke-width="1"/>
<line x1="224.05" y1="424.20" x2="224.05" y2="426.60" stroke="#3a3a3a" stroke-width="1"/>
<line x1="250.00" y1="424.20" x2="250.00" y2="425.80" stroke="#3a3a3a" stroke-width="1"/>
<text x="68.4" y="441.2" font-size="12" text-anchor="middle">10.6</text>
<text x="120.3" y="441.2" font-size="12" text-anchor="middle">10.7</text>
<text x="172.2" y="441.2" font-size="12" text-anchor="middle">10.8</text>
<text x="224.1" y="441.2" font-size="12" text-anchor="middle">10.9</text>
<text x="121.0" y="459.5" font-size="12.4" text-anchor="start">Δ<tspan font-family="Liberation Serif" font-style="italic">ν</tspan> (GHz)</text>
<text transform="translate(12.4,337.3) rotate(-90)" font-size="12.3" text-anchor="middle">Position (m)</text>
<defs><linearGradient id="cbc" x1="0" x2="0" y1="0" y2="1"><stop offset="0.0000" stop-color="#ffffff"/><stop offset="0.0208" stop-color="#ffffec"/><stop offset="0.0417" stop-color="#ffffd9"/><stop offset="0.0625" stop-color="#ffffc3"/><stop offset="0.0833" stop-color="#ffffa9"/><stop offset="0.1042" stop-color="#ffff92"/><stop offset="0.1250" stop-color="#ffff7d"/><stop offset="0.1458" stop-color="#ffff6b"/><stop offset="0.1667" stop-color="#ffff57"/><stop offset="0.1875" stop-color="#ffff2f"/><stop offset="0.2083" stop-color="#ffff1a"/><stop offset="0.2292" stop-color="#ffff05"/><stop offset="0.2500" stop-color="#fffc00"/><stop offset="0.2708" stop-color="#fff400"/><stop offset="0.2917" stop-color="#ffec00"/><stop offset="0.3125" stop-color="#ffe400"/><stop offset="0.3333" stop-color="#ffdc00"/><stop offset="0.3542" stop-color="#ffd200"/><stop offset="0.3750" stop-color="#ffc800"/><stop offset="0.3958" stop-color="#ffbb00"/><stop offset="0.4167" stop-color="#ffac00"/><stop offset="0.4375" stop-color="#ffa000"/><stop offset="0.4583" stop-color="#ff9600"/><stop offset="0.4792" stop-color="#ff8c00"/><stop offset="0.5000" stop-color="#ff8200"/><stop offset="0.5208" stop-color="#ff7800"/><stop offset="0.5417" stop-color="#ff6e00"/><stop offset="0.5625" stop-color="#ff6400"/><stop offset="0.5833" stop-color="#ff5900"/><stop offset="0.6042" stop-color="#ff4d00"/><stop offset="0.6250" stop-color="#ff4100"/><stop offset="0.6458" stop-color="#ff3500"/><stop offset="0.6667" stop-color="#ff2900"/><stop offset="0.6875" stop-color="#ff2000"/><stop offset="0.7083" stop-color="#ff1700"/><stop offset="0.7292" stop-color="#ff0e00"/><stop offset="0.7500" stop-color="#ff0500"/><stop offset="0.7708" stop-color="#f60000"/><stop offset="0.7917" stop-color="#df0000"/><stop offset="0.8125" stop-color="#ca0000"/><stop offset="0.8333" stop-color="#bc0000"/><stop offset="0.8542" stop-color="#ad0000"/><stop offset="0.8750" stop-color="#990000"/><stop offset="0.8958" stop-color="#830000"/><stop offset="0.9167" stop-color="#700000"/><stop offset="0.9375" stop-color="#600000"/><stop offset="0.9583" stop-color="#510000"/><stop offset="0.9792" stop-color="#410000"/><stop offset="1.0000" stop-color="#300000"/></linearGradient></defs>
<rect x="255.3" y="252.7" width="32.89999999999998" height="3.5" fill="#000"/>
<rect x="255.3" y="256.2" width="32.89999999999998" height="167.40000000000003" fill="url(#cbc)"/>
<text x="292.5" y="263.0" font-size="12" text-anchor="start">–4.000</text>
<text x="292.5" y="295.9" font-size="12" text-anchor="start">7.360</text>
<text x="292.5" y="328.5" font-size="12" text-anchor="start">18.72</text>
<text x="292.5" y="361.2" font-size="12" text-anchor="start">30.08</text>
<text x="292.5" y="394.8" font-size="12" text-anchor="start">41.44</text>
<text x="292.5" y="426.9" font-size="12" text-anchor="start">52.80</text>
<rect x="135" y="256.2" width="112.6" height="83" fill="#fff"/>
<line x1="161.00" y1="259.20" x2="161.00" y2="312.30" stroke="#555" stroke-width="0.8"/>
<line x1="161.00" y1="312.30" x2="238.50" y2="312.30" stroke="#555" stroke-width="0.8"/>
<line x1="159.50" y1="274.50" x2="161.00" y2="274.50" stroke="#555" stroke-width="0.8"/>
<text x="157.8" y="277.0" font-size="7" text-anchor="end">50</text>
<line x1="159.50" y1="306.20" x2="161.00" y2="306.20" stroke="#555" stroke-width="0.8"/>
<text x="157.8" y="308.7" font-size="7" text-anchor="end">0</text>
<line x1="172.50" y1="312.30" x2="172.50" y2="313.80" stroke="#555" stroke-width="0.8"/>
<text x="172.5" y="323.0" font-size="7" text-anchor="middle">10.6</text>
<line x1="191.00" y1="312.30" x2="191.00" y2="313.80" stroke="#555" stroke-width="0.8"/>
<text x="191.0" y="323.0" font-size="7" text-anchor="middle">10.7</text>
<line x1="209.50" y1="312.30" x2="209.50" y2="313.80" stroke="#555" stroke-width="0.8"/>
<text x="209.5" y="323.0" font-size="7" text-anchor="middle">10.8</text>
<line x1="228.00" y1="312.30" x2="228.00" y2="313.80" stroke="#555" stroke-width="0.8"/>
<text x="228.0" y="323.0" font-size="7" text-anchor="middle">10.9</text>
<text x="199.6" y="335.6" font-size="7" text-anchor="middle">Δ<tspan font-family="Liberation Serif" font-style="italic">ν</tspan> (GHz)</text>
<text transform="translate(140.6,285.7) rotate(-90)" font-size="7" text-anchor="middle">Signal, a. u.</text>
<text x="165.7" y="272.9" font-size="12" text-anchor="start">100 MHz</text>
<polyline points="161.00,304.84 161.50,304.62 162.00,303.93 162.50,303.64 163.00,303.15 163.50,302.07 164.05,301.43 164.60,301.67 165.15,300.51 165.70,299.90 166.25,300.08 166.80,298.97 167.34,298.84 167.88,297.98 168.42,297.64 168.96,296.65 169.50,296.63 170.10,295.97 170.70,294.72 171.30,294.04 171.90,293.07 172.43,291.54 172.95,291.31 173.47,290.22 174.00,289.00 174.50,287.61 175.00,287.32 175.50,285.80 176.00,284.92 176.60,283.85 177.20,282.45 177.80,281.42 178.40,279.89 179.00,279.30 179.50,278.64 180.00,278.84 180.50,279.33 181.00,279.10 181.55,279.69 182.10,280.32 182.70,280.52 183.30,279.44 184.00,279.38 184.70,278.80 185.20,279.84 185.70,280.55 186.20,281.35 186.80,282.92 187.40,284.25 188.00,285.90 188.57,287.18 189.13,288.93 189.70,290.36 190.23,291.79 190.77,292.77 191.30,293.56 191.85,295.16 192.40,296.16 192.95,297.00 193.50,297.57 194.00,298.29 194.50,298.36 195.00,299.56 195.50,299.87 196.13,299.98 196.77,300.16 197.40,301.35 197.92,301.79 198.44,301.19 198.96,302.20 199.48,302.11 200.00,302.15 200.50,302.46 201.00,303.10 201.50,303.37 202.00,302.71 202.50,303.45 203.00,303.04 203.52,303.84 204.04,303.57 204.56,304.24 205.08,304.46 205.60,304.11 206.15,304.69 206.70,304.08 207.25,303.94 207.80,304.55 208.35,304.07 208.90,304.32 209.45,304.62 210.00,304.91 210.50,304.51 211.00,304.44 211.50,305.32 212.00,304.81 212.50,305.51 213.00,305.50 213.50,305.03 214.00,305.16 214.50,305.27 215.00,305.44 215.50,305.42 216.00,305.42 216.50,305.51 217.00,305.85 217.50,305.45 218.00,305.40 218.50,305.72 219.00,305.27 219.50,305.36 220.00,306.06 220.50,305.64 221.00,305.69 221.50,305.18 222.00,305.62 222.50,305.80 223.00,305.26 223.50,305.87 224.00,305.91 224.50,305.35 225.00,305.94 225.50,305.80 226.00,306.03 226.50,305.72 227.00,306.09 227.50,306.14 228.00,305.45 228.50,305.50 229.00,306.14 229.50,306.44 230.00,305.75 230.52,305.98 231.04,306.14 231.56,305.90 232.07,305.96 232.59,305.94 233.11,306.02 233.63,306.27 234.15,306.00 234.67,306.10 235.19,306.52 235.71,305.80 236.23,306.37 236.74,306.56 237.26,306.16 237.78,306.10 238.30,306.40" fill="none" stroke="#111" stroke-width="1.0" stroke-linejoin="round"/>
<line x1="175.50" y1="295.30" x2="187.70" y2="295.30" stroke="#000" stroke-width="1.3"/>
<polygon points="171.60,295.30 176.10,292.90 176.10,297.70" fill="#000"/>
<polygon points="191.60,295.30 187.10,297.70 187.10,292.90" fill="#000"/>
<text x="346.0" y="256.7" font-size="18" text-anchor="start" font-weight="bold">d</text>
<rect x="391" y="252.5" width="208" height="171.7" fill="none" stroke="#999" stroke-width="0.8"/>
<line x1="391.00" y1="252.50" x2="391.00" y2="424.40" stroke="#555" stroke-width="0.9"/>
<line x1="391.00" y1="424.40" x2="599.00" y2="424.40" stroke="#555" stroke-width="0.9"/>
<line x1="388.60" y1="415.84" x2="391.00" y2="415.84" stroke="#3a3a3a" stroke-width="1"/>
<line x1="388.60" y1="398.66" x2="391.00" y2="398.66" stroke="#3a3a3a" stroke-width="1"/>
<line x1="388.60" y1="381.48" x2="391.00" y2="381.48" stroke="#3a3a3a" stroke-width="1"/>
<line x1="387.80" y1="364.30" x2="391.00" y2="364.30" stroke="#3a3a3a" stroke-width="1"/>
<line x1="388.60" y1="347.12" x2="391.00" y2="347.12" stroke="#3a3a3a" stroke-width="1"/>
<line x1="388.60" y1="329.94" x2="391.00" y2="329.94" stroke="#3a3a3a" stroke-width="1"/>
<line x1="388.60" y1="312.76" x2="391.00" y2="312.76" stroke="#3a3a3a" stroke-width="1"/>
<line x1="388.60" y1="295.58" x2="391.00" y2="295.58" stroke="#3a3a3a" stroke-width="1"/>
<line x1="387.80" y1="278.40" x2="391.00" y2="278.40" stroke="#3a3a3a" stroke-width="1"/>
<line x1="388.60" y1="261.22" x2="391.00" y2="261.22" stroke="#3a3a3a" stroke-width="1"/>
<text x="383.2" y="282.7" font-size="12" text-anchor="end">10</text>
<text x="382.6" y="368.5" font-size="12" text-anchor="end">5</text>
<line x1="391.40" y1="424.20" x2="391.40" y2="425.80" stroke="#3a3a3a" stroke-width="1"/>
<line x1="417.35" y1="424.20" x2="417.35" y2="426.60" stroke="#3a3a3a" stroke-width="1"/>
<line x1="443.30" y1="424.20" x2="443.30" y2="425.80" stroke="#3a3a3a" stroke-width="1"/>
<line x1="469.25" y1="424.20" x2="469.25" y2="426.60" stroke="#3a3a3a" stroke-width="1"/>
<line x1="495.20" y1="424.20" x2="495.20" y2="425.80" stroke="#3a3a3a" stroke-width="1"/>
<line x1="521.15" y1="424.20" x2="521.15" y2="426.60" stroke="#3a3a3a" stroke-width="1"/>
<line x1="547.10" y1="424.20" x2="547.10" y2="425.80" stroke="#3a3a3a" stroke-width="1"/>
<line x1="573.05" y1="424.20" x2="573.05" y2="426.60" stroke="#3a3a3a" stroke-width="1"/>
<line x1="599.00" y1="424.20" x2="599.00" y2="425.80" stroke="#3a3a3a" stroke-width="1"/>
<text x="417.3" y="441.2" font-size="12" text-anchor="middle">10.6</text>
<text x="469.2" y="441.2" font-size="12" text-anchor="middle">10.7</text>
<text x="521.1" y="441.2" font-size="12" text-anchor="middle">10.8</text>
<text x="573.0" y="441.2" font-size="12" text-anchor="middle">10.9</text>
<text x="470.1" y="459.5" font-size="12.4" text-anchor="start">Δ<tspan font-family="Liberation Serif" font-style="italic">ν</tspan> (GHz)</text>
<text transform="translate(360.9,338.0) rotate(-90)" font-size="12.3" text-anchor="middle">Position (m)</text>
<defs><linearGradient id="cbd" x1="0" x2="0" y1="0" y2="1"><stop offset="0.0000" stop-color="#ffffff"/><stop offset="0.0208" stop-color="#ffffec"/><stop offset="0.0417" stop-color="#ffffd9"/><stop offset="0.0625" stop-color="#ffffc3"/><stop offset="0.0833" stop-color="#ffffa9"/><stop offset="0.1042" stop-color="#ffff92"/><stop offset="0.1250" stop-color="#ffff7d"/><stop offset="0.1458" stop-color="#ffff6b"/><stop offset="0.1667" stop-color="#ffff57"/><stop offset="0.1875" stop-color="#ffff2f"/><stop offset="0.2083" stop-color="#ffff1a"/><stop offset="0.2292" stop-color="#ffff05"/><stop offset="0.2500" stop-color="#fffc00"/><stop offset="0.2708" stop-color="#fff400"/><stop offset="0.2917" stop-color="#ffec00"/><stop offset="0.3125" stop-color="#ffe400"/><stop offset="0.3333" stop-color="#ffdc00"/><stop offset="0.3542" stop-color="#ffd200"/><stop offset="0.3750" stop-color="#ffc800"/><stop offset="0.3958" stop-color="#ffbb00"/><stop offset="0.4167" stop-color="#ffac00"/><stop offset="0.4375" stop-color="#ffa000"/><stop offset="0.4583" stop-color="#ff9600"/><stop offset="0.4792" stop-color="#ff8c00"/><stop offset="0.5000" stop-color="#ff8200"/><stop offset="0.5208" stop-color="#ff7800"/><stop offset="0.5417" stop-color="#ff6e00"/><stop offset="0.5625" stop-color="#ff6400"/><stop offset="0.5833" stop-color="#ff5900"/><stop offset="0.6042" stop-color="#ff4d00"/><stop offset="0.6250" stop-color="#ff4100"/><stop offset="0.6458" stop-color="#ff3500"/><stop offset="0.6667" stop-color="#ff2900"/><stop offset="0.6875" stop-color="#ff2000"/><stop offset="0.7083" stop-color="#ff1700"/><stop offset="0.7292" stop-color="#ff0e00"/><stop offset="0.7500" stop-color="#ff0500"/><stop offset="0.7708" stop-color="#f60000"/><stop offset="0.7917" stop-color="#df0000"/><stop offset="0.8125" stop-color="#ca0000"/><stop offset="0.8333" stop-color="#bc0000"/><stop offset="0.8542" stop-color="#ad0000"/><stop offset="0.8750" stop-color="#990000"/><stop offset="0.8958" stop-color="#830000"/><stop offset="0.9167" stop-color="#700000"/><stop offset="0.9375" stop-color="#600000"/><stop offset="0.9583" stop-color="#510000"/><stop offset="0.9792" stop-color="#410000"/><stop offset="1.0000" stop-color="#300000"/></linearGradient></defs>
<rect x="605.7" y="253.2" width="32.09999999999991" height="3.6999999999999886" fill="#000"/>
<rect x="605.7" y="256.9" width="32.09999999999991" height="165.60000000000002" fill="url(#cbd)"/>
<text x="641.9" y="263.6" font-size="12" text-anchor="start">–78.00</text>
<text x="641.9" y="295.3" font-size="12" text-anchor="start">–32.60</text>
<text x="641.9" y="328.0" font-size="12" text-anchor="start">14.80</text>
<text x="641.9" y="359.9" font-size="12" text-anchor="start">61.20</text>
<text x="641.9" y="392.4" font-size="12" text-anchor="start">107.6</text>
<text x="641.9" y="424.7" font-size="12" text-anchor="start">154.0</text>
<rect x="475.4" y="256" width="121.4" height="93" fill="#fff"/>
<line x1="502.20" y1="259.70" x2="502.20" y2="319.90" stroke="#555" stroke-width="0.8"/>
<line x1="502.20" y1="319.90" x2="589.00" y2="319.90" stroke="#555" stroke-width="0.8"/>
<line x1="500.70" y1="282.70" x2="502.20" y2="282.70" stroke="#555" stroke-width="0.8"/>
<text x="498.6" y="285.2" font-size="7" text-anchor="end">50</text>
<line x1="500.70" y1="307.60" x2="502.20" y2="307.60" stroke="#555" stroke-width="0.8"/>
<text x="498.6" y="310.1" font-size="7" text-anchor="end">0</text>
<line x1="510.80" y1="319.90" x2="510.80" y2="321.40" stroke="#555" stroke-width="0.8"/>
<text x="510.8" y="330.0" font-size="7" text-anchor="middle">10.6</text>
<line x1="533.00" y1="319.90" x2="533.00" y2="321.40" stroke="#555" stroke-width="0.8"/>
<text x="533.0" y="330.0" font-size="7" text-anchor="middle">10.7</text>
<line x1="555.20" y1="319.90" x2="555.20" y2="321.40" stroke="#555" stroke-width="0.8"/>
<text x="555.2" y="330.0" font-size="7" text-anchor="middle">10.8</text>
<line x1="577.40" y1="319.90" x2="577.40" y2="321.40" stroke="#555" stroke-width="0.8"/>
<text x="577.4" y="330.0" font-size="7" text-anchor="middle">10.9</text>
<text x="544.6" y="342.6" font-size="7" text-anchor="middle">Δ<tspan font-family="Liberation Serif" font-style="italic">ν</tspan> (GHz)</text>
<text transform="translate(482.5,289.8) rotate(-90)" font-size="7" text-anchor="middle">Signal, a. u.</text>
<text x="535.6" y="281.8" font-size="12" text-anchor="start">30 MHz</text>
<polyline points="502.20,305.71 502.74,305.32 503.29,305.28 503.83,305.45 504.37,305.64 504.91,305.22 505.46,305.38 506.00,305.38 506.54,305.79 507.09,305.57 507.63,305.92 508.17,305.50 508.71,305.67 509.26,305.95 509.80,306.17 510.35,306.64 510.90,307.26 511.45,307.96 512.00,309.02 512.52,310.68 513.05,313.01 513.58,314.94 514.10,316.38 515.00,319.85 515.51,320.22 516.02,320.10 516.53,320.21 517.04,319.89 517.56,319.74 518.07,319.85 518.58,320.21 519.09,319.84 519.60,319.89 520.50,311.94 521.00,306.28 521.50,300.60 522.00,295.29 522.50,289.09 523.00,283.32 523.50,278.31 524.15,272.32 524.80,266.44 525.50,273.00 526.20,280.32 526.73,286.97 527.27,293.14 527.80,300.17 528.30,306.24 528.80,312.11 529.30,318.01 529.80,319.85 530.36,319.89 530.92,319.81 531.48,319.70 532.04,320.06 532.60,319.85 533.40,313.22 533.95,310.18 534.50,308.28 535.15,305.64 535.80,303.30 536.45,302.58 537.10,301.88 537.80,302.60 538.50,303.16 539.20,305.07 539.90,306.07 540.43,306.56 540.97,307.21 541.50,307.52 542.03,307.61 542.57,308.14 543.10,308.08 543.66,307.77 544.21,307.60 544.77,307.91 545.33,307.53 545.89,307.63 546.44,307.21 547.00,306.99 547.52,307.12 548.04,307.22 548.57,306.67 549.09,307.00 549.61,307.00 550.13,306.81 550.66,306.73 551.18,306.06 551.70,306.39 552.25,306.64 552.80,306.15 553.35,306.39 553.90,306.47 554.45,306.74 555.00,306.75 555.50,306.56 556.00,306.56 556.50,305.80 557.00,305.62 557.50,305.46 558.00,305.24 558.50,305.00 559.00,305.43 559.50,305.15 560.00,304.41 560.50,304.50 561.13,304.27 561.77,304.17 562.40,304.10 562.92,304.75 563.45,305.16 563.98,305.45 564.50,305.78 565.00,306.38 565.50,306.74 566.00,307.54 566.50,308.15 567.00,308.42 567.50,308.56 568.00,308.97 568.50,309.46 569.00,309.97 569.50,310.45 570.00,310.52 570.50,310.29 571.00,309.65 571.50,308.99 572.00,308.43 572.50,308.00 573.06,307.80 573.62,307.26 574.18,307.12 574.74,306.61 575.30,306.12 575.82,306.33 576.34,306.44 576.87,306.00 577.39,306.25 577.91,306.25 578.43,306.57 578.96,306.61 579.48,306.21 580.00,306.58 580.50,306.59 581.00,306.31 581.50,306.54 582.00,306.39 582.50,306.96 583.00,306.94 583.50,307.18 584.00,307.20 584.52,307.19 585.05,307.31 585.58,307.27 586.10,307.02 586.62,307.44 587.15,307.10 587.68,307.28 588.20,307.60" fill="none" stroke="#111" stroke-width="1.0" stroke-linejoin="round"/>
<line x1="505.50" y1="289.30" x2="518.50" y2="289.30" stroke="#000" stroke-width="1.4"/>
<polygon points="522.00,289.30 517.00,291.90 517.00,286.70" fill="#000"/>
<line x1="545.20" y1="289.30" x2="531.80" y2="289.30" stroke="#000" stroke-width="1.4"/>
<polygon points="528.30,289.30 533.30,286.70 533.30,291.90" fill="#000"/></svg></body></html>
